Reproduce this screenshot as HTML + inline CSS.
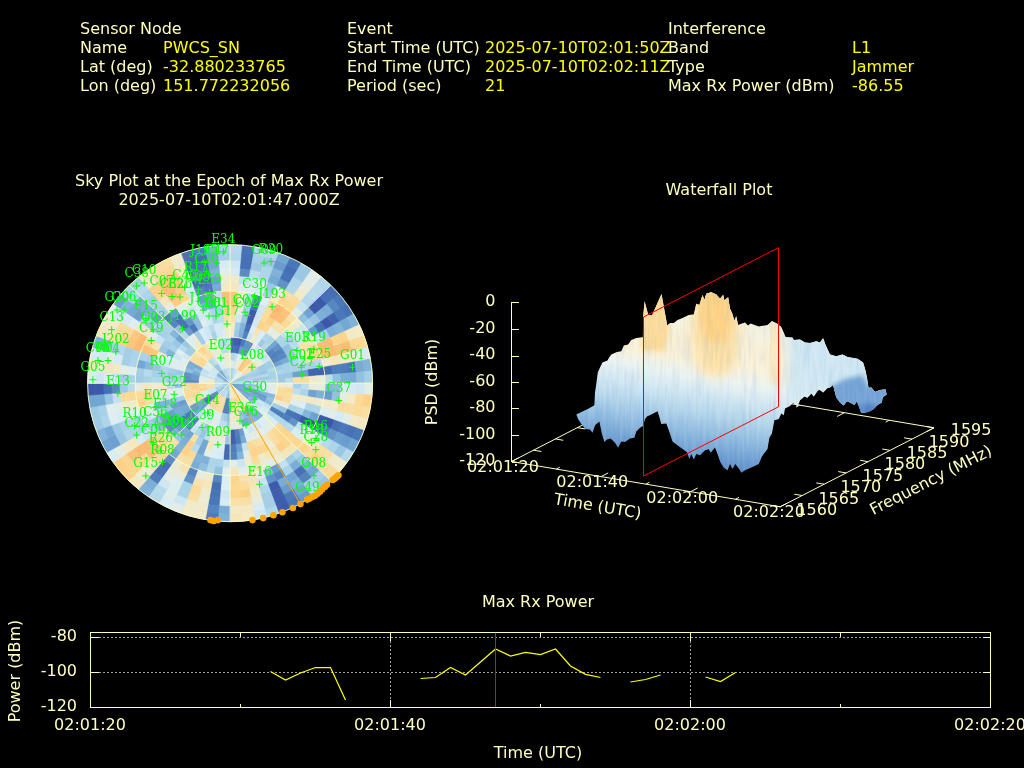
<!DOCTYPE html>
<html><head><meta charset="utf-8"><title>Interference Event</title>
<style>
html,body{margin:0;padding:0;background:#000;overflow:hidden}
svg{display:block;font-family:"DejaVu Sans","Liberation Sans",sans-serif}
</style></head><body>
<svg width="1024" height="768" viewBox="0 0 1024 768">
<rect width="1024" height="768" fill="#000"/>
<text x="80" y="33.76" fill="#FFFFBF" text-anchor="start" font-size="16" >Sensor Node</text>
<text x="80" y="52.76" fill="#FFFFBF" text-anchor="start" font-size="16" >Name</text>
<text x="163" y="52.76" fill="#FFFF00" text-anchor="start" font-size="16" >PWCS_SN</text>
<text x="80" y="71.76" fill="#FFFFBF" text-anchor="start" font-size="16" >Lat (deg)</text>
<text x="163" y="71.76" fill="#FFFF00" text-anchor="start" font-size="16" >-32.880233765</text>
<text x="80" y="90.76" fill="#FFFFBF" text-anchor="start" font-size="16" >Lon (deg)</text>
<text x="163" y="90.76" fill="#FFFF00" text-anchor="start" font-size="16" >151.772232056</text>
<text x="347" y="33.76" fill="#FFFFBF" text-anchor="start" font-size="16" >Event</text>
<text x="347" y="52.76" fill="#FFFFBF" text-anchor="start" font-size="16" >Start Time (UTC)</text>
<text x="485" y="52.76" fill="#FFFF00" text-anchor="start" font-size="16" >2025-07-10T02:01:50Z</text>
<text x="347" y="71.76" fill="#FFFFBF" text-anchor="start" font-size="16" >End Time (UTC)</text>
<text x="485" y="71.76" fill="#FFFF00" text-anchor="start" font-size="16" >2025-07-10T02:02:11Z</text>
<text x="347" y="90.76" fill="#FFFFBF" text-anchor="start" font-size="16" >Period (sec)</text>
<text x="485" y="90.76" fill="#FFFF00" text-anchor="start" font-size="16" >21</text>
<text x="668" y="33.76" fill="#FFFFBF" text-anchor="start" font-size="16" >Interference</text>
<text x="668" y="52.76" fill="#FFFFBF" text-anchor="start" font-size="16" >Band</text>
<text x="852" y="52.76" fill="#FFFF00" text-anchor="start" font-size="16" >L1</text>
<text x="668" y="71.76" fill="#FFFFBF" text-anchor="start" font-size="16" >Type</text>
<text x="852" y="71.76" fill="#FFFF00" text-anchor="start" font-size="16" >Jammer</text>
<text x="668" y="90.76" fill="#FFFFBF" text-anchor="start" font-size="16" >Max Rx Power (dBm)</text>
<text x="852" y="90.76" fill="#FFFF00" text-anchor="start" font-size="16" >-86.55</text>
<text x="229" y="185.76" fill="#FFFFBF" text-anchor="middle" font-size="16" >Sky Plot at the Epoch of Max Rx Power</text>
<text x="229" y="204.76" fill="#FFFFBF" text-anchor="middle" font-size="16" >2025-07-10T02:01:47.000Z</text>
<text x="719" y="194.76" fill="#FFFFBF" text-anchor="middle" font-size="16" >Waterfall Plot</text>
<text x="538" y="606.76" fill="#FFFFBF" text-anchor="middle" font-size="16" >Max Rx Power</text>
<text x="538" y="757.76" fill="#FFFFBF" text-anchor="middle" font-size="16" >Time (UTC)</text>
<g shape-rendering="crispEdges" stroke="#FFFFBF" stroke-width="1" fill="none">
<line x1="90.5" y1="637.5" x2="990.5" y2="637.5" stroke-dasharray="2,2" stroke="#A0A0A0"/>
<line x1="90.5" y1="672.5" x2="990.5" y2="672.5" stroke-dasharray="2,2" stroke="#A0A0A0"/>
<line x1="390.5" y1="632.5" x2="390.5" y2="707.5" stroke-dasharray="2,2" stroke="#A0A0A0"/>
<line x1="690.5" y1="632.5" x2="690.5" y2="707.5" stroke-dasharray="2,2" stroke="#A0A0A0"/>
<rect x="90.5" y="632.5" width="900.0" height="75.0"/>
<line x1="90.5" y1="637.5" x2="98.5" y2="637.5"/><line x1="982.5" y1="637.5" x2="990.5" y2="637.5"/>
<line x1="90.5" y1="672.5" x2="98.5" y2="672.5"/><line x1="982.5" y1="672.5" x2="990.5" y2="672.5"/>
<line x1="390.5" y1="632.5" x2="390.5" y2="640.5"/><line x1="390.5" y1="699.5" x2="390.5" y2="707.5"/>
<line x1="690.5" y1="632.5" x2="690.5" y2="640.5"/><line x1="690.5" y1="699.5" x2="690.5" y2="707.5"/>
<line x1="240.5" y1="632.5" x2="240.5" y2="636.5"/><line x1="240.5" y1="703.5" x2="240.5" y2="707.5"/>
<line x1="540.5" y1="632.5" x2="540.5" y2="636.5"/><line x1="540.5" y1="703.5" x2="540.5" y2="707.5"/>
<line x1="840.5" y1="632.5" x2="840.5" y2="636.5"/><line x1="840.5" y1="703.5" x2="840.5" y2="707.5"/>
</g>
<text x="77" y="641.06" fill="#FFFFBF" text-anchor="end" font-size="16" >-80</text>
<text x="77" y="676.06" fill="#FFFFBF" text-anchor="end" font-size="16" >-100</text>
<text x="77" y="711.06" fill="#FFFFBF" text-anchor="end" font-size="16" >-120</text>
<text x="90" y="729.76" fill="#FFFFBF" text-anchor="middle" font-size="16" >02:01:20</text>
<text x="390" y="729.76" fill="#FFFFBF" text-anchor="middle" font-size="16" >02:01:40</text>
<text x="690" y="729.76" fill="#FFFFBF" text-anchor="middle" font-size="16" >02:02:00</text>
<text x="990" y="729.76" fill="#FFFFBF" text-anchor="middle" font-size="16" >02:02:20</text>
<text transform="translate(14,671) rotate(-90)" y="5.8" fill="#FFFFBF" text-anchor="middle" font-size="16">Power (dBm)</text>
<polyline fill="none" stroke="#FFFF00" stroke-width="1.25" points="270.5,671.5 285.5,680 300.5,673 315.5,667.5 330.5,667.5 345.5,700"/>
<polyline fill="none" stroke="#FFFF00" stroke-width="1.25" points="420.5,678.5 435.5,677.5 450.5,667.5 465.5,675 480.5,662 495.5,649 510.5,656 525.5,652.5 540.5,654.5 555.5,649 570.5,666 585.5,674.3 600.5,677.5"/>
<polyline fill="none" stroke="#FFFF00" stroke-width="1.25" points="630.5,682 645.5,679.5 660.5,675"/>
<polyline fill="none" stroke="#FFFF00" stroke-width="1.25" points="705.5,677 720.5,681.5 735.5,672.5"/>
<line x1="495.5" y1="633" x2="495.5" y2="707" stroke="#FF0000" stroke-width="1" shape-rendering="crispEdges"/>
<ellipse cx="230.1" cy="383.2" rx="142.5" ry="138.5" fill="#A9D3E8"/>
<path d="M230.1,375.5 L230.3,375.5 L230.6,375.5 L230.8,375.5 L230.1,383.2Z" fill="#A3CEE6" stroke="#A3CEE6" stroke-width="0.6"/>
<path d="M230.1,367.8 L230.6,367.8 L231.0,367.8 L231.5,367.9 L230.8,375.5 L230.6,375.5 L230.3,375.5 L230.1,375.5Z" fill="#A6D0E7" stroke="#A6D0E7" stroke-width="0.6"/>
<path d="M230.1,360.1 L230.8,360.1 L231.5,360.2 L232.2,360.2 L231.5,367.9 L231.0,367.8 L230.6,367.8 L230.1,367.8Z" fill="#D9ECF5" stroke="#D9ECF5" stroke-width="0.6"/>
<path d="M230.1,352.4 L231.0,352.4 L231.9,352.5 L232.9,352.5 L232.2,360.2 L231.5,360.2 L230.8,360.1 L230.1,360.1Z" fill="#B0D7EA" stroke="#B0D7EA" stroke-width="0.6"/>
<path d="M230.1,344.7 L231.3,344.7 L232.4,344.8 L233.5,344.9 L232.9,352.5 L231.9,352.5 L231.0,352.4 L230.1,352.4Z" fill="#446BB2" stroke="#446BB2" stroke-width="0.6"/>
<path d="M230.1,337.0 L231.5,337.1 L232.9,337.1 L234.2,337.2 L233.5,344.9 L232.4,344.8 L231.3,344.7 L230.1,344.7Z" fill="#456CB3" stroke="#456CB3" stroke-width="0.6"/>
<path d="M230.1,329.3 L231.7,329.4 L233.3,329.4 L234.9,329.5 L234.2,337.2 L232.9,337.1 L231.5,337.1 L230.1,337.0Z" fill="#EDECD4" stroke="#EDECD4" stroke-width="0.6"/>
<path d="M230.1,321.6 L231.9,321.7 L233.8,321.7 L235.6,321.9 L234.9,329.5 L233.3,329.4 L231.7,329.4 L230.1,329.3Z" fill="#F4E9C1" stroke="#F4E9C1" stroke-width="0.6"/>
<path d="M230.1,313.9 L232.2,314.0 L234.2,314.1 L236.3,314.2 L235.6,321.9 L233.8,321.7 L231.9,321.7 L230.1,321.6Z" fill="#F9E0A7" stroke="#F9E0A7" stroke-width="0.6"/>
<path d="M230.1,306.3 L232.4,306.3 L234.7,306.4 L237.0,306.5 L236.3,314.2 L234.2,314.1 L232.2,314.0 L230.1,313.9Z" fill="#FDD68E" stroke="#FDD68E" stroke-width="0.6"/>
<path d="M230.1,298.6 L232.6,298.6 L235.2,298.7 L237.7,298.9 L237.0,306.5 L234.7,306.4 L232.4,306.3 L230.1,306.3Z" fill="#FDC67E" stroke="#FDC67E" stroke-width="0.6"/>
<path d="M230.1,290.9 L232.9,290.9 L235.6,291.0 L238.4,291.2 L237.7,298.9 L235.2,298.7 L232.6,298.6 L230.1,298.6Z" fill="#FDC981" stroke="#FDC981" stroke-width="0.6"/>
<path d="M230.1,283.2 L233.1,283.2 L236.1,283.3 L239.1,283.6 L238.4,291.2 L235.6,291.0 L232.9,290.9 L230.1,290.9Z" fill="#F5E7BD" stroke="#F5E7BD" stroke-width="0.6"/>
<path d="M230.1,275.5 L233.3,275.5 L236.5,275.7 L239.8,275.9 L239.1,283.6 L236.1,283.3 L233.1,283.2 L230.1,283.2Z" fill="#F4EAC4" stroke="#F4EAC4" stroke-width="0.6"/>
<path d="M230.1,267.8 L233.6,267.8 L237.0,268.0 L240.4,268.2 L239.8,275.9 L236.5,275.7 L233.3,275.5 L230.1,275.5Z" fill="#D7EBF5" stroke="#D7EBF5" stroke-width="0.6"/>
<path d="M230.1,260.1 L233.8,260.1 L237.5,260.3 L241.1,260.6 L240.4,268.2 L237.0,268.0 L233.6,267.8 L230.1,267.8Z" fill="#CDE6F2" stroke="#CDE6F2" stroke-width="0.6"/>
<path d="M230.1,252.4 L234.0,252.4 L237.9,252.6 L241.8,252.9 L241.1,260.6 L237.5,260.3 L233.8,260.1 L230.1,260.1Z" fill="#B3D8EB" stroke="#B3D8EB" stroke-width="0.6"/>
<path d="M230.1,244.7 L234.2,244.8 L238.4,244.9 L242.5,245.2 L241.8,252.9 L237.9,252.6 L234.0,252.4 L230.1,252.4Z" fill="#B7DAEC" stroke="#B7DAEC" stroke-width="0.6"/>
<path d="M230.8,375.5 L231.0,375.6 L231.2,375.6 L231.5,375.6 L230.1,383.2Z" fill="#ABD4E9" stroke="#ABD4E9" stroke-width="0.6"/>
<path d="M231.5,367.9 L231.9,367.9 L232.4,368.0 L232.8,368.0 L231.5,375.6 L231.2,375.6 L231.0,375.6 L230.8,375.5Z" fill="#ADD5E9" stroke="#ADD5E9" stroke-width="0.6"/>
<path d="M232.2,360.2 L232.9,360.3 L233.5,360.4 L234.2,360.5 L232.8,368.0 L232.4,368.0 L231.9,367.9 L231.5,367.9Z" fill="#DFEEF0" stroke="#DFEEF0" stroke-width="0.6"/>
<path d="M232.9,352.5 L233.8,352.6 L234.7,352.7 L235.6,352.9 L234.2,360.5 L233.5,360.4 L232.9,360.3 L232.2,360.2Z" fill="#B0D6EA" stroke="#B0D6EA" stroke-width="0.6"/>
<path d="M233.5,344.9 L234.7,345.0 L235.8,345.1 L237.0,345.3 L235.6,352.9 L234.7,352.7 L233.8,352.6 L232.9,352.5Z" fill="#4772B5" stroke="#4772B5" stroke-width="0.6"/>
<path d="M234.2,337.2 L235.6,337.3 L237.0,337.5 L238.3,337.7 L237.0,345.3 L235.8,345.1 L234.7,345.0 L233.5,344.9Z" fill="#4060AD" stroke="#4060AD" stroke-width="0.6"/>
<path d="M234.9,329.5 L236.5,329.7 L238.1,329.9 L239.7,330.2 L238.3,337.7 L237.0,337.5 L235.6,337.3 L234.2,337.2Z" fill="#9ECAE4" stroke="#9ECAE4" stroke-width="0.6"/>
<path d="M235.6,321.9 L237.5,322.1 L239.3,322.3 L241.1,322.6 L239.7,330.2 L238.1,329.9 L236.5,329.7 L234.9,329.5Z" fill="#A3CFE6" stroke="#A3CFE6" stroke-width="0.6"/>
<path d="M236.3,314.2 L238.4,314.4 L240.4,314.7 L242.5,315.0 L241.1,322.6 L239.3,322.3 L237.5,322.1 L235.6,321.9Z" fill="#D0E8F3" stroke="#D0E8F3" stroke-width="0.6"/>
<path d="M237.0,306.5 L239.3,306.8 L241.6,307.1 L243.8,307.4 L242.5,315.0 L240.4,314.7 L238.4,314.4 L236.3,314.2Z" fill="#E3EDE8" stroke="#E3EDE8" stroke-width="0.6"/>
<path d="M237.7,298.9 L240.2,299.1 L242.7,299.5 L245.2,299.8 L243.8,307.4 L241.6,307.1 L239.3,306.8 L237.0,306.5Z" fill="#ECECD7" stroke="#ECECD7" stroke-width="0.6"/>
<path d="M238.4,291.2 L241.1,291.5 L243.9,291.8 L246.6,292.3 L245.2,299.8 L242.7,299.5 L240.2,299.1 L237.7,298.9Z" fill="#F1EBCB" stroke="#F1EBCB" stroke-width="0.6"/>
<path d="M239.1,283.6 L242.0,283.8 L245.0,284.2 L248.0,284.7 L246.6,292.3 L243.9,291.8 L241.1,291.5 L238.4,291.2Z" fill="#E1EDEC" stroke="#E1EDEC" stroke-width="0.6"/>
<path d="M239.8,275.9 L243.0,276.2 L246.2,276.6 L249.3,277.1 L248.0,284.7 L245.0,284.2 L242.0,283.8 L239.1,283.6Z" fill="#C5E2F0" stroke="#C5E2F0" stroke-width="0.6"/>
<path d="M240.4,268.2 L243.9,268.6 L247.3,269.0 L250.7,269.5 L249.3,277.1 L246.2,276.6 L243.0,276.2 L239.8,275.9Z" fill="#5B8BC3" stroke="#5B8BC3" stroke-width="0.6"/>
<path d="M241.1,260.6 L244.8,260.9 L248.5,261.4 L252.1,262.0 L250.7,269.5 L247.3,269.0 L243.9,268.6 L240.4,268.2Z" fill="#466FB4" stroke="#466FB4" stroke-width="0.6"/>
<path d="M241.8,252.9 L245.7,253.3 L249.6,253.8 L253.5,254.4 L252.1,262.0 L248.5,261.4 L244.8,260.9 L241.1,260.6Z" fill="#466FB4" stroke="#466FB4" stroke-width="0.6"/>
<path d="M242.5,245.2 L246.6,245.6 L250.8,246.2 L254.8,246.8 L253.5,254.4 L249.6,253.8 L245.7,253.3 L241.8,252.9Z" fill="#4772B5" stroke="#4772B5" stroke-width="0.6"/>
<path d="M231.5,375.6 L231.7,375.7 L231.9,375.7 L232.1,375.8 L230.1,383.2Z" fill="#AFD6EA" stroke="#AFD6EA" stroke-width="0.6"/>
<path d="M232.8,368.0 L233.3,368.1 L233.8,368.2 L234.2,368.3 L232.1,375.8 L231.9,375.7 L231.7,375.7 L231.5,375.6Z" fill="#AED6E9" stroke="#AED6E9" stroke-width="0.6"/>
<path d="M234.2,360.5 L234.9,360.6 L235.6,360.7 L236.2,360.9 L234.2,368.3 L233.8,368.2 L233.3,368.1 L232.8,368.0Z" fill="#CFE7F2" stroke="#CFE7F2" stroke-width="0.6"/>
<path d="M235.6,352.9 L236.5,353.1 L237.4,353.3 L238.3,353.5 L236.2,360.9 L235.6,360.7 L234.9,360.6 L234.2,360.5Z" fill="#C0DFEE" stroke="#C0DFEE" stroke-width="0.6"/>
<path d="M237.0,345.3 L238.1,345.5 L239.2,345.8 L240.3,346.0 L238.3,353.5 L237.4,353.3 L236.5,353.1 L235.6,352.9Z" fill="#4469B1" stroke="#4469B1" stroke-width="0.6"/>
<path d="M238.3,337.7 L239.7,338.0 L241.1,338.3 L242.4,338.6 L240.3,346.0 L239.2,345.8 L238.1,345.5 L237.0,345.3Z" fill="#3E5BAB" stroke="#3E5BAB" stroke-width="0.6"/>
<path d="M239.7,330.2 L241.3,330.5 L242.9,330.8 L244.4,331.2 L242.4,338.6 L241.1,338.3 L239.7,338.0 L238.3,337.7Z" fill="#7DB0D8" stroke="#7DB0D8" stroke-width="0.6"/>
<path d="M241.1,322.6 L242.9,322.9 L244.7,323.3 L246.5,323.7 L244.4,331.2 L242.9,330.8 L241.3,330.5 L239.7,330.2Z" fill="#81B3D9" stroke="#81B3D9" stroke-width="0.6"/>
<path d="M242.5,315.0 L244.5,315.4 L246.5,315.8 L248.5,316.3 L246.5,323.7 L244.7,323.3 L242.9,322.9 L241.1,322.6Z" fill="#9AC7E2" stroke="#9AC7E2" stroke-width="0.6"/>
<path d="M243.8,307.4 L246.1,307.8 L248.4,308.3 L250.6,308.9 L248.5,316.3 L246.5,315.8 L244.5,315.4 L242.5,315.0Z" fill="#ABD4E9" stroke="#ABD4E9" stroke-width="0.6"/>
<path d="M245.2,299.8 L247.7,300.3 L250.2,300.8 L252.6,301.4 L250.6,308.9 L248.4,308.3 L246.1,307.8 L243.8,307.4Z" fill="#AAD3E8" stroke="#AAD3E8" stroke-width="0.6"/>
<path d="M246.6,292.3 L249.3,292.8 L252.0,293.4 L254.7,294.0 L252.6,301.4 L250.2,300.8 L247.7,300.3 L245.2,299.8Z" fill="#BBDCED" stroke="#BBDCED" stroke-width="0.6"/>
<path d="M248.0,284.7 L250.9,285.2 L253.8,285.9 L256.7,286.6 L254.7,294.0 L252.0,293.4 L249.3,292.8 L246.6,292.3Z" fill="#DCEEF5" stroke="#DCEEF5" stroke-width="0.6"/>
<path d="M249.3,277.1 L252.5,277.7 L255.7,278.4 L258.8,279.1 L256.7,286.6 L253.8,285.9 L250.9,285.2 L248.0,284.7Z" fill="#CFE7F2" stroke="#CFE7F2" stroke-width="0.6"/>
<path d="M250.7,269.5 L254.1,270.2 L257.5,270.9 L260.8,271.7 L258.8,279.1 L255.7,278.4 L252.5,277.7 L249.3,277.1Z" fill="#BEDEEE" stroke="#BEDEEE" stroke-width="0.6"/>
<path d="M252.1,262.0 L255.7,262.6 L259.3,263.4 L262.9,264.3 L260.8,271.7 L257.5,270.9 L254.1,270.2 L250.7,269.5Z" fill="#9DC9E3" stroke="#9DC9E3" stroke-width="0.6"/>
<path d="M253.5,254.4 L257.3,255.1 L261.1,255.9 L264.9,256.9 L262.9,264.3 L259.3,263.4 L255.7,262.6 L252.1,262.0Z" fill="#A6D1E7" stroke="#A6D1E7" stroke-width="0.6"/>
<path d="M254.8,246.8 L258.9,247.6 L263.0,248.4 L267.0,249.4 L264.9,256.9 L261.1,255.9 L257.3,255.1 L253.5,254.4Z" fill="#B1D7EA" stroke="#B1D7EA" stroke-width="0.6"/>
<path d="M232.1,375.8 L232.4,375.8 L232.6,375.9 L232.8,376.0 L230.1,383.2Z" fill="#9ECAE4" stroke="#9ECAE4" stroke-width="0.6"/>
<path d="M234.2,368.3 L234.6,368.5 L235.1,368.6 L235.5,368.7 L232.8,376.0 L232.6,375.9 L232.4,375.8 L232.1,375.8Z" fill="#B8DBEC" stroke="#B8DBEC" stroke-width="0.6"/>
<path d="M236.2,360.9 L236.9,361.1 L237.6,361.3 L238.2,361.5 L235.5,368.7 L235.1,368.6 L234.6,368.5 L234.2,368.3Z" fill="#E6EDE3" stroke="#E6EDE3" stroke-width="0.6"/>
<path d="M238.3,353.5 L239.2,353.7 L240.1,354.0 L240.9,354.3 L238.2,361.5 L237.6,361.3 L236.9,361.1 L236.2,360.9Z" fill="#E8ECDF" stroke="#E8ECDF" stroke-width="0.6"/>
<path d="M240.3,346.0 L241.5,346.3 L242.6,346.7 L243.6,347.0 L240.9,354.3 L240.1,354.0 L239.2,353.7 L238.3,353.5Z" fill="#6A9CCD" stroke="#6A9CCD" stroke-width="0.6"/>
<path d="M242.4,338.6 L243.7,339.0 L245.0,339.4 L246.3,339.8 L243.6,347.0 L242.6,346.7 L241.5,346.3 L240.3,346.0Z" fill="#4C7AB9" stroke="#4C7AB9" stroke-width="0.6"/>
<path d="M244.4,331.2 L246.0,331.6 L247.5,332.1 L249.1,332.6 L246.3,339.8 L245.0,339.4 L243.7,339.0 L242.4,338.6Z" fill="#5383BE" stroke="#5383BE" stroke-width="0.6"/>
<path d="M246.5,323.7 L248.3,324.2 L250.0,324.8 L251.8,325.4 L249.1,332.6 L247.5,332.1 L246.0,331.6 L244.4,331.2Z" fill="#4670B4" stroke="#4670B4" stroke-width="0.6"/>
<path d="M248.5,316.3 L250.5,316.9 L252.5,317.5 L254.5,318.1 L251.8,325.4 L250.0,324.8 L248.3,324.2 L246.5,323.7Z" fill="#3F5DAC" stroke="#3F5DAC" stroke-width="0.6"/>
<path d="M250.6,308.9 L252.8,309.5 L255.0,310.2 L257.2,310.9 L254.5,318.1 L252.5,317.5 L250.5,316.9 L248.5,316.3Z" fill="#3E5BAB" stroke="#3E5BAB" stroke-width="0.6"/>
<path d="M252.6,301.4 L255.1,302.1 L257.5,302.9 L259.9,303.7 L257.2,310.9 L255.0,310.2 L252.8,309.5 L250.6,308.9Z" fill="#4975B7" stroke="#4975B7" stroke-width="0.6"/>
<path d="M254.7,294.0 L257.3,294.7 L260.0,295.6 L262.6,296.4 L259.9,303.7 L257.5,302.9 L255.1,302.1 L252.6,301.4Z" fill="#5989C2" stroke="#5989C2" stroke-width="0.6"/>
<path d="M256.7,286.6 L259.6,287.4 L262.5,288.2 L265.3,289.2 L262.6,296.4 L260.0,295.6 L257.3,294.7 L254.7,294.0Z" fill="#D3E9F4" stroke="#D3E9F4" stroke-width="0.6"/>
<path d="M258.8,279.1 L261.9,280.0 L265.0,280.9 L268.0,282.0 L265.3,289.2 L262.5,288.2 L259.6,287.4 L256.7,286.6Z" fill="#DFEEEF" stroke="#DFEEEF" stroke-width="0.6"/>
<path d="M260.8,271.7 L264.2,272.6 L267.5,273.6 L270.7,274.7 L268.0,282.0 L265.0,280.9 L261.9,280.0 L258.8,279.1Z" fill="#AFD6EA" stroke="#AFD6EA" stroke-width="0.6"/>
<path d="M262.9,264.3 L266.4,265.3 L269.9,266.3 L273.4,267.5 L270.7,274.7 L267.5,273.6 L264.2,272.6 L260.8,271.7Z" fill="#AED6E9" stroke="#AED6E9" stroke-width="0.6"/>
<path d="M264.9,256.9 L268.7,257.9 L272.4,259.0 L276.1,260.3 L273.4,267.5 L269.9,266.3 L266.4,265.3 L262.9,264.3Z" fill="#9BC8E3" stroke="#9BC8E3" stroke-width="0.6"/>
<path d="M267.0,249.4 L271.0,250.5 L274.9,251.7 L278.8,253.1 L276.1,260.3 L272.4,259.0 L268.7,257.9 L264.9,256.9Z" fill="#AFD6EA" stroke="#AFD6EA" stroke-width="0.6"/>
<path d="M232.8,376.0 L233.0,376.0 L233.2,376.1 L233.4,376.2 L230.1,383.2Z" fill="#AED5E9" stroke="#AED5E9" stroke-width="0.6"/>
<path d="M235.5,368.7 L235.9,368.9 L236.4,369.1 L236.8,369.3 L233.4,376.2 L233.2,376.1 L233.0,376.0 L232.8,376.0Z" fill="#C7E3F0" stroke="#C7E3F0" stroke-width="0.6"/>
<path d="M238.2,361.5 L238.9,361.7 L239.5,362.0 L240.1,362.3 L236.8,369.3 L236.4,369.1 L235.9,368.9 L235.5,368.7Z" fill="#F1EBCD" stroke="#F1EBCD" stroke-width="0.6"/>
<path d="M240.9,354.3 L241.8,354.6 L242.6,354.9 L243.5,355.3 L240.1,362.3 L239.5,362.0 L238.9,361.7 L238.2,361.5Z" fill="#E2EDEA" stroke="#E2EDEA" stroke-width="0.6"/>
<path d="M243.6,347.0 L244.7,347.4 L245.8,347.9 L246.8,348.3 L243.5,355.3 L242.6,354.9 L241.8,354.6 L240.9,354.3Z" fill="#6092C7" stroke="#6092C7" stroke-width="0.6"/>
<path d="M246.3,339.8 L247.6,340.3 L248.9,340.8 L250.2,341.4 L246.8,348.3 L245.8,347.9 L244.7,347.4 L243.6,347.0Z" fill="#6192C7" stroke="#6192C7" stroke-width="0.6"/>
<path d="M249.1,332.6 L250.6,333.1 L252.0,333.7 L253.5,334.4 L250.2,341.4 L248.9,340.8 L247.6,340.3 L246.3,339.8Z" fill="#CDE6F2" stroke="#CDE6F2" stroke-width="0.6"/>
<path d="M251.8,325.4 L253.5,326.0 L255.2,326.7 L256.9,327.4 L253.5,334.4 L252.0,333.7 L250.6,333.1 L249.1,332.6Z" fill="#DBEDF6" stroke="#DBEDF6" stroke-width="0.6"/>
<path d="M254.5,318.1 L256.4,318.8 L258.3,319.6 L260.2,320.4 L256.9,327.4 L255.2,326.7 L253.5,326.0 L251.8,325.4Z" fill="#D2E9F3" stroke="#D2E9F3" stroke-width="0.6"/>
<path d="M257.2,310.9 L259.3,311.7 L261.5,312.5 L263.6,313.5 L260.2,320.4 L258.3,319.6 L256.4,318.8 L254.5,318.1Z" fill="#D0E8F3" stroke="#D0E8F3" stroke-width="0.6"/>
<path d="M259.9,303.7 L262.3,304.5 L264.6,305.5 L266.9,306.5 L263.6,313.5 L261.5,312.5 L259.3,311.7 L257.2,310.9Z" fill="#CFE7F2" stroke="#CFE7F2" stroke-width="0.6"/>
<path d="M262.6,296.4 L265.2,297.4 L267.7,298.4 L270.2,299.5 L266.9,306.5 L264.6,305.5 L262.3,304.5 L259.9,303.7Z" fill="#DDEEF4" stroke="#DDEEF4" stroke-width="0.6"/>
<path d="M265.3,289.2 L268.1,290.2 L270.9,291.4 L273.6,292.5 L270.2,299.5 L267.7,298.4 L265.2,297.4 L262.6,296.4Z" fill="#A4CFE6" stroke="#A4CFE6" stroke-width="0.6"/>
<path d="M268.0,282.0 L271.0,283.1 L274.0,284.3 L276.9,285.6 L273.6,292.5 L270.9,291.4 L268.1,290.2 L265.3,289.2Z" fill="#9AC7E2" stroke="#9AC7E2" stroke-width="0.6"/>
<path d="M270.7,274.7 L273.9,275.9 L277.1,277.2 L280.3,278.6 L276.9,285.6 L274.0,284.3 L271.0,283.1 L268.0,282.0Z" fill="#77ABD5" stroke="#77ABD5" stroke-width="0.6"/>
<path d="M273.4,267.5 L276.9,268.8 L280.3,270.2 L283.6,271.6 L280.3,278.6 L277.1,277.2 L273.9,275.9 L270.7,274.7Z" fill="#80B2D8" stroke="#80B2D8" stroke-width="0.6"/>
<path d="M276.1,260.3 L279.8,261.6 L283.4,263.1 L287.0,264.6 L283.6,271.6 L280.3,270.2 L276.9,268.8 L273.4,267.5Z" fill="#699CCD" stroke="#699CCD" stroke-width="0.6"/>
<path d="M278.8,253.1 L282.7,254.5 L286.5,256.0 L290.3,257.7 L287.0,264.6 L283.4,263.1 L279.8,261.6 L276.1,260.3Z" fill="#73A7D3" stroke="#73A7D3" stroke-width="0.6"/>
<path d="M233.4,376.2 L233.7,376.3 L233.9,376.4 L234.1,376.5 L230.1,383.2Z" fill="#ABD4E8" stroke="#ABD4E8" stroke-width="0.6"/>
<path d="M236.8,369.3 L237.2,369.4 L237.6,369.7 L238.0,369.9 L234.1,376.5 L233.9,376.4 L233.7,376.3 L233.4,376.2Z" fill="#C4E1EF" stroke="#C4E1EF" stroke-width="0.6"/>
<path d="M240.1,362.3 L240.8,362.6 L241.4,362.9 L242.0,363.2 L238.0,369.9 L237.6,369.7 L237.2,369.4 L236.8,369.3Z" fill="#F1EBCD" stroke="#F1EBCD" stroke-width="0.6"/>
<path d="M243.5,355.3 L244.3,355.7 L245.1,356.1 L245.9,356.5 L242.0,363.2 L241.4,362.9 L240.8,362.6 L240.1,362.3Z" fill="#EAECDA" stroke="#EAECDA" stroke-width="0.6"/>
<path d="M246.8,348.3 L247.9,348.8 L248.9,349.3 L249.9,349.9 L245.9,356.5 L245.1,356.1 L244.3,355.7 L243.5,355.3Z" fill="#5E8EC5" stroke="#5E8EC5" stroke-width="0.6"/>
<path d="M250.2,341.4 L251.4,341.9 L252.6,342.6 L253.8,343.2 L249.9,349.9 L248.9,349.3 L247.9,348.8 L246.8,348.3Z" fill="#6192C7" stroke="#6192C7" stroke-width="0.6"/>
<path d="M253.5,334.4 L255.0,335.1 L256.4,335.8 L257.8,336.6 L253.8,343.2 L252.6,342.6 L251.4,341.9 L250.2,341.4Z" fill="#F1EBCC" stroke="#F1EBCC" stroke-width="0.6"/>
<path d="M256.9,327.4 L258.5,328.2 L260.2,329.0 L261.8,329.9 L257.8,336.6 L256.4,335.8 L255.0,335.1 L253.5,334.4Z" fill="#F7E4B4" stroke="#F7E4B4" stroke-width="0.6"/>
<path d="M260.2,320.4 L262.1,321.3 L263.9,322.2 L265.7,323.2 L261.8,329.9 L260.2,329.0 L258.5,328.2 L256.9,327.4Z" fill="#FDD48C" stroke="#FDD48C" stroke-width="0.6"/>
<path d="M263.6,313.5 L265.6,314.4 L267.7,315.5 L269.7,316.6 L265.7,323.2 L263.9,322.2 L262.1,321.3 L260.2,320.4Z" fill="#FBDC9C" stroke="#FBDC9C" stroke-width="0.6"/>
<path d="M266.9,306.5 L269.2,307.6 L271.4,308.7 L273.6,309.9 L269.7,316.6 L267.7,315.5 L265.6,314.4 L263.6,313.5Z" fill="#FBDC9B" stroke="#FBDC9B" stroke-width="0.6"/>
<path d="M270.2,299.5 L272.7,300.7 L275.2,301.9 L277.6,303.2 L273.6,309.9 L271.4,308.7 L269.2,307.6 L266.9,306.5Z" fill="#FADDA0" stroke="#FADDA0" stroke-width="0.6"/>
<path d="M273.6,292.5 L276.3,293.8 L278.9,295.2 L281.6,296.6 L277.6,303.2 L275.2,301.9 L272.7,300.7 L270.2,299.5Z" fill="#F2EBCA" stroke="#F2EBCA" stroke-width="0.6"/>
<path d="M276.9,285.6 L279.8,286.9 L282.7,288.4 L285.5,289.9 L281.6,296.6 L278.9,295.2 L276.3,293.8 L273.6,292.5Z" fill="#E7EDDF" stroke="#E7EDDF" stroke-width="0.6"/>
<path d="M280.3,278.6 L283.4,280.1 L286.5,281.6 L289.5,283.2 L285.5,289.9 L282.7,288.4 L279.8,286.9 L276.9,285.6Z" fill="#6193C7" stroke="#6193C7" stroke-width="0.6"/>
<path d="M283.6,271.6 L286.9,273.2 L290.2,274.8 L293.4,276.6 L289.5,283.2 L286.5,281.6 L283.4,280.1 L280.3,278.6Z" fill="#4873B6" stroke="#4873B6" stroke-width="0.6"/>
<path d="M287.0,264.6 L290.5,266.3 L294.0,268.1 L297.4,269.9 L293.4,276.6 L290.2,274.8 L286.9,273.2 L283.6,271.6Z" fill="#466EB3" stroke="#466EB3" stroke-width="0.6"/>
<path d="M290.3,257.7 L294.1,259.4 L297.7,261.3 L301.3,263.3 L297.4,269.9 L294.0,268.1 L290.5,266.3 L287.0,264.6Z" fill="#4976B7" stroke="#4976B7" stroke-width="0.6"/>
<path d="M234.1,376.5 L234.3,376.7 L234.5,376.8 L234.6,376.9 L230.1,383.2Z" fill="#D8ECF5" stroke="#D8ECF5" stroke-width="0.6"/>
<path d="M238.0,369.9 L238.4,370.1 L238.8,370.3 L239.2,370.6 L234.6,376.9 L234.5,376.8 L234.3,376.7 L234.1,376.5Z" fill="#E7EDDF" stroke="#E7EDDF" stroke-width="0.6"/>
<path d="M242.0,363.2 L242.6,363.6 L243.2,363.9 L243.7,364.3 L239.2,370.6 L238.8,370.3 L238.4,370.1 L238.0,369.9Z" fill="#FDC078" stroke="#FDC078" stroke-width="0.6"/>
<path d="M245.9,356.5 L246.7,357.0 L247.5,357.5 L248.3,358.0 L243.7,364.3 L243.2,363.9 L242.6,363.6 L242.0,363.2Z" fill="#FDC57D" stroke="#FDC57D" stroke-width="0.6"/>
<path d="M249.9,349.9 L250.9,350.5 L251.9,351.1 L252.8,351.7 L248.3,358.0 L247.5,357.5 L246.7,357.0 L245.9,356.5Z" fill="#E7EDE1" stroke="#E7EDE1" stroke-width="0.6"/>
<path d="M253.8,343.2 L255.0,343.9 L256.2,344.6 L257.3,345.4 L252.8,351.7 L251.9,351.1 L250.9,350.5 L249.9,349.9Z" fill="#DEEEF3" stroke="#DEEEF3" stroke-width="0.6"/>
<path d="M257.8,336.6 L259.2,337.4 L260.6,338.2 L261.9,339.1 L257.3,345.4 L256.2,344.6 L255.0,343.9 L253.8,343.2Z" fill="#DEEEF1" stroke="#DEEEF1" stroke-width="0.6"/>
<path d="M261.8,329.9 L263.3,330.8 L264.9,331.8 L266.4,332.8 L261.9,339.1 L260.6,338.2 L259.2,337.4 L257.8,336.6Z" fill="#DBEEF6" stroke="#DBEEF6" stroke-width="0.6"/>
<path d="M265.7,323.2 L267.5,324.3 L269.3,325.3 L271.0,326.5 L266.4,332.8 L264.9,331.8 L263.3,330.8 L261.8,329.9Z" fill="#FDD891" stroke="#FDD891" stroke-width="0.6"/>
<path d="M269.7,316.6 L271.7,317.7 L273.6,318.9 L275.5,320.2 L271.0,326.5 L269.3,325.3 L267.5,324.3 L265.7,323.2Z" fill="#FDD088" stroke="#FDD088" stroke-width="0.6"/>
<path d="M273.6,309.9 L275.8,311.2 L278.0,312.5 L280.0,313.9 L275.5,320.2 L273.6,318.9 L271.7,317.7 L269.7,316.6Z" fill="#FDBB73" stroke="#FDBB73" stroke-width="0.6"/>
<path d="M277.6,303.2 L280.0,304.6 L282.3,306.1 L284.6,307.6 L280.0,313.9 L278.0,312.5 L275.8,311.2 L273.6,309.9Z" fill="#FDBB73" stroke="#FDBB73" stroke-width="0.6"/>
<path d="M281.6,296.6 L284.1,298.1 L286.7,299.6 L289.1,301.3 L284.6,307.6 L282.3,306.1 L280.0,304.6 L277.6,303.2Z" fill="#FDD68E" stroke="#FDD68E" stroke-width="0.6"/>
<path d="M285.5,289.9 L288.3,291.5 L291.0,293.2 L293.7,295.0 L289.1,301.3 L286.7,299.6 L284.1,298.1 L281.6,296.6Z" fill="#F9E0A8" stroke="#F9E0A8" stroke-width="0.6"/>
<path d="M289.5,283.2 L292.4,285.0 L295.4,286.8 L298.2,288.7 L293.7,295.0 L291.0,293.2 L288.3,291.5 L285.5,289.9Z" fill="#B0D7EA" stroke="#B0D7EA" stroke-width="0.6"/>
<path d="M293.4,276.6 L296.6,278.4 L299.7,280.3 L302.8,282.4 L298.2,288.7 L295.4,286.8 L292.4,285.0 L289.5,283.2Z" fill="#ADD5E9" stroke="#ADD5E9" stroke-width="0.6"/>
<path d="M297.4,269.9 L300.8,271.9 L304.1,273.9 L307.3,276.1 L302.8,282.4 L299.7,280.3 L296.6,278.4 L293.4,276.6Z" fill="#9BC8E3" stroke="#9BC8E3" stroke-width="0.6"/>
<path d="M301.3,263.3 L304.9,265.3 L308.4,267.5 L311.8,269.7 L307.3,276.1 L304.1,273.9 L300.8,271.9 L297.4,269.9Z" fill="#9BC8E3" stroke="#9BC8E3" stroke-width="0.6"/>
<path d="M234.6,376.9 L234.8,377.0 L235.0,377.2 L235.2,377.3 L230.1,383.2Z" fill="#D3E9F4" stroke="#D3E9F4" stroke-width="0.6"/>
<path d="M239.2,370.6 L239.6,370.9 L239.9,371.1 L240.3,371.4 L235.2,377.3 L235.0,377.2 L234.8,377.0 L234.6,376.9Z" fill="#E2EDEB" stroke="#E2EDEB" stroke-width="0.6"/>
<path d="M243.7,364.3 L244.3,364.7 L244.8,365.1 L245.4,365.5 L240.3,371.4 L239.9,371.1 L239.6,370.9 L239.2,370.6Z" fill="#FDCB83" stroke="#FDCB83" stroke-width="0.6"/>
<path d="M248.3,358.0 L249.0,358.5 L249.7,359.1 L250.5,359.6 L245.4,365.5 L244.8,365.1 L244.3,364.7 L243.7,364.3Z" fill="#FDD088" stroke="#FDD088" stroke-width="0.6"/>
<path d="M252.8,351.7 L253.7,352.3 L254.7,353.0 L255.5,353.7 L250.5,359.6 L249.7,359.1 L249.0,358.5 L248.3,358.0Z" fill="#DFEEEF" stroke="#DFEEEF" stroke-width="0.6"/>
<path d="M257.3,345.4 L258.5,346.2 L259.6,347.0 L260.6,347.8 L255.5,353.7 L254.7,353.0 L253.7,352.3 L252.8,351.7Z" fill="#CAE4F1" stroke="#CAE4F1" stroke-width="0.6"/>
<path d="M261.9,339.1 L263.2,340.0 L264.5,341.0 L265.7,341.9 L260.6,347.8 L259.6,347.0 L258.5,346.2 L257.3,345.4Z" fill="#9CC9E3" stroke="#9CC9E3" stroke-width="0.6"/>
<path d="M266.4,332.8 L267.9,333.8 L269.4,334.9 L270.8,336.0 L265.7,341.9 L264.5,341.0 L263.2,340.0 L261.9,339.1Z" fill="#B2D8EA" stroke="#B2D8EA" stroke-width="0.6"/>
<path d="M271.0,326.5 L272.6,327.7 L274.3,328.9 L275.9,330.2 L270.8,336.0 L269.4,334.9 L267.9,333.8 L266.4,332.8Z" fill="#E7EDE1" stroke="#E7EDE1" stroke-width="0.6"/>
<path d="M275.5,320.2 L277.4,321.5 L279.2,322.8 L281.0,324.3 L275.9,330.2 L274.3,328.9 L272.6,327.7 L271.0,326.5Z" fill="#F8E2AD" stroke="#F8E2AD" stroke-width="0.6"/>
<path d="M280.0,313.9 L282.1,315.3 L284.1,316.8 L286.1,318.4 L281.0,324.3 L279.2,322.8 L277.4,321.5 L275.5,320.2Z" fill="#FDC078" stroke="#FDC078" stroke-width="0.6"/>
<path d="M284.6,307.6 L286.8,309.1 L289.0,310.8 L291.2,312.5 L286.1,318.4 L284.1,316.8 L282.1,315.3 L280.0,313.9Z" fill="#FDC57D" stroke="#FDC57D" stroke-width="0.6"/>
<path d="M289.1,301.3 L291.6,303.0 L293.9,304.7 L296.3,306.6 L291.2,312.5 L289.0,310.8 L286.8,309.1 L284.6,307.6Z" fill="#FDD891" stroke="#FDD891" stroke-width="0.6"/>
<path d="M293.7,295.0 L296.3,296.8 L298.8,298.7 L301.3,300.7 L296.3,306.6 L293.9,304.7 L291.6,303.0 L289.1,301.3Z" fill="#FBDC9C" stroke="#FBDC9C" stroke-width="0.6"/>
<path d="M298.2,288.7 L301.0,290.6 L303.8,292.7 L306.4,294.8 L301.3,300.7 L298.8,298.7 L296.3,296.8 L293.7,295.0Z" fill="#F3EAC6" stroke="#F3EAC6" stroke-width="0.6"/>
<path d="M302.8,282.4 L305.7,284.4 L308.7,286.6 L311.5,288.9 L306.4,294.8 L303.8,292.7 L301.0,290.6 L298.2,288.7Z" fill="#EBECD8" stroke="#EBECD8" stroke-width="0.6"/>
<path d="M307.3,276.1 L310.5,278.3 L313.6,280.6 L316.6,283.0 L311.5,288.9 L308.7,286.6 L305.7,284.4 L302.8,282.4Z" fill="#E4EDE7" stroke="#E4EDE7" stroke-width="0.6"/>
<path d="M311.8,269.7 L315.2,272.1 L318.5,274.6 L321.7,277.1 L316.6,283.0 L313.6,280.6 L310.5,278.3 L307.3,276.1Z" fill="#E3EDE8" stroke="#E3EDE8" stroke-width="0.6"/>
<path d="M235.2,377.3 L235.4,377.5 L235.5,377.6 L235.7,377.8 L230.1,383.2Z" fill="#DBEDF6" stroke="#DBEDF6" stroke-width="0.6"/>
<path d="M240.3,371.4 L240.6,371.7 L241.0,372.0 L241.3,372.3 L235.7,377.8 L235.5,377.6 L235.4,377.5 L235.2,377.3Z" fill="#E6EDE2" stroke="#E6EDE2" stroke-width="0.6"/>
<path d="M245.4,365.5 L245.9,366.0 L246.4,366.4 L246.9,366.9 L241.3,372.3 L241.0,372.0 L240.6,371.7 L240.3,371.4Z" fill="#FDCF87" stroke="#FDCF87" stroke-width="0.6"/>
<path d="M250.5,359.6 L251.2,360.2 L251.8,360.8 L252.5,361.4 L246.9,366.9 L246.4,366.4 L245.9,366.0 L245.4,365.5Z" fill="#FDCF87" stroke="#FDCF87" stroke-width="0.6"/>
<path d="M255.5,353.7 L256.4,354.5 L257.3,355.2 L258.1,356.0 L252.5,361.4 L251.8,360.8 L251.2,360.2 L250.5,359.6Z" fill="#E4EDE6" stroke="#E4EDE6" stroke-width="0.6"/>
<path d="M260.6,347.8 L261.7,348.7 L262.7,349.6 L263.7,350.6 L258.1,356.0 L257.3,355.2 L256.4,354.5 L255.5,353.7Z" fill="#CDE6F2" stroke="#CDE6F2" stroke-width="0.6"/>
<path d="M265.7,341.9 L266.9,343.0 L268.1,344.0 L269.3,345.1 L263.7,350.6 L262.7,349.6 L261.7,348.7 L260.6,347.8Z" fill="#B3D8EB" stroke="#B3D8EB" stroke-width="0.6"/>
<path d="M270.8,336.0 L272.2,337.2 L273.6,338.4 L274.9,339.7 L269.3,345.1 L268.1,344.0 L266.9,343.0 L265.7,341.9Z" fill="#ABD4E9" stroke="#ABD4E9" stroke-width="0.6"/>
<path d="M275.9,330.2 L277.5,331.5 L279.0,332.8 L280.5,334.2 L274.9,339.7 L273.6,338.4 L272.2,337.2 L270.8,336.0Z" fill="#E7EDE1" stroke="#E7EDE1" stroke-width="0.6"/>
<path d="M281.0,324.3 L282.7,325.7 L284.4,327.2 L286.1,328.8 L280.5,334.2 L279.0,332.8 L277.5,331.5 L275.9,330.2Z" fill="#F7E3B2" stroke="#F7E3B2" stroke-width="0.6"/>
<path d="M286.1,318.4 L288.0,320.0 L289.9,321.6 L291.7,323.4 L286.1,328.8 L284.4,327.2 L282.7,325.7 L281.0,324.3Z" fill="#FCDA96" stroke="#FCDA96" stroke-width="0.6"/>
<path d="M291.2,312.5 L293.3,314.2 L295.3,316.0 L297.3,317.9 L291.7,323.4 L289.9,321.6 L288.0,320.0 L286.1,318.4Z" fill="#F8E1AA" stroke="#F8E1AA" stroke-width="0.6"/>
<path d="M296.3,306.6 L298.5,308.5 L300.7,310.4 L302.9,312.5 L297.3,317.9 L295.3,316.0 L293.3,314.2 L291.2,312.5Z" fill="#E2EDE9" stroke="#E2EDE9" stroke-width="0.6"/>
<path d="M301.3,300.7 L303.8,302.7 L306.2,304.8 L308.5,307.0 L302.9,312.5 L300.7,310.4 L298.5,308.5 L296.3,306.6Z" fill="#C7E3F0" stroke="#C7E3F0" stroke-width="0.6"/>
<path d="M306.4,294.8 L309.0,297.0 L311.6,299.2 L314.1,301.6 L308.5,307.0 L306.2,304.8 L303.8,302.7 L301.3,300.7Z" fill="#B0D7EA" stroke="#B0D7EA" stroke-width="0.6"/>
<path d="M311.5,288.9 L314.3,291.2 L317.0,293.7 L319.7,296.1 L314.1,301.6 L311.6,299.2 L309.0,297.0 L306.4,294.8Z" fill="#B8DBEC" stroke="#B8DBEC" stroke-width="0.6"/>
<path d="M316.6,283.0 L319.6,285.5 L322.5,288.1 L325.3,290.7 L319.7,296.1 L317.0,293.7 L314.3,291.2 L311.5,288.9Z" fill="#B4D9EB" stroke="#B4D9EB" stroke-width="0.6"/>
<path d="M321.7,277.1 L324.8,279.7 L327.9,282.5 L330.9,285.3 L325.3,290.7 L322.5,288.1 L319.6,285.5 L316.6,283.0Z" fill="#AFD6EA" stroke="#AFD6EA" stroke-width="0.6"/>
<path d="M235.7,377.8 L235.9,377.9 L236.0,378.1 L236.2,378.3 L230.1,383.2Z" fill="#D5EAF4" stroke="#D5EAF4" stroke-width="0.6"/>
<path d="M241.3,372.3 L241.6,372.6 L241.9,373.0 L242.2,373.3 L236.2,378.3 L236.0,378.1 L235.9,377.9 L235.7,377.8Z" fill="#E1EDEC" stroke="#E1EDEC" stroke-width="0.6"/>
<path d="M246.9,366.9 L247.4,367.4 L247.8,367.9 L248.3,368.4 L242.2,373.3 L241.9,373.0 L241.6,372.6 L241.3,372.3Z" fill="#F8E1AC" stroke="#F8E1AC" stroke-width="0.6"/>
<path d="M252.5,361.4 L253.1,362.1 L253.8,362.7 L254.4,363.4 L248.3,368.4 L247.8,367.9 L247.4,367.4 L246.9,366.9Z" fill="#FCDB98" stroke="#FCDB98" stroke-width="0.6"/>
<path d="M258.1,356.0 L258.9,356.8 L259.7,357.6 L260.4,358.5 L254.4,363.4 L253.8,362.7 L253.1,362.1 L252.5,361.4Z" fill="#E3EDE7" stroke="#E3EDE7" stroke-width="0.6"/>
<path d="M263.7,350.6 L264.7,351.5 L265.6,352.5 L266.5,353.5 L260.4,358.5 L259.7,357.6 L258.9,356.8 L258.1,356.0Z" fill="#D5EAF4" stroke="#D5EAF4" stroke-width="0.6"/>
<path d="M269.3,345.1 L270.4,346.2 L271.5,347.4 L272.6,348.6 L266.5,353.5 L265.6,352.5 L264.7,351.5 L263.7,350.6Z" fill="#70A3D1" stroke="#70A3D1" stroke-width="0.6"/>
<path d="M274.9,339.7 L276.2,341.0 L277.4,342.3 L278.6,343.6 L272.6,348.6 L271.5,347.4 L270.4,346.2 L269.3,345.1Z" fill="#72A6D3" stroke="#72A6D3" stroke-width="0.6"/>
<path d="M280.5,334.2 L281.9,335.7 L283.3,337.2 L284.7,338.7 L278.6,343.6 L277.4,342.3 L276.2,341.0 L274.9,339.7Z" fill="#ACD5E9" stroke="#ACD5E9" stroke-width="0.6"/>
<path d="M286.1,328.8 L287.7,330.4 L289.2,332.0 L290.7,333.7 L284.7,338.7 L283.3,337.2 L281.9,335.7 L280.5,334.2Z" fill="#C5E2F0" stroke="#C5E2F0" stroke-width="0.6"/>
<path d="M291.7,323.4 L293.4,325.1 L295.2,326.9 L296.8,328.8 L290.7,333.7 L289.2,332.0 L287.7,330.4 L286.1,328.8Z" fill="#F2EBCA" stroke="#F2EBCA" stroke-width="0.6"/>
<path d="M297.3,317.9 L299.2,319.8 L301.1,321.8 L302.9,323.8 L296.8,328.8 L295.2,326.9 L293.4,325.1 L291.7,323.4Z" fill="#EFECD1" stroke="#EFECD1" stroke-width="0.6"/>
<path d="M302.9,312.5 L305.0,314.6 L307.0,316.7 L308.9,318.9 L302.9,323.8 L301.1,321.8 L299.2,319.8 L297.3,317.9Z" fill="#92C0DF" stroke="#92C0DF" stroke-width="0.6"/>
<path d="M308.5,307.0 L310.7,309.3 L312.9,311.6 L315.0,314.0 L308.9,318.9 L307.0,316.7 L305.0,314.6 L302.9,312.5Z" fill="#70A3D1" stroke="#70A3D1" stroke-width="0.6"/>
<path d="M314.1,301.6 L316.5,304.0 L318.8,306.5 L321.1,309.0 L315.0,314.0 L312.9,311.6 L310.7,309.3 L308.5,307.0Z" fill="#3C58A9" stroke="#3C58A9" stroke-width="0.6"/>
<path d="M319.7,296.1 L322.2,298.7 L324.7,301.4 L327.1,304.1 L321.1,309.0 L318.8,306.5 L316.5,304.0 L314.1,301.6Z" fill="#3D5AAA" stroke="#3D5AAA" stroke-width="0.6"/>
<path d="M325.3,290.7 L328.0,293.4 L330.6,296.2 L333.2,299.1 L327.1,304.1 L324.7,301.4 L322.2,298.7 L319.7,296.1Z" fill="#4771B5" stroke="#4771B5" stroke-width="0.6"/>
<path d="M330.9,285.3 L333.8,288.2 L336.6,291.1 L339.3,294.2 L333.2,299.1 L330.6,296.2 L328.0,293.4 L325.3,290.7Z" fill="#466EB3" stroke="#466EB3" stroke-width="0.6"/>
<path d="M236.2,378.3 L236.3,378.4 L236.5,378.6 L236.6,378.8 L230.1,383.2Z" fill="#CEE6F2" stroke="#CEE6F2" stroke-width="0.6"/>
<path d="M242.2,373.3 L242.5,373.7 L242.8,374.0 L243.1,374.4 L236.6,378.8 L236.5,378.6 L236.3,378.4 L236.2,378.3Z" fill="#E0EDEE" stroke="#E0EDEE" stroke-width="0.6"/>
<path d="M248.3,368.4 L248.7,368.9 L249.2,369.4 L249.6,370.0 L243.1,374.4 L242.8,374.0 L242.5,373.7 L242.2,373.3Z" fill="#F9E0A9" stroke="#F9E0A9" stroke-width="0.6"/>
<path d="M254.4,363.4 L254.9,364.1 L255.5,364.8 L256.0,365.5 L249.6,370.0 L249.2,369.4 L248.7,368.9 L248.3,368.4Z" fill="#FBDC9A" stroke="#FBDC9A" stroke-width="0.6"/>
<path d="M260.4,358.5 L261.1,359.3 L261.9,360.2 L262.5,361.1 L256.0,365.5 L255.5,364.8 L254.9,364.1 L254.4,363.4Z" fill="#E9ECDC" stroke="#E9ECDC" stroke-width="0.6"/>
<path d="M266.5,353.5 L267.4,354.6 L268.2,355.6 L269.0,356.7 L262.5,361.1 L261.9,360.2 L261.1,359.3 L260.4,358.5Z" fill="#C3E1EF" stroke="#C3E1EF" stroke-width="0.6"/>
<path d="M272.6,348.6 L273.6,349.8 L274.6,351.0 L275.5,352.3 L269.0,356.7 L268.2,355.6 L267.4,354.6 L266.5,353.5Z" fill="#5585BF" stroke="#5585BF" stroke-width="0.6"/>
<path d="M278.6,343.6 L279.8,345.0 L280.9,346.4 L282.0,347.9 L275.5,352.3 L274.6,351.0 L273.6,349.8 L272.6,348.6Z" fill="#6192C7" stroke="#6192C7" stroke-width="0.6"/>
<path d="M284.7,338.7 L286.0,340.2 L287.3,341.8 L288.5,343.5 L282.0,347.9 L280.9,346.4 L279.8,345.0 L278.6,343.6Z" fill="#AAD4E8" stroke="#AAD4E8" stroke-width="0.6"/>
<path d="M290.7,333.7 L292.2,335.5 L293.6,337.3 L294.9,339.1 L288.5,343.5 L287.3,341.8 L286.0,340.2 L284.7,338.7Z" fill="#ABD4E9" stroke="#ABD4E9" stroke-width="0.6"/>
<path d="M296.8,328.8 L298.4,330.7 L300.0,332.7 L301.4,334.7 L294.9,339.1 L293.6,337.3 L292.2,335.5 L290.7,333.7Z" fill="#CDE6F2" stroke="#CDE6F2" stroke-width="0.6"/>
<path d="M302.9,323.8 L304.6,325.9 L306.3,328.1 L307.9,330.2 L301.4,334.7 L300.0,332.7 L298.4,330.7 L296.8,328.8Z" fill="#CDE6F2" stroke="#CDE6F2" stroke-width="0.6"/>
<path d="M308.9,318.9 L310.8,321.2 L312.7,323.5 L314.4,325.8 L307.9,330.2 L306.3,328.1 L304.6,325.9 L302.9,323.8Z" fill="#A6D1E7" stroke="#A6D1E7" stroke-width="0.6"/>
<path d="M315.0,314.0 L317.0,316.4 L319.0,318.9 L320.9,321.4 L314.4,325.8 L312.7,323.5 L310.8,321.2 L308.9,318.9Z" fill="#99C6E2" stroke="#99C6E2" stroke-width="0.6"/>
<path d="M321.1,309.0 L323.2,311.6 L325.4,314.3 L327.4,317.0 L320.9,321.4 L319.0,318.9 L317.0,316.4 L315.0,314.0Z" fill="#7FB1D8" stroke="#7FB1D8" stroke-width="0.6"/>
<path d="M327.1,304.1 L329.5,306.8 L331.7,309.7 L333.9,312.6 L327.4,317.0 L325.4,314.3 L323.2,311.6 L321.1,309.0Z" fill="#7AADD6" stroke="#7AADD6" stroke-width="0.6"/>
<path d="M333.2,299.1 L335.7,302.1 L338.1,305.1 L340.3,308.2 L333.9,312.6 L331.7,309.7 L329.5,306.8 L327.1,304.1Z" fill="#5888C1" stroke="#5888C1" stroke-width="0.6"/>
<path d="M339.3,294.2 L341.9,297.3 L344.4,300.5 L346.8,303.8 L340.3,308.2 L338.1,305.1 L335.7,302.1 L333.2,299.1Z" fill="#4A78B8" stroke="#4A78B8" stroke-width="0.6"/>
<path d="M236.6,378.8 L236.7,379.0 L236.8,379.2 L237.0,379.4 L230.1,383.2Z" fill="#DEEEF2" stroke="#DEEEF2" stroke-width="0.6"/>
<path d="M243.1,374.4 L243.3,374.7 L243.6,375.1 L243.8,375.5 L237.0,379.4 L236.8,379.2 L236.7,379.0 L236.6,378.8Z" fill="#E7EDE0" stroke="#E7EDE0" stroke-width="0.6"/>
<path d="M249.6,370.0 L249.9,370.5 L250.3,371.1 L250.7,371.7 L243.8,375.5 L243.6,375.1 L243.3,374.7 L243.1,374.4Z" fill="#F8E2AF" stroke="#F8E2AF" stroke-width="0.6"/>
<path d="M256.0,365.5 L256.6,366.3 L257.1,367.0 L257.5,367.8 L250.7,371.7 L250.3,371.1 L249.9,370.5 L249.6,370.0Z" fill="#FBDC9B" stroke="#FBDC9B" stroke-width="0.6"/>
<path d="M262.5,361.1 L263.2,362.1 L263.8,363.0 L264.4,364.0 L257.5,367.8 L257.1,367.0 L256.6,366.3 L256.0,365.5Z" fill="#E9ECDD" stroke="#E9ECDD" stroke-width="0.6"/>
<path d="M269.0,356.7 L269.8,357.8 L270.5,359.0 L271.2,360.1 L264.4,364.0 L263.8,363.0 L263.2,362.1 L262.5,361.1Z" fill="#CEE6F2" stroke="#CEE6F2" stroke-width="0.6"/>
<path d="M275.5,352.3 L276.4,353.6 L277.3,354.9 L278.1,356.3 L271.2,360.1 L270.5,359.0 L269.8,357.8 L269.0,356.7Z" fill="#507FBC" stroke="#507FBC" stroke-width="0.6"/>
<path d="M282.0,347.9 L283.0,349.4 L284.0,350.9 L284.9,352.4 L278.1,356.3 L277.3,354.9 L276.4,353.6 L275.5,352.3Z" fill="#5483BF" stroke="#5483BF" stroke-width="0.6"/>
<path d="M288.5,343.5 L289.6,345.1 L290.7,346.8 L291.8,348.6 L284.9,352.4 L284.0,350.9 L283.0,349.4 L282.0,347.9Z" fill="#92C0DF" stroke="#92C0DF" stroke-width="0.6"/>
<path d="M294.9,339.1 L296.2,340.9 L297.5,342.8 L298.7,344.7 L291.8,348.6 L290.7,346.8 L289.6,345.1 L288.5,343.5Z" fill="#B8DBEC" stroke="#B8DBEC" stroke-width="0.6"/>
<path d="M301.4,334.7 L302.9,336.7 L304.2,338.8 L305.5,340.9 L298.7,344.7 L297.5,342.8 L296.2,340.9 L294.9,339.1Z" fill="#D1E8F3" stroke="#D1E8F3" stroke-width="0.6"/>
<path d="M307.9,330.2 L309.5,332.5 L311.0,334.7 L312.4,337.0 L305.5,340.9 L304.2,338.8 L302.9,336.7 L301.4,334.7Z" fill="#D2E9F3" stroke="#D2E9F3" stroke-width="0.6"/>
<path d="M314.4,325.8 L316.1,328.2 L317.7,330.7 L319.2,333.2 L312.4,337.0 L311.0,334.7 L309.5,332.5 L307.9,330.2Z" fill="#6698CA" stroke="#6698CA" stroke-width="0.6"/>
<path d="M320.9,321.4 L322.7,324.0 L324.4,326.6 L326.1,329.3 L319.2,333.2 L317.7,330.7 L316.1,328.2 L314.4,325.8Z" fill="#4771B5" stroke="#4771B5" stroke-width="0.6"/>
<path d="M327.4,317.0 L329.3,319.8 L331.2,322.6 L332.9,325.5 L326.1,329.3 L324.4,326.6 L322.7,324.0 L320.9,321.4Z" fill="#3C57A9" stroke="#3C57A9" stroke-width="0.6"/>
<path d="M333.9,312.6 L335.9,315.5 L337.9,318.6 L339.8,321.6 L332.9,325.5 L331.2,322.6 L329.3,319.8 L327.4,317.0Z" fill="#4163AE" stroke="#4163AE" stroke-width="0.6"/>
<path d="M340.3,308.2 L342.5,311.3 L344.6,314.5 L346.7,317.8 L339.8,321.6 L337.9,318.6 L335.9,315.5 L333.9,312.6Z" fill="#4A78B8" stroke="#4A78B8" stroke-width="0.6"/>
<path d="M346.8,303.8 L349.2,307.1 L351.4,310.5 L353.5,313.9 L346.7,317.8 L344.6,314.5 L342.5,311.3 L340.3,308.2Z" fill="#4771B5" stroke="#4771B5" stroke-width="0.6"/>
<path d="M237.0,379.4 L237.1,379.5 L237.2,379.7 L237.3,379.9 L230.1,383.2Z" fill="#9DC9E4" stroke="#9DC9E4" stroke-width="0.6"/>
<path d="M243.8,375.5 L244.0,375.9 L244.2,376.3 L244.4,376.7 L237.3,379.9 L237.2,379.7 L237.1,379.5 L237.0,379.4Z" fill="#9ECAE4" stroke="#9ECAE4" stroke-width="0.6"/>
<path d="M250.7,371.7 L251.0,372.2 L251.3,372.8 L251.6,373.4 L244.4,376.7 L244.2,376.3 L244.0,375.9 L243.8,375.5Z" fill="#B5DAEB" stroke="#B5DAEB" stroke-width="0.6"/>
<path d="M257.5,367.8 L258.0,368.6 L258.4,369.4 L258.8,370.2 L251.6,373.4 L251.3,372.8 L251.0,372.2 L250.7,371.7Z" fill="#B2D8EB" stroke="#B2D8EB" stroke-width="0.6"/>
<path d="M264.4,364.0 L264.9,364.9 L265.5,365.9 L266.0,366.9 L258.8,370.2 L258.4,369.4 L258.0,368.6 L257.5,367.8Z" fill="#9ECAE4" stroke="#9ECAE4" stroke-width="0.6"/>
<path d="M271.2,360.1 L271.9,361.3 L272.5,362.5 L273.1,363.7 L266.0,366.9 L265.5,365.9 L264.9,364.9 L264.4,364.0Z" fill="#A3CFE6" stroke="#A3CFE6" stroke-width="0.6"/>
<path d="M278.1,356.3 L278.9,357.6 L279.6,359.0 L280.3,360.4 L273.1,363.7 L272.5,362.5 L271.9,361.3 L271.2,360.1Z" fill="#5686C0" stroke="#5686C0" stroke-width="0.6"/>
<path d="M284.9,352.4 L285.8,354.0 L286.7,355.6 L287.5,357.2 L280.3,360.4 L279.6,359.0 L278.9,357.6 L278.1,356.3Z" fill="#5889C2" stroke="#5889C2" stroke-width="0.6"/>
<path d="M291.8,348.6 L292.8,350.3 L293.8,352.1 L294.7,353.9 L287.5,357.2 L286.7,355.6 L285.8,354.0 L284.9,352.4Z" fill="#97C4E1" stroke="#97C4E1" stroke-width="0.6"/>
<path d="M298.7,344.7 L299.8,346.7 L300.8,348.7 L301.8,350.7 L294.7,353.9 L293.8,352.1 L292.8,350.3 L291.8,348.6Z" fill="#BEDEEE" stroke="#BEDEEE" stroke-width="0.6"/>
<path d="M305.5,340.9 L306.8,343.0 L307.9,345.2 L309.0,347.4 L301.8,350.7 L300.8,348.7 L299.8,346.7 L298.7,344.7Z" fill="#F7E3B1" stroke="#F7E3B1" stroke-width="0.6"/>
<path d="M312.4,337.0 L313.7,339.4 L315.0,341.8 L316.2,344.2 L309.0,347.4 L307.9,345.2 L306.8,343.0 L305.5,340.9Z" fill="#F6E5B5" stroke="#F6E5B5" stroke-width="0.6"/>
<path d="M319.2,333.2 L320.7,335.7 L322.1,338.3 L323.4,340.9 L316.2,344.2 L315.0,341.8 L313.7,339.4 L312.4,337.0Z" fill="#CBE5F1" stroke="#CBE5F1" stroke-width="0.6"/>
<path d="M326.1,329.3 L327.7,332.1 L329.1,334.9 L330.5,337.7 L323.4,340.9 L322.1,338.3 L320.7,335.7 L319.2,333.2Z" fill="#A7D1E7" stroke="#A7D1E7" stroke-width="0.6"/>
<path d="M332.9,325.5 L334.6,328.4 L336.2,331.4 L337.7,334.4 L330.5,337.7 L329.1,334.9 L327.7,332.1 L326.1,329.3Z" fill="#7BAED7" stroke="#7BAED7" stroke-width="0.6"/>
<path d="M339.8,321.6 L341.6,324.8 L343.3,327.9 L344.9,331.2 L337.7,334.4 L336.2,331.4 L334.6,328.4 L332.9,325.5Z" fill="#82B3D9" stroke="#82B3D9" stroke-width="0.6"/>
<path d="M346.7,317.8 L348.6,321.1 L350.4,324.5 L352.1,327.9 L344.9,331.2 L343.3,327.9 L341.6,324.8 L339.8,321.6Z" fill="#72A6D3" stroke="#72A6D3" stroke-width="0.6"/>
<path d="M353.5,313.9 L355.5,317.5 L357.4,321.0 L359.2,324.7 L352.1,327.9 L350.4,324.5 L348.6,321.1 L346.7,317.8Z" fill="#80B2D8" stroke="#80B2D8" stroke-width="0.6"/>
<path d="M237.3,379.9 L237.4,380.2 L237.5,380.4 L237.5,380.6 L230.1,383.2Z" fill="#B3D8EB" stroke="#B3D8EB" stroke-width="0.6"/>
<path d="M244.4,376.7 L244.6,377.1 L244.8,377.5 L245.0,377.9 L237.5,380.6 L237.5,380.4 L237.4,380.2 L237.3,379.9Z" fill="#A0CCE5" stroke="#A0CCE5" stroke-width="0.6"/>
<path d="M251.6,373.4 L251.9,374.1 L252.2,374.7 L252.4,375.3 L245.0,377.9 L244.8,377.5 L244.6,377.1 L244.4,376.7Z" fill="#A1CDE5" stroke="#A1CDE5" stroke-width="0.6"/>
<path d="M258.8,370.2 L259.2,371.0 L259.5,371.8 L259.9,372.7 L252.4,375.3 L252.2,374.7 L251.9,374.1 L251.6,373.4Z" fill="#A2CEE6" stroke="#A2CEE6" stroke-width="0.6"/>
<path d="M266.0,366.9 L266.4,368.0 L266.9,369.0 L267.3,370.0 L259.9,372.7 L259.5,371.8 L259.2,371.0 L258.8,370.2Z" fill="#A1CCE5" stroke="#A1CCE5" stroke-width="0.6"/>
<path d="M273.1,363.7 L273.7,364.9 L274.2,366.2 L274.7,367.4 L267.3,370.0 L266.9,369.0 L266.4,368.0 L266.0,366.9Z" fill="#A4CFE6" stroke="#A4CFE6" stroke-width="0.6"/>
<path d="M280.3,360.4 L281.0,361.9 L281.6,363.3 L282.2,364.8 L274.7,367.4 L274.2,366.2 L273.7,364.9 L273.1,363.7Z" fill="#6EA1D0" stroke="#6EA1D0" stroke-width="0.6"/>
<path d="M287.5,357.2 L288.3,358.8 L289.0,360.5 L289.6,362.1 L282.2,364.8 L281.6,363.3 L281.0,361.9 L280.3,360.4Z" fill="#78ABD6" stroke="#78ABD6" stroke-width="0.6"/>
<path d="M294.7,353.9 L295.5,355.8 L296.3,357.6 L297.1,359.5 L289.6,362.1 L289.0,360.5 L288.3,358.8 L287.5,357.2Z" fill="#97C4E1" stroke="#97C4E1" stroke-width="0.6"/>
<path d="M301.8,350.7 L302.8,352.7 L303.7,354.8 L304.5,356.9 L297.1,359.5 L296.3,357.6 L295.5,355.8 L294.7,353.9Z" fill="#C9E4F1" stroke="#C9E4F1" stroke-width="0.6"/>
<path d="M309.0,347.4 L310.1,349.7 L311.0,352.0 L311.9,354.3 L304.5,356.9 L303.7,354.8 L302.8,352.7 L301.8,350.7Z" fill="#F8E1AA" stroke="#F8E1AA" stroke-width="0.6"/>
<path d="M316.2,344.2 L317.3,346.6 L318.4,349.1 L319.4,351.6 L311.9,354.3 L311.0,352.0 L310.1,349.7 L309.0,347.4Z" fill="#FDD58D" stroke="#FDD58D" stroke-width="0.6"/>
<path d="M323.4,340.9 L324.6,343.6 L325.7,346.3 L326.8,349.0 L319.4,351.6 L318.4,349.1 L317.3,346.6 L316.2,344.2Z" fill="#FDBD75" stroke="#FDBD75" stroke-width="0.6"/>
<path d="M330.5,337.7 L331.9,340.5 L333.1,343.4 L334.2,346.4 L326.8,349.0 L325.7,346.3 L324.6,343.6 L323.4,340.9Z" fill="#FDBB73" stroke="#FDBB73" stroke-width="0.6"/>
<path d="M337.7,334.4 L339.1,337.5 L340.5,340.6 L341.7,343.7 L334.2,346.4 L333.1,343.4 L331.9,340.5 L330.5,337.7Z" fill="#FDD68E" stroke="#FDD68E" stroke-width="0.6"/>
<path d="M344.9,331.2 L346.4,334.4 L347.8,337.7 L349.1,341.1 L341.7,343.7 L340.5,340.6 L339.1,337.5 L337.7,334.4Z" fill="#FDD48C" stroke="#FDD48C" stroke-width="0.6"/>
<path d="M352.1,327.9 L353.7,331.4 L355.2,334.9 L356.6,338.5 L349.1,341.1 L347.8,337.7 L346.4,334.4 L344.9,331.2Z" fill="#F4E9C1" stroke="#F4E9C1" stroke-width="0.6"/>
<path d="M359.2,324.7 L360.9,328.3 L362.5,332.1 L364.0,335.8 L356.6,338.5 L355.2,334.9 L353.7,331.4 L352.1,327.9Z" fill="#F3EBC7" stroke="#F3EBC7" stroke-width="0.6"/>
<path d="M237.5,380.6 L237.6,380.8 L237.7,381.0 L237.7,381.2 L230.1,383.2Z" fill="#AAD3E8" stroke="#AAD3E8" stroke-width="0.6"/>
<path d="M245.0,377.9 L245.1,378.4 L245.3,378.8 L245.4,379.2 L237.7,381.2 L237.7,381.0 L237.6,380.8 L237.5,380.6Z" fill="#9AC7E2" stroke="#9AC7E2" stroke-width="0.6"/>
<path d="M252.4,375.3 L252.6,375.9 L252.9,376.6 L253.0,377.2 L245.4,379.2 L245.3,378.8 L245.1,378.4 L245.0,377.9Z" fill="#A7D1E7" stroke="#A7D1E7" stroke-width="0.6"/>
<path d="M259.9,372.7 L260.2,373.5 L260.4,374.4 L260.7,375.2 L253.0,377.2 L252.9,376.6 L252.6,375.9 L252.4,375.3Z" fill="#9FCBE4" stroke="#9FCBE4" stroke-width="0.6"/>
<path d="M267.3,370.0 L267.7,371.1 L268.0,372.2 L268.3,373.2 L260.7,375.2 L260.4,374.4 L260.2,373.5 L259.9,372.7Z" fill="#99C6E2" stroke="#99C6E2" stroke-width="0.6"/>
<path d="M274.7,367.4 L275.2,368.7 L275.6,370.0 L276.0,371.3 L268.3,373.2 L268.0,372.2 L267.7,371.1 L267.3,370.0Z" fill="#B2D8EB" stroke="#B2D8EB" stroke-width="0.6"/>
<path d="M282.2,364.8 L282.7,366.3 L283.2,367.8 L283.6,369.3 L276.0,371.3 L275.6,370.0 L275.2,368.7 L274.7,367.4Z" fill="#9FCBE4" stroke="#9FCBE4" stroke-width="0.6"/>
<path d="M289.6,362.1 L290.2,363.8 L290.8,365.5 L291.3,367.3 L283.6,369.3 L283.2,367.8 L282.7,366.3 L282.2,364.8Z" fill="#A8D2E8" stroke="#A8D2E8" stroke-width="0.6"/>
<path d="M297.1,359.5 L297.7,361.4 L298.4,363.3 L298.9,365.3 L291.3,367.3 L290.8,365.5 L290.2,363.8 L289.6,362.1Z" fill="#B0D7EA" stroke="#B0D7EA" stroke-width="0.6"/>
<path d="M304.5,356.9 L305.2,359.0 L305.9,361.1 L306.6,363.3 L298.9,365.3 L298.4,363.3 L297.7,361.4 L297.1,359.5Z" fill="#BEDEEE" stroke="#BEDEEE" stroke-width="0.6"/>
<path d="M311.9,354.3 L312.8,356.6 L313.5,358.9 L314.2,361.3 L306.6,363.3 L305.9,361.1 L305.2,359.0 L304.5,356.9Z" fill="#F8E1AB" stroke="#F8E1AB" stroke-width="0.6"/>
<path d="M319.4,351.6 L320.3,354.2 L321.1,356.7 L321.9,359.3 L314.2,361.3 L313.5,358.9 L312.8,356.6 L311.9,354.3Z" fill="#FDD48C" stroke="#FDD48C" stroke-width="0.6"/>
<path d="M326.8,349.0 L327.8,351.7 L328.7,354.5 L329.5,357.3 L321.9,359.3 L321.1,356.7 L320.3,354.2 L319.4,351.6Z" fill="#FDBE76" stroke="#FDBE76" stroke-width="0.6"/>
<path d="M334.2,346.4 L335.3,349.3 L336.3,352.3 L337.2,355.3 L329.5,357.3 L328.7,354.5 L327.8,351.7 L326.8,349.0Z" fill="#FDBB73" stroke="#FDBB73" stroke-width="0.6"/>
<path d="M341.7,343.7 L342.8,346.9 L343.9,350.1 L344.8,353.3 L337.2,355.3 L336.3,352.3 L335.3,349.3 L334.2,346.4Z" fill="#FDC27A" stroke="#FDC27A" stroke-width="0.6"/>
<path d="M349.1,341.1 L350.3,344.5 L351.4,347.9 L352.5,351.3 L344.8,353.3 L343.9,350.1 L342.8,346.9 L341.7,343.7Z" fill="#FDBE76" stroke="#FDBE76" stroke-width="0.6"/>
<path d="M356.6,338.5 L357.9,342.1 L359.0,345.7 L360.1,349.3 L352.5,351.3 L351.4,347.9 L350.3,344.5 L349.1,341.1Z" fill="#FDD891" stroke="#FDD891" stroke-width="0.6"/>
<path d="M364.0,335.8 L365.4,339.6 L366.6,343.5 L367.7,347.4 L360.1,349.3 L359.0,345.7 L357.9,342.1 L356.6,338.5Z" fill="#FCDB97" stroke="#FCDB97" stroke-width="0.6"/>
<path d="M237.7,381.2 L237.8,381.4 L237.9,381.6 L237.9,381.9 L230.1,383.2Z" fill="#B1D7EA" stroke="#B1D7EA" stroke-width="0.6"/>
<path d="M245.4,379.2 L245.5,379.7 L245.6,380.1 L245.7,380.5 L237.9,381.9 L237.9,381.6 L237.8,381.4 L237.7,381.2Z" fill="#A9D3E8" stroke="#A9D3E8" stroke-width="0.6"/>
<path d="M253.0,377.2 L253.2,377.9 L253.4,378.5 L253.5,379.2 L245.7,380.5 L245.6,380.1 L245.5,379.7 L245.4,379.2Z" fill="#ABD4E9" stroke="#ABD4E9" stroke-width="0.6"/>
<path d="M260.7,375.2 L260.9,376.1 L261.1,377.0 L261.3,377.9 L253.5,379.2 L253.4,378.5 L253.2,377.9 L253.0,377.2Z" fill="#B1D7EA" stroke="#B1D7EA" stroke-width="0.6"/>
<path d="M268.3,373.2 L268.6,374.3 L268.9,375.4 L269.1,376.5 L261.3,377.9 L261.1,377.0 L260.9,376.1 L260.7,375.2Z" fill="#B6DAEB" stroke="#B6DAEB" stroke-width="0.6"/>
<path d="M276.0,371.3 L276.3,372.6 L276.6,373.9 L276.9,375.2 L269.1,376.5 L268.9,375.4 L268.6,374.3 L268.3,373.2Z" fill="#A7D2E7" stroke="#A7D2E7" stroke-width="0.6"/>
<path d="M283.6,369.3 L284.0,370.8 L284.4,372.3 L284.7,373.8 L276.9,375.2 L276.6,373.9 L276.3,372.6 L276.0,371.3Z" fill="#ACD5E9" stroke="#ACD5E9" stroke-width="0.6"/>
<path d="M291.3,367.3 L291.7,369.0 L292.1,370.8 L292.5,372.5 L284.7,373.8 L284.4,372.3 L284.0,370.8 L283.6,369.3Z" fill="#A9D3E8" stroke="#A9D3E8" stroke-width="0.6"/>
<path d="M298.9,365.3 L299.4,367.2 L299.9,369.2 L300.3,371.2 L292.5,372.5 L292.1,370.8 L291.7,369.0 L291.3,367.3Z" fill="#A9D3E8" stroke="#A9D3E8" stroke-width="0.6"/>
<path d="M306.6,363.3 L307.1,365.5 L307.6,367.6 L308.1,369.8 L300.3,371.2 L299.9,369.2 L299.4,367.2 L298.9,365.3Z" fill="#AFD6EA" stroke="#AFD6EA" stroke-width="0.6"/>
<path d="M314.2,361.3 L314.8,363.7 L315.4,366.1 L315.9,368.5 L308.1,369.8 L307.6,367.6 L307.1,365.5 L306.6,363.3Z" fill="#A7D2E7" stroke="#A7D2E7" stroke-width="0.6"/>
<path d="M321.9,359.3 L322.5,361.9 L323.1,364.5 L323.7,367.2 L315.9,368.5 L315.4,366.1 L314.8,363.7 L314.2,361.3Z" fill="#B7DAEC" stroke="#B7DAEC" stroke-width="0.6"/>
<path d="M329.5,357.3 L330.2,360.1 L330.9,363.0 L331.5,365.8 L323.7,367.2 L323.1,364.5 L322.5,361.9 L321.9,359.3Z" fill="#EDECD4" stroke="#EDECD4" stroke-width="0.6"/>
<path d="M337.2,355.3 L337.9,358.4 L338.6,361.4 L339.2,364.5 L331.5,365.8 L330.9,363.0 L330.2,360.1 L329.5,357.3Z" fill="#F6E6B9" stroke="#F6E6B9" stroke-width="0.6"/>
<path d="M344.8,353.3 L345.6,356.6 L346.4,359.9 L347.0,363.2 L339.2,364.5 L338.6,361.4 L337.9,358.4 L337.2,355.3Z" fill="#F4E9C1" stroke="#F4E9C1" stroke-width="0.6"/>
<path d="M352.5,351.3 L353.4,354.8 L354.1,358.3 L354.8,361.8 L347.0,363.2 L346.4,359.9 L345.6,356.6 L344.8,353.3Z" fill="#F4E9C2" stroke="#F4E9C2" stroke-width="0.6"/>
<path d="M360.1,349.3 L361.1,353.0 L361.9,356.7 L362.6,360.5 L354.8,361.8 L354.1,358.3 L353.4,354.8 L352.5,351.3Z" fill="#E5EDE4" stroke="#E5EDE4" stroke-width="0.6"/>
<path d="M367.7,347.4 L368.8,351.3 L369.7,355.2 L370.4,359.1 L362.6,360.5 L361.9,356.7 L361.1,353.0 L360.1,349.3Z" fill="#D5EAF4" stroke="#D5EAF4" stroke-width="0.6"/>
<path d="M237.9,381.9 L237.9,382.1 L238.0,382.3 L238.0,382.5 L230.1,383.2Z" fill="#ABD4E8" stroke="#ABD4E8" stroke-width="0.6"/>
<path d="M245.7,380.5 L245.8,381.0 L245.8,381.4 L245.9,381.9 L238.0,382.5 L238.0,382.3 L237.9,382.1 L237.9,381.9Z" fill="#B7DAEC" stroke="#B7DAEC" stroke-width="0.6"/>
<path d="M253.5,379.2 L253.6,379.9 L253.7,380.5 L253.8,381.2 L245.9,381.9 L245.8,381.4 L245.8,381.0 L245.7,380.5Z" fill="#B3D9EB" stroke="#B3D9EB" stroke-width="0.6"/>
<path d="M261.3,377.9 L261.4,378.7 L261.6,379.6 L261.6,380.5 L253.8,381.2 L253.7,380.5 L253.6,379.9 L253.5,379.2Z" fill="#9DCAE4" stroke="#9DCAE4" stroke-width="0.6"/>
<path d="M269.1,376.5 L269.3,377.6 L269.4,378.7 L269.5,379.8 L261.6,380.5 L261.6,379.6 L261.4,378.7 L261.3,377.9Z" fill="#9DC9E3" stroke="#9DC9E3" stroke-width="0.6"/>
<path d="M276.9,375.2 L277.1,376.5 L277.3,377.8 L277.4,379.2 L269.5,379.8 L269.4,378.7 L269.3,377.6 L269.1,376.5Z" fill="#A7D2E7" stroke="#A7D2E7" stroke-width="0.6"/>
<path d="M284.7,373.8 L284.9,375.4 L285.1,376.9 L285.3,378.5 L277.4,379.2 L277.3,377.8 L277.1,376.5 L276.9,375.2Z" fill="#9BC8E3" stroke="#9BC8E3" stroke-width="0.6"/>
<path d="M292.5,372.5 L292.8,374.3 L293.0,376.1 L293.2,377.8 L285.3,378.5 L285.1,376.9 L284.9,375.4 L284.7,373.8Z" fill="#9AC7E2" stroke="#9AC7E2" stroke-width="0.6"/>
<path d="M300.3,371.2 L300.6,373.2 L300.9,375.2 L301.1,377.2 L293.2,377.8 L293.0,376.1 L292.8,374.3 L292.5,372.5Z" fill="#6EA2D0" stroke="#6EA2D0" stroke-width="0.6"/>
<path d="M308.1,369.8 L308.4,372.0 L308.7,374.3 L309.0,376.5 L301.1,377.2 L300.9,375.2 L300.6,373.2 L300.3,371.2Z" fill="#6EA1D0" stroke="#6EA1D0" stroke-width="0.6"/>
<path d="M315.9,368.5 L316.3,370.9 L316.6,373.4 L316.9,375.8 L309.0,376.5 L308.7,374.3 L308.4,372.0 L308.1,369.8Z" fill="#4164AF" stroke="#4164AF" stroke-width="0.6"/>
<path d="M323.7,367.2 L324.1,369.8 L324.5,372.5 L324.7,375.2 L316.9,375.8 L316.6,373.4 L316.3,370.9 L315.9,368.5Z" fill="#4062AE" stroke="#4062AE" stroke-width="0.6"/>
<path d="M331.5,365.8 L331.9,368.7 L332.3,371.6 L332.6,374.5 L324.7,375.2 L324.5,372.5 L324.1,369.8 L323.7,367.2Z" fill="#456CB3" stroke="#456CB3" stroke-width="0.6"/>
<path d="M339.2,364.5 L339.8,367.6 L340.2,370.7 L340.5,373.8 L332.6,374.5 L332.3,371.6 L331.9,368.7 L331.5,365.8Z" fill="#4F7EBC" stroke="#4F7EBC" stroke-width="0.6"/>
<path d="M347.0,363.2 L347.6,366.5 L348.0,369.8 L348.4,373.1 L340.5,373.8 L340.2,370.7 L339.8,367.6 L339.2,364.5Z" fill="#4E7DBB" stroke="#4E7DBB" stroke-width="0.6"/>
<path d="M354.8,361.8 L355.4,365.4 L355.9,368.9 L356.3,372.5 L348.4,373.1 L348.0,369.8 L347.6,366.5 L347.0,363.2Z" fill="#4975B7" stroke="#4975B7" stroke-width="0.6"/>
<path d="M362.6,360.5 L363.3,364.2 L363.8,368.0 L364.2,371.8 L356.3,372.5 L355.9,368.9 L355.4,365.4 L354.8,361.8Z" fill="#7AADD6" stroke="#7AADD6" stroke-width="0.6"/>
<path d="M370.4,359.1 L371.1,363.1 L371.6,367.1 L372.1,371.1 L364.2,371.8 L363.8,368.0 L363.3,364.2 L362.6,360.5Z" fill="#83B4DA" stroke="#83B4DA" stroke-width="0.6"/>
<path d="M238.0,382.5 L238.0,382.8 L238.0,383.0 L238.0,383.2 L230.1,383.2Z" fill="#A0CCE5" stroke="#A0CCE5" stroke-width="0.6"/>
<path d="M245.9,381.9 L245.9,382.3 L245.9,382.8 L245.9,383.2 L238.0,383.2 L238.0,383.0 L238.0,382.8 L238.0,382.5Z" fill="#B7DAEC" stroke="#B7DAEC" stroke-width="0.6"/>
<path d="M253.8,381.2 L253.8,381.9 L253.8,382.5 L253.8,383.2 L245.9,383.2 L245.9,382.8 L245.9,382.3 L245.9,381.9Z" fill="#A6D0E7" stroke="#A6D0E7" stroke-width="0.6"/>
<path d="M261.6,380.5 L261.7,381.4 L261.8,382.3 L261.8,383.2 L253.8,383.2 L253.8,382.5 L253.8,381.9 L253.8,381.2Z" fill="#A9D3E8" stroke="#A9D3E8" stroke-width="0.6"/>
<path d="M269.5,379.8 L269.6,381.0 L269.7,382.1 L269.7,383.2 L261.8,383.2 L261.8,382.3 L261.7,381.4 L261.6,380.5Z" fill="#B8DBEC" stroke="#B8DBEC" stroke-width="0.6"/>
<path d="M277.4,379.2 L277.5,380.5 L277.6,381.9 L277.6,383.2 L269.7,383.2 L269.7,382.1 L269.6,381.0 L269.5,379.8Z" fill="#B3D8EB" stroke="#B3D8EB" stroke-width="0.6"/>
<path d="M285.3,378.5 L285.4,380.1 L285.5,381.6 L285.5,383.2 L277.6,383.2 L277.6,381.9 L277.5,380.5 L277.4,379.2Z" fill="#9ECAE4" stroke="#9ECAE4" stroke-width="0.6"/>
<path d="M293.2,377.8 L293.3,379.6 L293.4,381.4 L293.4,383.2 L285.5,383.2 L285.5,381.6 L285.4,380.1 L285.3,378.5Z" fill="#BADCED" stroke="#BADCED" stroke-width="0.6"/>
<path d="M301.1,377.2 L301.2,379.2 L301.3,381.2 L301.4,383.2 L293.4,383.2 L293.4,381.4 L293.3,379.6 L293.2,377.8Z" fill="#F9DFA4" stroke="#F9DFA4" stroke-width="0.6"/>
<path d="M309.0,376.5 L309.1,378.7 L309.2,381.0 L309.3,383.2 L301.4,383.2 L301.3,381.2 L301.2,379.2 L301.1,377.2Z" fill="#FBDC9C" stroke="#FBDC9C" stroke-width="0.6"/>
<path d="M316.9,375.8 L317.0,378.3 L317.1,380.7 L317.2,383.2 L309.3,383.2 L309.2,381.0 L309.1,378.7 L309.0,376.5Z" fill="#F2EBCB" stroke="#F2EBCB" stroke-width="0.6"/>
<path d="M324.7,375.2 L324.9,377.8 L325.1,380.5 L325.1,383.2 L317.2,383.2 L317.1,380.7 L317.0,378.3 L316.9,375.8Z" fill="#EBECD9" stroke="#EBECD9" stroke-width="0.6"/>
<path d="M332.6,374.5 L332.8,377.4 L333.0,380.3 L333.0,383.2 L325.1,383.2 L325.1,380.5 L324.9,377.8 L324.7,375.2Z" fill="#BDDDED" stroke="#BDDDED" stroke-width="0.6"/>
<path d="M340.5,373.8 L340.7,376.9 L340.9,380.1 L340.9,383.2 L333.0,383.2 L333.0,380.3 L332.8,377.4 L332.6,374.5Z" fill="#93C1E0" stroke="#93C1E0" stroke-width="0.6"/>
<path d="M348.4,373.1 L348.6,376.5 L348.8,379.8 L348.9,383.2 L340.9,383.2 L340.9,380.1 L340.7,376.9 L340.5,373.8Z" fill="#7CAFD7" stroke="#7CAFD7" stroke-width="0.6"/>
<path d="M356.3,372.5 L356.6,376.0 L356.7,379.6 L356.8,383.2 L348.9,383.2 L348.8,379.8 L348.6,376.5 L348.4,373.1Z" fill="#79ACD6" stroke="#79ACD6" stroke-width="0.6"/>
<path d="M364.2,371.8 L364.5,375.6 L364.6,379.4 L364.7,383.2 L356.8,383.2 L356.7,379.6 L356.6,376.0 L356.3,372.5Z" fill="#93C1E0" stroke="#93C1E0" stroke-width="0.6"/>
<path d="M372.1,371.1 L372.4,375.1 L372.5,379.2 L372.6,383.2 L364.7,383.2 L364.6,379.4 L364.5,375.6 L364.2,371.8Z" fill="#A4CFE6" stroke="#A4CFE6" stroke-width="0.6"/>
<path d="M238.0,383.2 L238.0,383.4 L238.0,383.6 L238.0,383.9 L230.1,383.2Z" fill="#78ABD5" stroke="#78ABD5" stroke-width="0.6"/>
<path d="M245.9,383.2 L245.9,383.6 L245.9,384.1 L245.9,384.5 L238.0,383.9 L238.0,383.6 L238.0,383.4 L238.0,383.2Z" fill="#7CAFD7" stroke="#7CAFD7" stroke-width="0.6"/>
<path d="M253.8,383.2 L253.8,383.9 L253.8,384.5 L253.8,385.2 L245.9,384.5 L245.9,384.1 L245.9,383.6 L245.9,383.2Z" fill="#93C1E0" stroke="#93C1E0" stroke-width="0.6"/>
<path d="M261.8,383.2 L261.8,384.1 L261.7,385.0 L261.6,385.9 L253.8,385.2 L253.8,384.5 L253.8,383.9 L253.8,383.2Z" fill="#BFDFEE" stroke="#BFDFEE" stroke-width="0.6"/>
<path d="M269.7,383.2 L269.7,384.3 L269.6,385.4 L269.5,386.6 L261.6,385.9 L261.7,385.0 L261.8,384.1 L261.8,383.2Z" fill="#DDEEF5" stroke="#DDEEF5" stroke-width="0.6"/>
<path d="M277.6,383.2 L277.6,384.5 L277.5,385.9 L277.4,387.2 L269.5,386.6 L269.6,385.4 L269.7,384.3 L269.7,383.2Z" fill="#E6EDE2" stroke="#E6EDE2" stroke-width="0.6"/>
<path d="M285.5,383.2 L285.5,384.8 L285.4,386.3 L285.3,387.9 L277.4,387.2 L277.5,385.9 L277.6,384.5 L277.6,383.2Z" fill="#EEECD3" stroke="#EEECD3" stroke-width="0.6"/>
<path d="M293.4,383.2 L293.4,385.0 L293.3,386.8 L293.2,388.6 L285.3,387.9 L285.4,386.3 L285.5,384.8 L285.5,383.2Z" fill="#EAECDA" stroke="#EAECDA" stroke-width="0.6"/>
<path d="M301.4,383.2 L301.3,385.2 L301.2,387.2 L301.1,389.2 L293.2,388.6 L293.3,386.8 L293.4,385.0 L293.4,383.2Z" fill="#A8D2E7" stroke="#A8D2E7" stroke-width="0.6"/>
<path d="M309.3,383.2 L309.2,385.4 L309.1,387.7 L309.0,389.9 L301.1,389.2 L301.2,387.2 L301.3,385.2 L301.4,383.2Z" fill="#BEDEEE" stroke="#BEDEEE" stroke-width="0.6"/>
<path d="M317.2,383.2 L317.1,385.7 L317.0,388.1 L316.9,390.6 L309.0,389.9 L309.1,387.7 L309.2,385.4 L309.3,383.2Z" fill="#EAECDA" stroke="#EAECDA" stroke-width="0.6"/>
<path d="M325.1,383.2 L325.1,385.9 L324.9,388.6 L324.7,391.2 L316.9,390.6 L317.0,388.1 L317.1,385.7 L317.2,383.2Z" fill="#E5EDE3" stroke="#E5EDE3" stroke-width="0.6"/>
<path d="M333.0,383.2 L333.0,386.1 L332.8,389.0 L332.6,391.9 L324.7,391.2 L324.9,388.6 L325.1,385.9 L325.1,383.2Z" fill="#85B6DB" stroke="#85B6DB" stroke-width="0.6"/>
<path d="M340.9,383.2 L340.9,386.3 L340.7,389.5 L340.5,392.6 L332.6,391.9 L332.8,389.0 L333.0,386.1 L333.0,383.2Z" fill="#8EBDDE" stroke="#8EBDDE" stroke-width="0.6"/>
<path d="M348.9,383.2 L348.8,386.6 L348.6,389.9 L348.4,393.3 L340.5,392.6 L340.7,389.5 L340.9,386.3 L340.9,383.2Z" fill="#D9ECF5" stroke="#D9ECF5" stroke-width="0.6"/>
<path d="M356.8,383.2 L356.7,386.8 L356.6,390.4 L356.3,393.9 L348.4,393.3 L348.6,389.9 L348.8,386.6 L348.9,383.2Z" fill="#D5EAF4" stroke="#D5EAF4" stroke-width="0.6"/>
<path d="M364.7,383.2 L364.6,387.0 L364.5,390.8 L364.2,394.6 L356.3,393.9 L356.6,390.4 L356.7,386.8 L356.8,383.2Z" fill="#D1E8F3" stroke="#D1E8F3" stroke-width="0.6"/>
<path d="M372.6,383.2 L372.5,387.2 L372.4,391.3 L372.1,395.3 L364.2,394.6 L364.5,390.8 L364.6,387.0 L364.7,383.2Z" fill="#E2EDEA" stroke="#E2EDEA" stroke-width="0.6"/>
<path d="M238.0,383.9 L238.0,384.1 L237.9,384.3 L237.9,384.5 L230.1,383.2Z" fill="#76AAD5" stroke="#76AAD5" stroke-width="0.6"/>
<path d="M245.9,384.5 L245.8,385.0 L245.8,385.4 L245.7,385.9 L237.9,384.5 L237.9,384.3 L238.0,384.1 L238.0,383.9Z" fill="#82B4D9" stroke="#82B4D9" stroke-width="0.6"/>
<path d="M253.8,385.2 L253.7,385.9 L253.6,386.5 L253.5,387.2 L245.7,385.9 L245.8,385.4 L245.8,385.0 L245.9,384.5Z" fill="#94C2E0" stroke="#94C2E0" stroke-width="0.6"/>
<path d="M261.6,385.9 L261.6,386.8 L261.4,387.7 L261.3,388.5 L253.5,387.2 L253.6,386.5 L253.7,385.9 L253.8,385.2Z" fill="#A3CEE6" stroke="#A3CEE6" stroke-width="0.6"/>
<path d="M269.5,386.6 L269.4,387.7 L269.3,388.8 L269.1,389.9 L261.3,388.5 L261.4,387.7 L261.6,386.8 L261.6,385.9Z" fill="#DAEDF5" stroke="#DAEDF5" stroke-width="0.6"/>
<path d="M277.4,387.2 L277.3,388.6 L277.1,389.9 L276.9,391.2 L269.1,389.9 L269.3,388.8 L269.4,387.7 L269.5,386.6Z" fill="#E2EDEA" stroke="#E2EDEA" stroke-width="0.6"/>
<path d="M285.3,387.9 L285.1,389.5 L284.9,391.0 L284.7,392.6 L276.9,391.2 L277.1,389.9 L277.3,388.6 L277.4,387.2Z" fill="#FADD9E" stroke="#FADD9E" stroke-width="0.6"/>
<path d="M293.2,388.6 L293.0,390.3 L292.8,392.1 L292.5,393.9 L284.7,392.6 L284.9,391.0 L285.1,389.5 L285.3,387.9Z" fill="#FCDA96" stroke="#FCDA96" stroke-width="0.6"/>
<path d="M301.1,389.2 L300.9,391.2 L300.6,393.2 L300.3,395.2 L292.5,393.9 L292.8,392.1 L293.0,390.3 L293.2,388.6Z" fill="#C0DFEE" stroke="#C0DFEE" stroke-width="0.6"/>
<path d="M309.0,389.9 L308.7,392.1 L308.4,394.4 L308.1,396.6 L300.3,395.2 L300.6,393.2 L300.9,391.2 L301.1,389.2Z" fill="#ACD5E9" stroke="#ACD5E9" stroke-width="0.6"/>
<path d="M316.9,390.6 L316.6,393.0 L316.3,395.5 L315.9,397.9 L308.1,396.6 L308.4,394.4 L308.7,392.1 L309.0,389.9Z" fill="#6FA2D1" stroke="#6FA2D1" stroke-width="0.6"/>
<path d="M324.7,391.2 L324.5,393.9 L324.1,396.6 L323.7,399.2 L315.9,397.9 L316.3,395.5 L316.6,393.0 L316.9,390.6Z" fill="#7FB1D8" stroke="#7FB1D8" stroke-width="0.6"/>
<path d="M332.6,391.9 L332.3,394.8 L331.9,397.7 L331.5,400.6 L323.7,399.2 L324.1,396.6 L324.5,393.9 L324.7,391.2Z" fill="#699CCD" stroke="#699CCD" stroke-width="0.6"/>
<path d="M340.5,392.6 L340.2,395.7 L339.8,398.8 L339.2,401.9 L331.5,400.6 L331.9,397.7 L332.3,394.8 L332.6,391.9Z" fill="#93C1E0" stroke="#93C1E0" stroke-width="0.6"/>
<path d="M348.4,393.3 L348.0,396.6 L347.6,399.9 L347.0,403.2 L339.2,401.9 L339.8,398.8 L340.2,395.7 L340.5,392.6Z" fill="#EAECDB" stroke="#EAECDB" stroke-width="0.6"/>
<path d="M356.3,393.9 L355.9,397.5 L355.4,401.0 L354.8,404.6 L347.0,403.2 L347.6,399.9 L348.0,396.6 L348.4,393.3Z" fill="#F3EAC6" stroke="#F3EAC6" stroke-width="0.6"/>
<path d="M364.2,394.6 L363.8,398.4 L363.3,402.2 L362.6,405.9 L354.8,404.6 L355.4,401.0 L355.9,397.5 L356.3,393.9Z" fill="#FCDA95" stroke="#FCDA95" stroke-width="0.6"/>
<path d="M372.1,395.3 L371.6,399.3 L371.1,403.3 L370.4,407.3 L362.6,405.9 L363.3,402.2 L363.8,398.4 L364.2,394.6Z" fill="#FDD189" stroke="#FDD189" stroke-width="0.6"/>
<path d="M237.9,384.5 L237.9,384.8 L237.8,385.0 L237.7,385.2 L230.1,383.2Z" fill="#6EA1D0" stroke="#6EA1D0" stroke-width="0.6"/>
<path d="M245.7,385.9 L245.6,386.3 L245.5,386.7 L245.4,387.2 L237.7,385.2 L237.8,385.0 L237.9,384.8 L237.9,384.5Z" fill="#71A5D2" stroke="#71A5D2" stroke-width="0.6"/>
<path d="M253.5,387.2 L253.4,387.9 L253.2,388.5 L253.0,389.2 L245.4,387.2 L245.5,386.7 L245.6,386.3 L245.7,385.9Z" fill="#A2CDE5" stroke="#A2CDE5" stroke-width="0.6"/>
<path d="M261.3,388.5 L261.1,389.4 L260.9,390.3 L260.7,391.2 L253.0,389.2 L253.2,388.5 L253.4,387.9 L253.5,387.2Z" fill="#A9D3E8" stroke="#A9D3E8" stroke-width="0.6"/>
<path d="M269.1,389.9 L268.9,391.0 L268.6,392.1 L268.3,393.2 L260.7,391.2 L260.9,390.3 L261.1,389.4 L261.3,388.5Z" fill="#C8E4F1" stroke="#C8E4F1" stroke-width="0.6"/>
<path d="M276.9,391.2 L276.6,392.5 L276.3,393.8 L276.0,395.1 L268.3,393.2 L268.6,392.1 L268.9,391.0 L269.1,389.9Z" fill="#DEEEF2" stroke="#DEEEF2" stroke-width="0.6"/>
<path d="M284.7,392.6 L284.4,394.1 L284.0,395.6 L283.6,397.1 L276.0,395.1 L276.3,393.8 L276.6,392.5 L276.9,391.2Z" fill="#FADD9F" stroke="#FADD9F" stroke-width="0.6"/>
<path d="M292.5,393.9 L292.1,395.6 L291.7,397.4 L291.3,399.1 L283.6,397.1 L284.0,395.6 L284.4,394.1 L284.7,392.6Z" fill="#FADEA1" stroke="#FADEA1" stroke-width="0.6"/>
<path d="M300.3,395.2 L299.9,397.2 L299.4,399.2 L298.9,401.1 L291.3,399.1 L291.7,397.4 L292.1,395.6 L292.5,393.9Z" fill="#F3EBC7" stroke="#F3EBC7" stroke-width="0.6"/>
<path d="M308.1,396.6 L307.6,398.8 L307.1,400.9 L306.6,403.1 L298.9,401.1 L299.4,399.2 L299.9,397.2 L300.3,395.2Z" fill="#F0EBCD" stroke="#F0EBCD" stroke-width="0.6"/>
<path d="M315.9,397.9 L315.4,400.3 L314.8,402.7 L314.2,405.1 L306.6,403.1 L307.1,400.9 L307.6,398.8 L308.1,396.6Z" fill="#F5E8BF" stroke="#F5E8BF" stroke-width="0.6"/>
<path d="M323.7,399.2 L323.1,401.9 L322.5,404.5 L321.9,407.1 L314.2,405.1 L314.8,402.7 L315.4,400.3 L315.9,397.9Z" fill="#F0EBCE" stroke="#F0EBCE" stroke-width="0.6"/>
<path d="M331.5,400.6 L330.9,403.4 L330.2,406.3 L329.5,409.1 L321.9,407.1 L322.5,404.5 L323.1,401.9 L323.7,399.2Z" fill="#F3EBC8" stroke="#F3EBC8" stroke-width="0.6"/>
<path d="M339.2,401.9 L338.6,405.0 L337.9,408.0 L337.2,411.1 L329.5,409.1 L330.2,406.3 L330.9,403.4 L331.5,400.6Z" fill="#F1EBCB" stroke="#F1EBCB" stroke-width="0.6"/>
<path d="M347.0,403.2 L346.4,406.5 L345.6,409.8 L344.8,413.1 L337.2,411.1 L337.9,408.0 L338.6,405.0 L339.2,401.9Z" fill="#FBDC9C" stroke="#FBDC9C" stroke-width="0.6"/>
<path d="M354.8,404.6 L354.1,408.1 L353.4,411.6 L352.5,415.1 L344.8,413.1 L345.6,409.8 L346.4,406.5 L347.0,403.2Z" fill="#FADDA0" stroke="#FADDA0" stroke-width="0.6"/>
<path d="M362.6,405.9 L361.9,409.7 L361.1,413.4 L360.1,417.1 L352.5,415.1 L353.4,411.6 L354.1,408.1 L354.8,404.6Z" fill="#FCDB98" stroke="#FCDB98" stroke-width="0.6"/>
<path d="M370.4,407.3 L369.7,411.2 L368.8,415.1 L367.7,419.0 L360.1,417.1 L361.1,413.4 L361.9,409.7 L362.6,405.9Z" fill="#FADEA0" stroke="#FADEA0" stroke-width="0.6"/>
<path d="M237.7,385.2 L237.7,385.4 L237.6,385.6 L237.5,385.8 L230.1,383.2Z" fill="#7BAED7" stroke="#7BAED7" stroke-width="0.6"/>
<path d="M245.4,387.2 L245.3,387.6 L245.1,388.0 L245.0,388.5 L237.5,385.8 L237.6,385.6 L237.7,385.4 L237.7,385.2Z" fill="#76A9D5" stroke="#76A9D5" stroke-width="0.6"/>
<path d="M253.0,389.2 L252.9,389.8 L252.6,390.5 L252.4,391.1 L245.0,388.5 L245.1,388.0 L245.3,387.6 L245.4,387.2Z" fill="#6C9FCF" stroke="#6C9FCF" stroke-width="0.6"/>
<path d="M260.7,391.2 L260.4,392.0 L260.2,392.9 L259.9,393.7 L252.4,391.1 L252.6,390.5 L252.9,389.8 L253.0,389.2Z" fill="#73A7D4" stroke="#73A7D4" stroke-width="0.6"/>
<path d="M268.3,393.2 L268.0,394.2 L267.7,395.3 L267.3,396.4 L259.9,393.7 L260.2,392.9 L260.4,392.0 L260.7,391.2Z" fill="#82B3D9" stroke="#82B3D9" stroke-width="0.6"/>
<path d="M276.0,395.1 L275.6,396.4 L275.2,397.7 L274.7,399.0 L267.3,396.4 L267.7,395.3 L268.0,394.2 L268.3,393.2Z" fill="#87B8DB" stroke="#87B8DB" stroke-width="0.6"/>
<path d="M283.6,397.1 L283.2,398.6 L282.7,400.1 L282.2,401.6 L274.7,399.0 L275.2,397.7 L275.6,396.4 L276.0,395.1Z" fill="#FDD28A" stroke="#FDD28A" stroke-width="0.6"/>
<path d="M291.3,399.1 L290.8,400.9 L290.2,402.6 L289.6,404.3 L282.2,401.6 L282.7,400.1 L283.2,398.6 L283.6,397.1Z" fill="#FADEA0" stroke="#FADEA0" stroke-width="0.6"/>
<path d="M298.9,401.1 L298.4,403.1 L297.7,405.0 L297.1,406.9 L289.6,404.3 L290.2,402.6 L290.8,400.9 L291.3,399.1Z" fill="#E2EDEB" stroke="#E2EDEB" stroke-width="0.6"/>
<path d="M306.6,403.1 L305.9,405.3 L305.2,407.4 L304.5,409.5 L297.1,406.9 L297.7,405.0 L298.4,403.1 L298.9,401.1Z" fill="#DEEEF3" stroke="#DEEEF3" stroke-width="0.6"/>
<path d="M314.2,405.1 L313.5,407.5 L312.8,409.8 L311.9,412.1 L304.5,409.5 L305.2,407.4 L305.9,405.3 L306.6,403.1Z" fill="#ACD5E9" stroke="#ACD5E9" stroke-width="0.6"/>
<path d="M321.9,407.1 L321.1,409.7 L320.3,412.2 L319.4,414.8 L311.9,412.1 L312.8,409.8 L313.5,407.5 L314.2,405.1Z" fill="#B0D6EA" stroke="#B0D6EA" stroke-width="0.6"/>
<path d="M329.5,409.1 L328.7,411.9 L327.8,414.7 L326.8,417.4 L319.4,414.8 L320.3,412.2 L321.1,409.7 L321.9,407.1Z" fill="#DBEEF6" stroke="#DBEEF6" stroke-width="0.6"/>
<path d="M337.2,411.1 L336.3,414.1 L335.3,417.1 L334.2,420.0 L326.8,417.4 L327.8,414.7 L328.7,411.9 L329.5,409.1Z" fill="#E3EDE9" stroke="#E3EDE9" stroke-width="0.6"/>
<path d="M344.8,413.1 L343.9,416.3 L342.8,419.5 L341.7,422.7 L334.2,420.0 L335.3,417.1 L336.3,414.1 L337.2,411.1Z" fill="#D7EBF5" stroke="#D7EBF5" stroke-width="0.6"/>
<path d="M352.5,415.1 L351.4,418.5 L350.3,421.9 L349.1,425.3 L341.7,422.7 L342.8,419.5 L343.9,416.3 L344.8,413.1Z" fill="#E3EDE7" stroke="#E3EDE7" stroke-width="0.6"/>
<path d="M360.1,417.1 L359.0,420.7 L357.9,424.3 L356.6,427.9 L349.1,425.3 L350.3,421.9 L351.4,418.5 L352.5,415.1Z" fill="#F3EBC8" stroke="#F3EBC8" stroke-width="0.6"/>
<path d="M367.7,419.0 L366.6,422.9 L365.4,426.8 L364.0,430.6 L356.6,427.9 L357.9,424.3 L359.0,420.7 L360.1,417.1Z" fill="#F4E9C3" stroke="#F4E9C3" stroke-width="0.6"/>
<path d="M237.5,385.8 L237.5,386.0 L237.4,386.2 L237.3,386.5 L230.1,383.2Z" fill="#72A5D2" stroke="#72A5D2" stroke-width="0.6"/>
<path d="M245.0,388.5 L244.8,388.9 L244.6,389.3 L244.4,389.7 L237.3,386.5 L237.4,386.2 L237.5,386.0 L237.5,385.8Z" fill="#70A4D1" stroke="#70A4D1" stroke-width="0.6"/>
<path d="M252.4,391.1 L252.2,391.7 L251.9,392.3 L251.6,393.0 L244.4,389.7 L244.6,389.3 L244.8,388.9 L245.0,388.5Z" fill="#699BCD" stroke="#699BCD" stroke-width="0.6"/>
<path d="M259.9,393.7 L259.5,394.6 L259.2,395.4 L258.8,396.2 L251.6,393.0 L251.9,392.3 L252.2,391.7 L252.4,391.1Z" fill="#6B9DCE" stroke="#6B9DCE" stroke-width="0.6"/>
<path d="M267.3,396.4 L266.9,397.4 L266.4,398.4 L266.0,399.5 L258.8,396.2 L259.2,395.4 L259.5,394.6 L259.9,393.7Z" fill="#699CCD" stroke="#699CCD" stroke-width="0.6"/>
<path d="M274.7,399.0 L274.2,400.2 L273.7,401.5 L273.1,402.7 L266.0,399.5 L266.4,398.4 L266.9,397.4 L267.3,396.4Z" fill="#94C2E0" stroke="#94C2E0" stroke-width="0.6"/>
<path d="M282.2,401.6 L281.6,403.1 L281.0,404.5 L280.3,406.0 L273.1,402.7 L273.7,401.5 L274.2,400.2 L274.7,399.0Z" fill="#F0EBCF" stroke="#F0EBCF" stroke-width="0.6"/>
<path d="M289.6,404.3 L289.0,405.9 L288.3,407.6 L287.5,409.2 L280.3,406.0 L281.0,404.5 L281.6,403.1 L282.2,401.6Z" fill="#E9ECDD" stroke="#E9ECDD" stroke-width="0.6"/>
<path d="M297.1,406.9 L296.3,408.8 L295.5,410.6 L294.7,412.5 L287.5,409.2 L288.3,407.6 L289.0,405.9 L289.6,404.3Z" fill="#A9D3E8" stroke="#A9D3E8" stroke-width="0.6"/>
<path d="M304.5,409.5 L303.7,411.6 L302.8,413.7 L301.8,415.7 L294.7,412.5 L295.5,410.6 L296.3,408.8 L297.1,406.9Z" fill="#ADD5E9" stroke="#ADD5E9" stroke-width="0.6"/>
<path d="M311.9,412.1 L311.0,414.4 L310.1,416.7 L309.0,419.0 L301.8,415.7 L302.8,413.7 L303.7,411.6 L304.5,409.5Z" fill="#86B7DB" stroke="#86B7DB" stroke-width="0.6"/>
<path d="M319.4,414.8 L318.4,417.3 L317.3,419.8 L316.2,422.2 L309.0,419.0 L310.1,416.7 L311.0,414.4 L311.9,412.1Z" fill="#6EA1D0" stroke="#6EA1D0" stroke-width="0.6"/>
<path d="M326.8,417.4 L325.7,420.1 L324.6,422.8 L323.4,425.5 L316.2,422.2 L317.3,419.8 L318.4,417.3 L319.4,414.8Z" fill="#3D59AA" stroke="#3D59AA" stroke-width="0.6"/>
<path d="M334.2,420.0 L333.1,423.0 L331.9,425.9 L330.5,428.7 L323.4,425.5 L324.6,422.8 L325.7,420.1 L326.8,417.4Z" fill="#3B55A8" stroke="#3B55A8" stroke-width="0.6"/>
<path d="M341.7,422.7 L340.5,425.8 L339.1,428.9 L337.7,432.0 L330.5,428.7 L331.9,425.9 L333.1,423.0 L334.2,420.0Z" fill="#466FB4" stroke="#466FB4" stroke-width="0.6"/>
<path d="M349.1,425.3 L347.8,428.7 L346.4,432.0 L344.9,435.2 L337.7,432.0 L339.1,428.9 L340.5,425.8 L341.7,422.7Z" fill="#4A77B8" stroke="#4A77B8" stroke-width="0.6"/>
<path d="M356.6,427.9 L355.2,431.5 L353.7,435.0 L352.1,438.5 L344.9,435.2 L346.4,432.0 L347.8,428.7 L349.1,425.3Z" fill="#4771B5" stroke="#4771B5" stroke-width="0.6"/>
<path d="M364.0,430.6 L362.5,434.3 L360.9,438.1 L359.2,441.7 L352.1,438.5 L353.7,435.0 L355.2,431.5 L356.6,427.9Z" fill="#4A77B7" stroke="#4A77B7" stroke-width="0.6"/>
<path d="M237.3,386.5 L237.2,386.7 L237.1,386.9 L237.0,387.0 L230.1,383.2Z" fill="#6EA1D0" stroke="#6EA1D0" stroke-width="0.6"/>
<path d="M244.4,389.7 L244.2,390.1 L244.0,390.5 L243.8,390.9 L237.0,387.0 L237.1,386.9 L237.2,386.7 L237.3,386.5Z" fill="#83B4DA" stroke="#83B4DA" stroke-width="0.6"/>
<path d="M251.6,393.0 L251.3,393.6 L251.0,394.2 L250.7,394.7 L243.8,390.9 L244.0,390.5 L244.2,390.1 L244.4,389.7Z" fill="#83B4DA" stroke="#83B4DA" stroke-width="0.6"/>
<path d="M258.8,396.2 L258.4,397.0 L258.0,397.8 L257.5,398.6 L250.7,394.7 L251.0,394.2 L251.3,393.6 L251.6,393.0Z" fill="#75A9D5" stroke="#75A9D5" stroke-width="0.6"/>
<path d="M266.0,399.5 L265.5,400.5 L264.9,401.5 L264.4,402.4 L257.5,398.6 L258.0,397.8 L258.4,397.0 L258.8,396.2Z" fill="#6EA1D0" stroke="#6EA1D0" stroke-width="0.6"/>
<path d="M273.1,402.7 L272.5,403.9 L271.9,405.1 L271.2,406.3 L264.4,402.4 L264.9,401.5 L265.5,400.5 L266.0,399.5Z" fill="#8BBADD" stroke="#8BBADD" stroke-width="0.6"/>
<path d="M280.3,406.0 L279.6,407.4 L278.9,408.8 L278.1,410.1 L271.2,406.3 L271.9,405.1 L272.5,403.9 L273.1,402.7Z" fill="#A3CEE6" stroke="#A3CEE6" stroke-width="0.6"/>
<path d="M287.5,409.2 L286.7,410.8 L285.8,412.4 L284.9,414.0 L278.1,410.1 L278.9,408.8 L279.6,407.4 L280.3,406.0Z" fill="#97C5E1" stroke="#97C5E1" stroke-width="0.6"/>
<path d="M294.7,412.5 L293.8,414.3 L292.8,416.1 L291.8,417.8 L284.9,414.0 L285.8,412.4 L286.7,410.8 L287.5,409.2Z" fill="#4976B7" stroke="#4976B7" stroke-width="0.6"/>
<path d="M301.8,415.7 L300.8,417.7 L299.8,419.7 L298.7,421.7 L291.8,417.8 L292.8,416.1 L293.8,414.3 L294.7,412.5Z" fill="#4771B5" stroke="#4771B5" stroke-width="0.6"/>
<path d="M309.0,419.0 L307.9,421.2 L306.8,423.4 L305.5,425.5 L298.7,421.7 L299.8,419.7 L300.8,417.7 L301.8,415.7Z" fill="#3D59AA" stroke="#3D59AA" stroke-width="0.6"/>
<path d="M316.2,422.2 L315.0,424.6 L313.7,427.0 L312.4,429.4 L305.5,425.5 L306.8,423.4 L307.9,421.2 L309.0,419.0Z" fill="#3D59AA" stroke="#3D59AA" stroke-width="0.6"/>
<path d="M323.4,425.5 L322.1,428.1 L320.7,430.7 L319.2,433.2 L312.4,429.4 L313.7,427.0 L315.0,424.6 L316.2,422.2Z" fill="#456DB3" stroke="#456DB3" stroke-width="0.6"/>
<path d="M330.5,428.7 L329.1,431.5 L327.7,434.3 L326.1,437.1 L319.2,433.2 L320.7,430.7 L322.1,428.1 L323.4,425.5Z" fill="#4F7EBC" stroke="#4F7EBC" stroke-width="0.6"/>
<path d="M337.7,432.0 L336.2,435.0 L334.6,438.0 L332.9,440.9 L326.1,437.1 L327.7,434.3 L329.1,431.5 L330.5,428.7Z" fill="#6294C8" stroke="#6294C8" stroke-width="0.6"/>
<path d="M344.9,435.2 L343.3,438.5 L341.6,441.6 L339.8,444.8 L332.9,440.9 L334.6,438.0 L336.2,435.0 L337.7,432.0Z" fill="#6EA1D0" stroke="#6EA1D0" stroke-width="0.6"/>
<path d="M352.1,438.5 L350.4,441.9 L348.6,445.3 L346.7,448.6 L339.8,444.8 L341.6,441.6 L343.3,438.5 L344.9,435.2Z" fill="#6A9CCD" stroke="#6A9CCD" stroke-width="0.6"/>
<path d="M359.2,441.7 L357.4,445.4 L355.5,448.9 L353.5,452.4 L346.7,448.6 L348.6,445.3 L350.4,441.9 L352.1,438.5Z" fill="#71A5D2" stroke="#71A5D2" stroke-width="0.6"/>
<path d="M237.0,387.0 L236.8,387.2 L236.7,387.4 L236.6,387.6 L230.1,383.2Z" fill="#689BCC" stroke="#689BCC" stroke-width="0.6"/>
<path d="M243.8,390.9 L243.6,391.3 L243.3,391.7 L243.1,392.0 L236.6,387.6 L236.7,387.4 L236.8,387.2 L237.0,387.0Z" fill="#689ACC" stroke="#689ACC" stroke-width="0.6"/>
<path d="M250.7,394.7 L250.3,395.3 L249.9,395.9 L249.6,396.4 L243.1,392.0 L243.3,391.7 L243.6,391.3 L243.8,390.9Z" fill="#6FA2D1" stroke="#6FA2D1" stroke-width="0.6"/>
<path d="M257.5,398.6 L257.1,399.4 L256.6,400.1 L256.0,400.9 L249.6,396.4 L249.9,395.9 L250.3,395.3 L250.7,394.7Z" fill="#7BAED7" stroke="#7BAED7" stroke-width="0.6"/>
<path d="M264.4,402.4 L263.8,403.4 L263.2,404.3 L262.5,405.3 L256.0,400.9 L256.6,400.1 L257.1,399.4 L257.5,398.6Z" fill="#CFE7F3" stroke="#CFE7F3" stroke-width="0.6"/>
<path d="M271.2,406.3 L270.5,407.4 L269.8,408.6 L269.0,409.7 L262.5,405.3 L263.2,404.3 L263.8,403.4 L264.4,402.4Z" fill="#C6E2F0" stroke="#C6E2F0" stroke-width="0.6"/>
<path d="M278.1,410.1 L277.3,411.5 L276.4,412.8 L275.5,414.1 L269.0,409.7 L269.8,408.6 L270.5,407.4 L271.2,406.3Z" fill="#507FBC" stroke="#507FBC" stroke-width="0.6"/>
<path d="M284.9,414.0 L284.0,415.5 L283.0,417.0 L282.0,418.5 L275.5,414.1 L276.4,412.8 L277.3,411.5 L278.1,410.1Z" fill="#4E7DBB" stroke="#4E7DBB" stroke-width="0.6"/>
<path d="M291.8,417.8 L290.7,419.6 L289.6,421.3 L288.5,422.9 L282.0,418.5 L283.0,417.0 L284.0,415.5 L284.9,414.0Z" fill="#4F7EBC" stroke="#4F7EBC" stroke-width="0.6"/>
<path d="M298.7,421.7 L297.5,423.6 L296.2,425.5 L294.9,427.3 L288.5,422.9 L289.6,421.3 L290.7,419.6 L291.8,417.8Z" fill="#6395C9" stroke="#6395C9" stroke-width="0.6"/>
<path d="M305.5,425.5 L304.2,427.6 L302.9,429.7 L301.4,431.7 L294.9,427.3 L296.2,425.5 L297.5,423.6 L298.7,421.7Z" fill="#C5E2F0" stroke="#C5E2F0" stroke-width="0.6"/>
<path d="M312.4,429.4 L311.0,431.7 L309.5,433.9 L307.9,436.2 L301.4,431.7 L302.9,429.7 L304.2,427.6 L305.5,425.5Z" fill="#D7EBF5" stroke="#D7EBF5" stroke-width="0.6"/>
<path d="M319.2,433.2 L317.7,435.7 L316.1,438.2 L314.4,440.6 L307.9,436.2 L309.5,433.9 L311.0,431.7 L312.4,429.4Z" fill="#E3EDE9" stroke="#E3EDE9" stroke-width="0.6"/>
<path d="M326.1,437.1 L324.4,439.8 L322.7,442.4 L320.9,445.0 L314.4,440.6 L316.1,438.2 L317.7,435.7 L319.2,433.2Z" fill="#CBE5F1" stroke="#CBE5F1" stroke-width="0.6"/>
<path d="M332.9,440.9 L331.2,443.8 L329.3,446.6 L327.4,449.4 L320.9,445.0 L322.7,442.4 L324.4,439.8 L326.1,437.1Z" fill="#B6DAEC" stroke="#B6DAEC" stroke-width="0.6"/>
<path d="M339.8,444.8 L337.9,447.8 L335.9,450.9 L333.9,453.8 L327.4,449.4 L329.3,446.6 L331.2,443.8 L332.9,440.9Z" fill="#ADD5E9" stroke="#ADD5E9" stroke-width="0.6"/>
<path d="M346.7,448.6 L344.6,451.9 L342.5,455.1 L340.3,458.2 L333.9,453.8 L335.9,450.9 L337.9,447.8 L339.8,444.8Z" fill="#9AC7E3" stroke="#9AC7E3" stroke-width="0.6"/>
<path d="M353.5,452.4 L351.4,455.9 L349.2,459.3 L346.8,462.6 L340.3,458.2 L342.5,455.1 L344.6,451.9 L346.7,448.6Z" fill="#B3D8EB" stroke="#B3D8EB" stroke-width="0.6"/>
<path d="M236.6,387.6 L236.5,387.8 L236.3,388.0 L236.2,388.1 L230.1,383.2Z" fill="#80B2D9" stroke="#80B2D9" stroke-width="0.6"/>
<path d="M243.1,392.0 L242.8,392.4 L242.5,392.7 L242.2,393.1 L236.2,388.1 L236.3,388.0 L236.5,387.8 L236.6,387.6Z" fill="#78ABD6" stroke="#78ABD6" stroke-width="0.6"/>
<path d="M249.6,396.4 L249.2,397.0 L248.7,397.5 L248.3,398.0 L242.2,393.1 L242.5,392.7 L242.8,392.4 L243.1,392.0Z" fill="#7BAED7" stroke="#7BAED7" stroke-width="0.6"/>
<path d="M256.0,400.9 L255.5,401.6 L254.9,402.3 L254.4,403.0 L248.3,398.0 L248.7,397.5 L249.2,397.0 L249.6,396.4Z" fill="#8EBDDE" stroke="#8EBDDE" stroke-width="0.6"/>
<path d="M262.5,405.3 L261.9,406.2 L261.1,407.1 L260.4,407.9 L254.4,403.0 L254.9,402.3 L255.5,401.6 L256.0,400.9Z" fill="#C2E0EF" stroke="#C2E0EF" stroke-width="0.6"/>
<path d="M269.0,409.7 L268.2,410.8 L267.4,411.8 L266.5,412.9 L260.4,407.9 L261.1,407.1 L261.9,406.2 L262.5,405.3Z" fill="#D5EAF4" stroke="#D5EAF4" stroke-width="0.6"/>
<path d="M275.5,414.1 L274.6,415.4 L273.6,416.6 L272.6,417.8 L266.5,412.9 L267.4,411.8 L268.2,410.8 L269.0,409.7Z" fill="#A9D3E8" stroke="#A9D3E8" stroke-width="0.6"/>
<path d="M282.0,418.5 L280.9,420.0 L279.8,421.4 L278.6,422.8 L272.6,417.8 L273.6,416.6 L274.6,415.4 L275.5,414.1Z" fill="#B3D8EB" stroke="#B3D8EB" stroke-width="0.6"/>
<path d="M288.5,422.9 L287.3,424.6 L286.0,426.2 L284.7,427.7 L278.6,422.8 L279.8,421.4 L280.9,420.0 L282.0,418.5Z" fill="#B2D8EB" stroke="#B2D8EB" stroke-width="0.6"/>
<path d="M294.9,427.3 L293.6,429.1 L292.2,430.9 L290.7,432.7 L284.7,427.7 L286.0,426.2 L287.3,424.6 L288.5,422.9Z" fill="#B9DCEC" stroke="#B9DCEC" stroke-width="0.6"/>
<path d="M301.4,431.7 L300.0,433.7 L298.4,435.7 L296.8,437.6 L290.7,432.7 L292.2,430.9 L293.6,429.1 L294.9,427.3Z" fill="#D8ECF5" stroke="#D8ECF5" stroke-width="0.6"/>
<path d="M307.9,436.2 L306.3,438.3 L304.6,440.5 L302.9,442.6 L296.8,437.6 L298.4,435.7 L300.0,433.7 L301.4,431.7Z" fill="#E4EDE5" stroke="#E4EDE5" stroke-width="0.6"/>
<path d="M314.4,440.6 L312.7,442.9 L310.8,445.2 L308.9,447.5 L302.9,442.6 L304.6,440.5 L306.3,438.3 L307.9,436.2Z" fill="#F3EBC9" stroke="#F3EBC9" stroke-width="0.6"/>
<path d="M320.9,445.0 L319.0,447.5 L317.0,450.0 L315.0,452.4 L308.9,447.5 L310.8,445.2 L312.7,442.9 L314.4,440.6Z" fill="#F5E6BB" stroke="#F5E6BB" stroke-width="0.6"/>
<path d="M327.4,449.4 L325.4,452.1 L323.2,454.8 L321.1,457.4 L315.0,452.4 L317.0,450.0 L319.0,447.5 L320.9,445.0Z" fill="#FADDA0" stroke="#FADDA0" stroke-width="0.6"/>
<path d="M333.9,453.8 L331.7,456.7 L329.5,459.6 L327.1,462.3 L321.1,457.4 L323.2,454.8 L325.4,452.1 L327.4,449.4Z" fill="#F9E0A7" stroke="#F9E0A7" stroke-width="0.6"/>
<path d="M340.3,458.2 L338.1,461.3 L335.7,464.3 L333.2,467.3 L327.1,462.3 L329.5,459.6 L331.7,456.7 L333.9,453.8Z" fill="#F1EBCC" stroke="#F1EBCC" stroke-width="0.6"/>
<path d="M346.8,462.6 L344.4,465.9 L341.9,469.1 L339.3,472.2 L333.2,467.3 L335.7,464.3 L338.1,461.3 L340.3,458.2Z" fill="#F1EBCC" stroke="#F1EBCC" stroke-width="0.6"/>
<path d="M236.2,388.1 L236.0,388.3 L235.9,388.5 L235.7,388.6 L230.1,383.2Z" fill="#6A9DCD" stroke="#6A9DCD" stroke-width="0.6"/>
<path d="M242.2,393.1 L241.9,393.4 L241.6,393.8 L241.3,394.1 L235.7,388.6 L235.9,388.5 L236.0,388.3 L236.2,388.1Z" fill="#7FB1D8" stroke="#7FB1D8" stroke-width="0.6"/>
<path d="M248.3,398.0 L247.8,398.5 L247.4,399.0 L246.9,399.5 L241.3,394.1 L241.6,393.8 L241.9,393.4 L242.2,393.1Z" fill="#76AAD5" stroke="#76AAD5" stroke-width="0.6"/>
<path d="M254.4,403.0 L253.8,403.7 L253.1,404.3 L252.5,405.0 L246.9,399.5 L247.4,399.0 L247.8,398.5 L248.3,398.0Z" fill="#88B8DC" stroke="#88B8DC" stroke-width="0.6"/>
<path d="M260.4,407.9 L259.7,408.8 L258.9,409.6 L258.1,410.4 L252.5,405.0 L253.1,404.3 L253.8,403.7 L254.4,403.0Z" fill="#D1E8F3" stroke="#D1E8F3" stroke-width="0.6"/>
<path d="M266.5,412.9 L265.6,413.9 L264.7,414.9 L263.7,415.8 L258.1,410.4 L258.9,409.6 L259.7,408.8 L260.4,407.9Z" fill="#DEEEF1" stroke="#DEEEF1" stroke-width="0.6"/>
<path d="M272.6,417.8 L271.5,419.0 L270.4,420.2 L269.3,421.3 L263.7,415.8 L264.7,414.9 L265.6,413.9 L266.5,412.9Z" fill="#DCEEF6" stroke="#DCEEF6" stroke-width="0.6"/>
<path d="M278.6,422.8 L277.4,424.1 L276.2,425.4 L274.9,426.7 L269.3,421.3 L270.4,420.2 L271.5,419.0 L272.6,417.8Z" fill="#DAEDF5" stroke="#DAEDF5" stroke-width="0.6"/>
<path d="M284.7,427.7 L283.3,429.2 L281.9,430.7 L280.5,432.2 L274.9,426.7 L276.2,425.4 L277.4,424.1 L278.6,422.8Z" fill="#FCD994" stroke="#FCD994" stroke-width="0.6"/>
<path d="M290.7,432.7 L289.2,434.4 L287.7,436.0 L286.1,437.6 L280.5,432.2 L281.9,430.7 L283.3,429.2 L284.7,427.7Z" fill="#FDD48C" stroke="#FDD48C" stroke-width="0.6"/>
<path d="M296.8,437.6 L295.2,439.5 L293.4,441.3 L291.7,443.0 L286.1,437.6 L287.7,436.0 L289.2,434.4 L290.7,432.7Z" fill="#FDD890" stroke="#FDD890" stroke-width="0.6"/>
<path d="M302.9,442.6 L301.1,444.6 L299.2,446.6 L297.3,448.5 L291.7,443.0 L293.4,441.3 L295.2,439.5 L296.8,437.6Z" fill="#FDD78F" stroke="#FDD78F" stroke-width="0.6"/>
<path d="M308.9,447.5 L307.0,449.7 L305.0,451.8 L302.9,453.9 L297.3,448.5 L299.2,446.6 L301.1,444.6 L302.9,442.6Z" fill="#FDD58D" stroke="#FDD58D" stroke-width="0.6"/>
<path d="M315.0,452.4 L312.9,454.8 L310.7,457.1 L308.5,459.4 L302.9,453.9 L305.0,451.8 L307.0,449.7 L308.9,447.5Z" fill="#FADD9F" stroke="#FADD9F" stroke-width="0.6"/>
<path d="M321.1,457.4 L318.8,459.9 L316.5,462.4 L314.1,464.8 L308.5,459.4 L310.7,457.1 L312.9,454.8 L315.0,452.4Z" fill="#FDD48C" stroke="#FDD48C" stroke-width="0.6"/>
<path d="M327.1,462.3 L324.7,465.0 L322.2,467.7 L319.7,470.3 L314.1,464.8 L316.5,462.4 L318.8,459.9 L321.1,457.4Z" fill="#FCDB98" stroke="#FCDB98" stroke-width="0.6"/>
<path d="M333.2,467.3 L330.6,470.2 L328.0,473.0 L325.3,475.7 L319.7,470.3 L322.2,467.7 L324.7,465.0 L327.1,462.3Z" fill="#FADD9E" stroke="#FADD9E" stroke-width="0.6"/>
<path d="M339.3,472.2 L336.6,475.3 L333.8,478.2 L330.9,481.1 L325.3,475.7 L328.0,473.0 L330.6,470.2 L333.2,467.3Z" fill="#FCDB98" stroke="#FCDB98" stroke-width="0.6"/>
<path d="M235.7,388.6 L235.5,388.8 L235.4,388.9 L235.2,389.1 L230.1,383.2Z" fill="#F4E8C0" stroke="#F4E8C0" stroke-width="0.6"/>
<path d="M241.3,394.1 L241.0,394.4 L240.6,394.7 L240.3,395.0 L235.2,389.1 L235.4,388.9 L235.5,388.8 L235.7,388.6Z" fill="#EFECD0" stroke="#EFECD0" stroke-width="0.6"/>
<path d="M246.9,399.5 L246.4,400.0 L245.9,400.4 L245.4,400.9 L240.3,395.0 L240.6,394.7 L241.0,394.4 L241.3,394.1Z" fill="#F4E8C0" stroke="#F4E8C0" stroke-width="0.6"/>
<path d="M252.5,405.0 L251.8,405.6 L251.2,406.2 L250.5,406.8 L245.4,400.9 L245.9,400.4 L246.4,400.0 L246.9,399.5Z" fill="#EFEBD0" stroke="#EFEBD0" stroke-width="0.6"/>
<path d="M258.1,410.4 L257.3,411.2 L256.4,411.9 L255.5,412.7 L250.5,406.8 L251.2,406.2 L251.8,405.6 L252.5,405.0Z" fill="#8CBBDD" stroke="#8CBBDD" stroke-width="0.6"/>
<path d="M263.7,415.8 L262.7,416.8 L261.7,417.7 L260.6,418.6 L255.5,412.7 L256.4,411.9 L257.3,411.2 L258.1,410.4Z" fill="#80B2D9" stroke="#80B2D9" stroke-width="0.6"/>
<path d="M269.3,421.3 L268.1,422.4 L266.9,423.4 L265.7,424.5 L260.6,418.6 L261.7,417.7 L262.7,416.8 L263.7,415.8Z" fill="#DBEEF6" stroke="#DBEEF6" stroke-width="0.6"/>
<path d="M274.9,426.7 L273.6,428.0 L272.2,429.2 L270.8,430.4 L265.7,424.5 L266.9,423.4 L268.1,422.4 L269.3,421.3Z" fill="#E4EDE5" stroke="#E4EDE5" stroke-width="0.6"/>
<path d="M280.5,432.2 L279.0,433.6 L277.5,434.9 L275.9,436.2 L270.8,430.4 L272.2,429.2 L273.6,428.0 L274.9,426.7Z" fill="#FCDA95" stroke="#FCDA95" stroke-width="0.6"/>
<path d="M286.1,437.6 L284.4,439.2 L282.7,440.7 L281.0,442.1 L275.9,436.2 L277.5,434.9 L279.0,433.6 L280.5,432.2Z" fill="#FDD68E" stroke="#FDD68E" stroke-width="0.6"/>
<path d="M291.7,443.0 L289.9,444.8 L288.0,446.4 L286.1,448.0 L281.0,442.1 L282.7,440.7 L284.4,439.2 L286.1,437.6Z" fill="#FDD68E" stroke="#FDD68E" stroke-width="0.6"/>
<path d="M297.3,448.5 L295.3,450.4 L293.3,452.2 L291.2,453.9 L286.1,448.0 L288.0,446.4 L289.9,444.8 L291.7,443.0Z" fill="#F7E4B3" stroke="#F7E4B3" stroke-width="0.6"/>
<path d="M302.9,453.9 L300.7,456.0 L298.5,457.9 L296.3,459.8 L291.2,453.9 L293.3,452.2 L295.3,450.4 L297.3,448.5Z" fill="#B1D7EA" stroke="#B1D7EA" stroke-width="0.6"/>
<path d="M308.5,459.4 L306.2,461.6 L303.8,463.7 L301.3,465.7 L296.3,459.8 L298.5,457.9 L300.7,456.0 L302.9,453.9Z" fill="#9BC7E3" stroke="#9BC7E3" stroke-width="0.6"/>
<path d="M314.1,464.8 L311.6,467.2 L309.0,469.4 L306.4,471.6 L301.3,465.7 L303.8,463.7 L306.2,461.6 L308.5,459.4Z" fill="#82B4D9" stroke="#82B4D9" stroke-width="0.6"/>
<path d="M319.7,470.3 L317.0,472.7 L314.3,475.2 L311.5,477.5 L306.4,471.6 L309.0,469.4 L311.6,467.2 L314.1,464.8Z" fill="#74A8D4" stroke="#74A8D4" stroke-width="0.6"/>
<path d="M325.3,475.7 L322.5,478.3 L319.6,480.9 L316.6,483.4 L311.5,477.5 L314.3,475.2 L317.0,472.7 L319.7,470.3Z" fill="#A5CFE6" stroke="#A5CFE6" stroke-width="0.6"/>
<path d="M330.9,481.1 L327.9,483.9 L324.8,486.7 L321.7,489.3 L316.6,483.4 L319.6,480.9 L322.5,478.3 L325.3,475.7Z" fill="#99C6E2" stroke="#99C6E2" stroke-width="0.6"/>
<path d="M235.2,389.1 L235.0,389.2 L234.8,389.4 L234.6,389.5 L230.1,383.2Z" fill="#EDECD4" stroke="#EDECD4" stroke-width="0.6"/>
<path d="M240.3,395.0 L239.9,395.3 L239.6,395.5 L239.2,395.8 L234.6,389.5 L234.8,389.4 L235.0,389.2 L235.2,389.1Z" fill="#F0EBCE" stroke="#F0EBCE" stroke-width="0.6"/>
<path d="M245.4,400.9 L244.8,401.3 L244.3,401.7 L243.7,402.1 L239.2,395.8 L239.6,395.5 L239.9,395.3 L240.3,395.0Z" fill="#F4E9C2" stroke="#F4E9C2" stroke-width="0.6"/>
<path d="M250.5,406.8 L249.7,407.3 L249.0,407.9 L248.3,408.4 L243.7,402.1 L244.3,401.7 L244.8,401.3 L245.4,400.9Z" fill="#EBECD7" stroke="#EBECD7" stroke-width="0.6"/>
<path d="M255.5,412.7 L254.7,413.4 L253.7,414.1 L252.8,414.7 L248.3,408.4 L249.0,407.9 L249.7,407.3 L250.5,406.8Z" fill="#91C0DF" stroke="#91C0DF" stroke-width="0.6"/>
<path d="M260.6,418.6 L259.6,419.4 L258.5,420.2 L257.3,421.0 L252.8,414.7 L253.7,414.1 L254.7,413.4 L255.5,412.7Z" fill="#7DB0D7" stroke="#7DB0D7" stroke-width="0.6"/>
<path d="M265.7,424.5 L264.5,425.4 L263.2,426.4 L261.9,427.3 L257.3,421.0 L258.5,420.2 L259.6,419.4 L260.6,418.6Z" fill="#DCEEF6" stroke="#DCEEF6" stroke-width="0.6"/>
<path d="M270.8,430.4 L269.4,431.5 L267.9,432.6 L266.4,433.6 L261.9,427.3 L263.2,426.4 L264.5,425.4 L265.7,424.5Z" fill="#E1EDEB" stroke="#E1EDEB" stroke-width="0.6"/>
<path d="M275.9,436.2 L274.3,437.5 L272.6,438.7 L271.0,439.9 L266.4,433.6 L267.9,432.6 L269.4,431.5 L270.8,430.4Z" fill="#FADD9F" stroke="#FADD9F" stroke-width="0.6"/>
<path d="M281.0,442.1 L279.2,443.6 L277.4,444.9 L275.5,446.2 L271.0,439.9 L272.6,438.7 L274.3,437.5 L275.9,436.2Z" fill="#FBDC9D" stroke="#FBDC9D" stroke-width="0.6"/>
<path d="M286.1,448.0 L284.1,449.6 L282.1,451.1 L280.0,452.5 L275.5,446.2 L277.4,444.9 L279.2,443.6 L281.0,442.1Z" fill="#FDD189" stroke="#FDD189" stroke-width="0.6"/>
<path d="M291.2,453.9 L289.0,455.6 L286.8,457.3 L284.6,458.8 L280.0,452.5 L282.1,451.1 L284.1,449.6 L286.1,448.0Z" fill="#F6E5B6" stroke="#F6E5B6" stroke-width="0.6"/>
<path d="M296.3,459.8 L293.9,461.7 L291.6,463.4 L289.1,465.1 L284.6,458.8 L286.8,457.3 L289.0,455.6 L291.2,453.9Z" fill="#9ECAE4" stroke="#9ECAE4" stroke-width="0.6"/>
<path d="M301.3,465.7 L298.8,467.7 L296.3,469.6 L293.7,471.4 L289.1,465.1 L291.6,463.4 L293.9,461.7 L296.3,459.8Z" fill="#7BAED7" stroke="#7BAED7" stroke-width="0.6"/>
<path d="M306.4,471.6 L303.8,473.7 L301.0,475.8 L298.2,477.7 L293.7,471.4 L296.3,469.6 L298.8,467.7 L301.3,465.7Z" fill="#4872B5" stroke="#4872B5" stroke-width="0.6"/>
<path d="M311.5,477.5 L308.7,479.8 L305.7,482.0 L302.8,484.0 L298.2,477.7 L301.0,475.8 L303.8,473.7 L306.4,471.6Z" fill="#5383BE" stroke="#5383BE" stroke-width="0.6"/>
<path d="M316.6,483.4 L313.6,485.8 L310.5,488.1 L307.3,490.3 L302.8,484.0 L305.7,482.0 L308.7,479.8 L311.5,477.5Z" fill="#A6D1E7" stroke="#A6D1E7" stroke-width="0.6"/>
<path d="M321.7,489.3 L318.5,491.8 L315.2,494.3 L311.8,496.7 L307.3,490.3 L310.5,488.1 L313.6,485.8 L316.6,483.4Z" fill="#B7DBEC" stroke="#B7DBEC" stroke-width="0.6"/>
<path d="M234.6,389.5 L234.5,389.6 L234.3,389.7 L234.1,389.9 L230.1,383.2Z" fill="#F2EBC9" stroke="#F2EBC9" stroke-width="0.6"/>
<path d="M239.2,395.8 L238.8,396.1 L238.4,396.3 L238.0,396.5 L234.1,389.9 L234.3,389.7 L234.5,389.6 L234.6,389.5Z" fill="#F0EBCE" stroke="#F0EBCE" stroke-width="0.6"/>
<path d="M243.7,402.1 L243.2,402.5 L242.6,402.8 L242.0,403.2 L238.0,396.5 L238.4,396.3 L238.8,396.1 L239.2,395.8Z" fill="#EFECD0" stroke="#EFECD0" stroke-width="0.6"/>
<path d="M248.3,408.4 L247.5,408.9 L246.7,409.4 L245.9,409.9 L242.0,403.2 L242.6,402.8 L243.2,402.5 L243.7,402.1Z" fill="#EFECD0" stroke="#EFECD0" stroke-width="0.6"/>
<path d="M252.8,414.7 L251.9,415.3 L250.9,415.9 L249.9,416.5 L245.9,409.9 L246.7,409.4 L247.5,408.9 L248.3,408.4Z" fill="#83B4DA" stroke="#83B4DA" stroke-width="0.6"/>
<path d="M257.3,421.0 L256.2,421.8 L255.0,422.5 L253.8,423.2 L249.9,416.5 L250.9,415.9 L251.9,415.3 L252.8,414.7Z" fill="#86B7DB" stroke="#86B7DB" stroke-width="0.6"/>
<path d="M261.9,427.3 L260.6,428.2 L259.2,429.0 L257.8,429.8 L253.8,423.2 L255.0,422.5 L256.2,421.8 L257.3,421.0Z" fill="#D1E8F3" stroke="#D1E8F3" stroke-width="0.6"/>
<path d="M266.4,433.6 L264.9,434.6 L263.3,435.6 L261.8,436.5 L257.8,429.8 L259.2,429.0 L260.6,428.2 L261.9,427.3Z" fill="#DFEEF0" stroke="#DFEEF0" stroke-width="0.6"/>
<path d="M271.0,439.9 L269.3,441.1 L267.5,442.1 L265.7,443.2 L261.8,436.5 L263.3,435.6 L264.9,434.6 L266.4,433.6Z" fill="#F4E8C0" stroke="#F4E8C0" stroke-width="0.6"/>
<path d="M275.5,446.2 L273.6,447.5 L271.7,448.7 L269.7,449.8 L265.7,443.2 L267.5,442.1 L269.3,441.1 L271.0,439.9Z" fill="#EEECD2" stroke="#EEECD2" stroke-width="0.6"/>
<path d="M280.0,452.5 L278.0,453.9 L275.8,455.2 L273.6,456.5 L269.7,449.8 L271.7,448.7 L273.6,447.5 L275.5,446.2Z" fill="#F5E7BD" stroke="#F5E7BD" stroke-width="0.6"/>
<path d="M284.6,458.8 L282.3,460.3 L280.0,461.8 L277.6,463.2 L273.6,456.5 L275.8,455.2 L278.0,453.9 L280.0,452.5Z" fill="#EDECD3" stroke="#EDECD3" stroke-width="0.6"/>
<path d="M289.1,465.1 L286.7,466.8 L284.1,468.3 L281.6,469.8 L277.6,463.2 L280.0,461.8 L282.3,460.3 L284.6,458.8Z" fill="#C2E0EF" stroke="#C2E0EF" stroke-width="0.6"/>
<path d="M293.7,471.4 L291.0,473.2 L288.3,474.9 L285.5,476.5 L281.6,469.8 L284.1,468.3 L286.7,466.8 L289.1,465.1Z" fill="#A9D3E8" stroke="#A9D3E8" stroke-width="0.6"/>
<path d="M298.2,477.7 L295.4,479.6 L292.4,481.4 L289.5,483.2 L285.5,476.5 L288.3,474.9 L291.0,473.2 L293.7,471.4Z" fill="#72A6D3" stroke="#72A6D3" stroke-width="0.6"/>
<path d="M302.8,484.0 L299.7,486.1 L296.6,488.0 L293.4,489.8 L289.5,483.2 L292.4,481.4 L295.4,479.6 L298.2,477.7Z" fill="#81B2D9" stroke="#81B2D9" stroke-width="0.6"/>
<path d="M307.3,490.3 L304.1,492.5 L300.8,494.5 L297.4,496.5 L293.4,489.8 L296.6,488.0 L299.7,486.1 L302.8,484.0Z" fill="#74A8D4" stroke="#74A8D4" stroke-width="0.6"/>
<path d="M311.8,496.7 L308.4,498.9 L304.9,501.1 L301.3,503.1 L297.4,496.5 L300.8,494.5 L304.1,492.5 L307.3,490.3Z" fill="#689ACC" stroke="#689ACC" stroke-width="0.6"/>
<path d="M234.1,389.9 L233.9,390.0 L233.7,390.1 L233.4,390.2 L230.1,383.2Z" fill="#ECECD6" stroke="#ECECD6" stroke-width="0.6"/>
<path d="M238.0,396.5 L237.6,396.7 L237.2,397.0 L236.8,397.1 L233.4,390.2 L233.7,390.1 L233.9,390.0 L234.1,389.9Z" fill="#F4E8C0" stroke="#F4E8C0" stroke-width="0.6"/>
<path d="M242.0,403.2 L241.4,403.5 L240.8,403.8 L240.1,404.1 L236.8,397.1 L237.2,397.0 L237.6,396.7 L238.0,396.5Z" fill="#FBDB9A" stroke="#FBDB9A" stroke-width="0.6"/>
<path d="M245.9,409.9 L245.1,410.3 L244.3,410.7 L243.5,411.1 L240.1,404.1 L240.8,403.8 L241.4,403.5 L242.0,403.2Z" fill="#F6E6B8" stroke="#F6E6B8" stroke-width="0.6"/>
<path d="M249.9,416.5 L248.9,417.1 L247.9,417.6 L246.8,418.1 L243.5,411.1 L244.3,410.7 L245.1,410.3 L245.9,409.9Z" fill="#88B9DC" stroke="#88B9DC" stroke-width="0.6"/>
<path d="M253.8,423.2 L252.6,423.8 L251.4,424.5 L250.2,425.0 L246.8,418.1 L247.9,417.6 L248.9,417.1 L249.9,416.5Z" fill="#7FB1D8" stroke="#7FB1D8" stroke-width="0.6"/>
<path d="M257.8,429.8 L256.4,430.6 L255.0,431.3 L253.5,432.0 L250.2,425.0 L251.4,424.5 L252.6,423.8 L253.8,423.2Z" fill="#D6EBF4" stroke="#D6EBF4" stroke-width="0.6"/>
<path d="M261.8,436.5 L260.2,437.4 L258.5,438.2 L256.9,439.0 L253.5,432.0 L255.0,431.3 L256.4,430.6 L257.8,429.8Z" fill="#E6EDE1" stroke="#E6EDE1" stroke-width="0.6"/>
<path d="M265.7,443.2 L263.9,444.2 L262.1,445.1 L260.2,446.0 L256.9,439.0 L258.5,438.2 L260.2,437.4 L261.8,436.5Z" fill="#F8E2AF" stroke="#F8E2AF" stroke-width="0.6"/>
<path d="M269.7,449.8 L267.7,450.9 L265.6,452.0 L263.6,452.9 L260.2,446.0 L262.1,445.1 L263.9,444.2 L265.7,443.2Z" fill="#FDD78F" stroke="#FDD78F" stroke-width="0.6"/>
<path d="M273.6,456.5 L271.4,457.7 L269.2,458.8 L266.9,459.9 L263.6,452.9 L265.6,452.0 L267.7,450.9 L269.7,449.8Z" fill="#F6E5B6" stroke="#F6E5B6" stroke-width="0.6"/>
<path d="M277.6,463.2 L275.2,464.5 L272.7,465.7 L270.2,466.9 L266.9,459.9 L269.2,458.8 L271.4,457.7 L273.6,456.5Z" fill="#E2EDE9" stroke="#E2EDE9" stroke-width="0.6"/>
<path d="M281.6,469.8 L278.9,471.2 L276.3,472.6 L273.6,473.9 L270.2,466.9 L272.7,465.7 L275.2,464.5 L277.6,463.2Z" fill="#6A9CCD" stroke="#6A9CCD" stroke-width="0.6"/>
<path d="M285.5,476.5 L282.7,478.0 L279.8,479.5 L276.9,480.8 L273.6,473.9 L276.3,472.6 L278.9,471.2 L281.6,469.8Z" fill="#5584BF" stroke="#5584BF" stroke-width="0.6"/>
<path d="M289.5,483.2 L286.5,484.8 L283.4,486.3 L280.3,487.8 L276.9,480.8 L279.8,479.5 L282.7,478.0 L285.5,476.5Z" fill="#7AADD6" stroke="#7AADD6" stroke-width="0.6"/>
<path d="M293.4,489.8 L290.2,491.6 L286.9,493.2 L283.6,494.8 L280.3,487.8 L283.4,486.3 L286.5,484.8 L289.5,483.2Z" fill="#699CCD" stroke="#699CCD" stroke-width="0.6"/>
<path d="M297.4,496.5 L294.0,498.3 L290.5,500.1 L287.0,501.8 L283.6,494.8 L286.9,493.2 L290.2,491.6 L293.4,489.8Z" fill="#4C7AB9" stroke="#4C7AB9" stroke-width="0.6"/>
<path d="M301.3,503.1 L297.7,505.1 L294.1,507.0 L290.3,508.7 L287.0,501.8 L290.5,500.1 L294.0,498.3 L297.4,496.5Z" fill="#4976B7" stroke="#4976B7" stroke-width="0.6"/>
<path d="M233.4,390.2 L233.2,390.3 L233.0,390.4 L232.8,390.4 L230.1,383.2Z" fill="#F6E5B7" stroke="#F6E5B7" stroke-width="0.6"/>
<path d="M236.8,397.1 L236.4,397.3 L235.9,397.5 L235.5,397.7 L232.8,390.4 L233.0,390.4 L233.2,390.3 L233.4,390.2Z" fill="#F5E7BD" stroke="#F5E7BD" stroke-width="0.6"/>
<path d="M240.1,404.1 L239.5,404.4 L238.9,404.7 L238.2,404.9 L235.5,397.7 L235.9,397.5 L236.4,397.3 L236.8,397.1Z" fill="#FBDC9D" stroke="#FBDC9D" stroke-width="0.6"/>
<path d="M243.5,411.1 L242.6,411.5 L241.8,411.8 L240.9,412.1 L238.2,404.9 L238.9,404.7 L239.5,404.4 L240.1,404.1Z" fill="#F7E4B4" stroke="#F7E4B4" stroke-width="0.6"/>
<path d="M246.8,418.1 L245.8,418.5 L244.7,419.0 L243.6,419.4 L240.9,412.1 L241.8,411.8 L242.6,411.5 L243.5,411.1Z" fill="#8DBCDD" stroke="#8DBCDD" stroke-width="0.6"/>
<path d="M250.2,425.0 L248.9,425.6 L247.6,426.1 L246.3,426.6 L243.6,419.4 L244.7,419.0 L245.8,418.5 L246.8,418.1Z" fill="#76A9D5" stroke="#76A9D5" stroke-width="0.6"/>
<path d="M253.5,432.0 L252.0,432.7 L250.6,433.3 L249.1,433.8 L246.3,426.6 L247.6,426.1 L248.9,425.6 L250.2,425.0Z" fill="#D0E8F3" stroke="#D0E8F3" stroke-width="0.6"/>
<path d="M256.9,439.0 L255.2,439.7 L253.5,440.4 L251.8,441.0 L249.1,433.8 L250.6,433.3 L252.0,432.7 L253.5,432.0Z" fill="#E6EDE1" stroke="#E6EDE1" stroke-width="0.6"/>
<path d="M260.2,446.0 L258.3,446.8 L256.4,447.6 L254.5,448.3 L251.8,441.0 L253.5,440.4 L255.2,439.7 L256.9,439.0Z" fill="#F9DFA5" stroke="#F9DFA5" stroke-width="0.6"/>
<path d="M263.6,452.9 L261.5,453.9 L259.3,454.7 L257.2,455.5 L254.5,448.3 L256.4,447.6 L258.3,446.8 L260.2,446.0Z" fill="#FDD48C" stroke="#FDD48C" stroke-width="0.6"/>
<path d="M266.9,459.9 L264.6,460.9 L262.3,461.9 L259.9,462.7 L257.2,455.5 L259.3,454.7 L261.5,453.9 L263.6,452.9Z" fill="#F2EBC9" stroke="#F2EBC9" stroke-width="0.6"/>
<path d="M270.2,466.9 L267.7,468.0 L265.2,469.0 L262.6,470.0 L259.9,462.7 L262.3,461.9 L264.6,460.9 L266.9,459.9Z" fill="#E7EDE0" stroke="#E7EDE0" stroke-width="0.6"/>
<path d="M273.6,473.9 L270.9,475.0 L268.1,476.2 L265.3,477.2 L262.6,470.0 L265.2,469.0 L267.7,468.0 L270.2,466.9Z" fill="#88B8DC" stroke="#88B8DC" stroke-width="0.6"/>
<path d="M276.9,480.8 L274.0,482.1 L271.0,483.3 L268.0,484.4 L265.3,477.2 L268.1,476.2 L270.9,475.0 L273.6,473.9Z" fill="#6293C8" stroke="#6293C8" stroke-width="0.6"/>
<path d="M280.3,487.8 L277.1,489.2 L273.9,490.5 L270.7,491.7 L268.0,484.4 L271.0,483.3 L274.0,482.1 L276.9,480.8Z" fill="#3E5BAB" stroke="#3E5BAB" stroke-width="0.6"/>
<path d="M283.6,494.8 L280.3,496.2 L276.9,497.6 L273.4,498.9 L270.7,491.7 L273.9,490.5 L277.1,489.2 L280.3,487.8Z" fill="#3F5FAC" stroke="#3F5FAC" stroke-width="0.6"/>
<path d="M287.0,501.8 L283.4,503.3 L279.8,504.8 L276.1,506.1 L273.4,498.9 L276.9,497.6 L280.3,496.2 L283.6,494.8Z" fill="#3E5DAC" stroke="#3E5DAC" stroke-width="0.6"/>
<path d="M290.3,508.7 L286.5,510.4 L282.7,511.9 L278.8,513.3 L276.1,506.1 L279.8,504.8 L283.4,503.3 L287.0,501.8Z" fill="#3E5CAB" stroke="#3E5CAB" stroke-width="0.6"/>
<path d="M232.8,390.4 L232.6,390.5 L232.4,390.6 L232.1,390.6 L230.1,383.2Z" fill="#F4EAC4" stroke="#F4EAC4" stroke-width="0.6"/>
<path d="M235.5,397.7 L235.1,397.8 L234.6,397.9 L234.2,398.1 L232.1,390.6 L232.4,390.6 L232.6,390.5 L232.8,390.4Z" fill="#F7E3B2" stroke="#F7E3B2" stroke-width="0.6"/>
<path d="M238.2,404.9 L237.6,405.1 L236.9,405.3 L236.2,405.5 L234.2,398.1 L234.6,397.9 L235.1,397.8 L235.5,397.7Z" fill="#FDD58D" stroke="#FDD58D" stroke-width="0.6"/>
<path d="M240.9,412.1 L240.1,412.4 L239.2,412.7 L238.3,412.9 L236.2,405.5 L236.9,405.3 L237.6,405.1 L238.2,404.9Z" fill="#F7E3B0" stroke="#F7E3B0" stroke-width="0.6"/>
<path d="M243.6,419.4 L242.6,419.7 L241.5,420.1 L240.3,420.4 L238.3,412.9 L239.2,412.7 L240.1,412.4 L240.9,412.1Z" fill="#9BC7E3" stroke="#9BC7E3" stroke-width="0.6"/>
<path d="M246.3,426.6 L245.0,427.0 L243.7,427.4 L242.4,427.8 L240.3,420.4 L241.5,420.1 L242.6,419.7 L243.6,419.4Z" fill="#76A9D5" stroke="#76A9D5" stroke-width="0.6"/>
<path d="M249.1,433.8 L247.5,434.3 L246.0,434.8 L244.4,435.2 L242.4,427.8 L243.7,427.4 L245.0,427.0 L246.3,426.6Z" fill="#DFEEF0" stroke="#DFEEF0" stroke-width="0.6"/>
<path d="M251.8,441.0 L250.0,441.6 L248.3,442.2 L246.5,442.7 L244.4,435.2 L246.0,434.8 L247.5,434.3 L249.1,433.8Z" fill="#E1EDEC" stroke="#E1EDEC" stroke-width="0.6"/>
<path d="M254.5,448.3 L252.5,448.9 L250.5,449.5 L248.5,450.1 L246.5,442.7 L248.3,442.2 L250.0,441.6 L251.8,441.0Z" fill="#FCDA96" stroke="#FCDA96" stroke-width="0.6"/>
<path d="M257.2,455.5 L255.0,456.2 L252.8,456.9 L250.6,457.5 L248.5,450.1 L250.5,449.5 L252.5,448.9 L254.5,448.3Z" fill="#FDD58D" stroke="#FDD58D" stroke-width="0.6"/>
<path d="M259.9,462.7 L257.5,463.5 L255.1,464.3 L252.6,465.0 L250.6,457.5 L252.8,456.9 L255.0,456.2 L257.2,455.5Z" fill="#FCDA97" stroke="#FCDA97" stroke-width="0.6"/>
<path d="M262.6,470.0 L260.0,470.8 L257.3,471.7 L254.7,472.4 L252.6,465.0 L255.1,464.3 L257.5,463.5 L259.9,462.7Z" fill="#F8E2AD" stroke="#F8E2AD" stroke-width="0.6"/>
<path d="M265.3,477.2 L262.5,478.2 L259.6,479.0 L256.7,479.8 L254.7,472.4 L257.3,471.7 L260.0,470.8 L262.6,470.0Z" fill="#E8ECDF" stroke="#E8ECDF" stroke-width="0.6"/>
<path d="M268.0,484.4 L265.0,485.5 L261.9,486.4 L258.8,487.3 L256.7,479.8 L259.6,479.0 L262.5,478.2 L265.3,477.2Z" fill="#CAE5F1" stroke="#CAE5F1" stroke-width="0.6"/>
<path d="M270.7,491.7 L267.5,492.8 L264.2,493.8 L260.8,494.7 L258.8,487.3 L261.9,486.4 L265.0,485.5 L268.0,484.4Z" fill="#AFD6EA" stroke="#AFD6EA" stroke-width="0.6"/>
<path d="M273.4,498.9 L269.9,500.1 L266.4,501.1 L262.9,502.1 L260.8,494.7 L264.2,493.8 L267.5,492.8 L270.7,491.7Z" fill="#A4CFE6" stroke="#A4CFE6" stroke-width="0.6"/>
<path d="M276.1,506.1 L272.4,507.4 L268.7,508.5 L264.9,509.5 L262.9,502.1 L266.4,501.1 L269.9,500.1 L273.4,498.9Z" fill="#A3CEE6" stroke="#A3CEE6" stroke-width="0.6"/>
<path d="M278.8,513.3 L274.9,514.7 L271.0,515.9 L267.0,517.0 L264.9,509.5 L268.7,508.5 L272.4,507.4 L276.1,506.1Z" fill="#B0D7EA" stroke="#B0D7EA" stroke-width="0.6"/>
<path d="M232.1,390.6 L231.9,390.7 L231.7,390.7 L231.5,390.8 L230.1,383.2Z" fill="#F6E6B8" stroke="#F6E6B8" stroke-width="0.6"/>
<path d="M234.2,398.1 L233.8,398.2 L233.3,398.3 L232.8,398.4 L231.5,390.8 L231.7,390.7 L231.9,390.7 L232.1,390.6Z" fill="#F3EBC8" stroke="#F3EBC8" stroke-width="0.6"/>
<path d="M236.2,405.5 L235.6,405.7 L234.9,405.8 L234.2,405.9 L232.8,398.4 L233.3,398.3 L233.8,398.2 L234.2,398.1Z" fill="#FCD993" stroke="#FCD993" stroke-width="0.6"/>
<path d="M238.3,412.9 L237.4,413.1 L236.5,413.3 L235.6,413.5 L234.2,405.9 L234.9,405.8 L235.6,405.7 L236.2,405.5Z" fill="#FADD9F" stroke="#FADD9F" stroke-width="0.6"/>
<path d="M240.3,420.4 L239.2,420.6 L238.1,420.9 L237.0,421.1 L235.6,413.5 L236.5,413.3 L237.4,413.1 L238.3,412.9Z" fill="#F5E7BE" stroke="#F5E7BE" stroke-width="0.6"/>
<path d="M242.4,427.8 L241.1,428.1 L239.7,428.4 L238.3,428.7 L237.0,421.1 L238.1,420.9 L239.2,420.6 L240.3,420.4Z" fill="#E7EDE0" stroke="#E7EDE0" stroke-width="0.6"/>
<path d="M244.4,435.2 L242.9,435.6 L241.3,435.9 L239.7,436.2 L238.3,428.7 L239.7,428.4 L241.1,428.1 L242.4,427.8Z" fill="#6C9ECE" stroke="#6C9ECE" stroke-width="0.6"/>
<path d="M246.5,442.7 L244.7,443.1 L242.9,443.5 L241.1,443.8 L239.7,436.2 L241.3,435.9 L242.9,435.6 L244.4,435.2Z" fill="#76AAD5" stroke="#76AAD5" stroke-width="0.6"/>
<path d="M248.5,450.1 L246.5,450.6 L244.5,451.0 L242.5,451.4 L241.1,443.8 L242.9,443.5 L244.7,443.1 L246.5,442.7Z" fill="#C6E3F0" stroke="#C6E3F0" stroke-width="0.6"/>
<path d="M250.6,457.5 L248.4,458.1 L246.1,458.6 L243.8,459.0 L242.5,451.4 L244.5,451.0 L246.5,450.6 L248.5,450.1Z" fill="#E4EDE5" stroke="#E4EDE5" stroke-width="0.6"/>
<path d="M252.6,465.0 L250.2,465.6 L247.7,466.1 L245.2,466.6 L243.8,459.0 L246.1,458.6 L248.4,458.1 L250.6,457.5Z" fill="#F0EBCE" stroke="#F0EBCE" stroke-width="0.6"/>
<path d="M254.7,472.4 L252.0,473.0 L249.3,473.6 L246.6,474.1 L245.2,466.6 L247.7,466.1 L250.2,465.6 L252.6,465.0Z" fill="#EFECD0" stroke="#EFECD0" stroke-width="0.6"/>
<path d="M256.7,479.8 L253.8,480.5 L250.9,481.2 L248.0,481.7 L246.6,474.1 L249.3,473.6 L252.0,473.0 L254.7,472.4Z" fill="#F5E6BA" stroke="#F5E6BA" stroke-width="0.6"/>
<path d="M258.8,487.3 L255.7,488.0 L252.5,488.7 L249.3,489.3 L248.0,481.7 L250.9,481.2 L253.8,480.5 L256.7,479.8Z" fill="#F6E5B7" stroke="#F6E5B7" stroke-width="0.6"/>
<path d="M260.8,494.7 L257.5,495.5 L254.1,496.2 L250.7,496.9 L249.3,489.3 L252.5,488.7 L255.7,488.0 L258.8,487.3Z" fill="#F2EBC9" stroke="#F2EBC9" stroke-width="0.6"/>
<path d="M262.9,502.1 L259.3,503.0 L255.7,503.8 L252.1,504.4 L250.7,496.9 L254.1,496.2 L257.5,495.5 L260.8,494.7Z" fill="#EBECD8" stroke="#EBECD8" stroke-width="0.6"/>
<path d="M264.9,509.5 L261.1,510.5 L257.3,511.3 L253.5,512.0 L252.1,504.4 L255.7,503.8 L259.3,503.0 L262.9,502.1Z" fill="#D9ECF5" stroke="#D9ECF5" stroke-width="0.6"/>
<path d="M267.0,517.0 L263.0,518.0 L258.9,518.8 L254.8,519.6 L253.5,512.0 L257.3,511.3 L261.1,510.5 L264.9,509.5Z" fill="#CFE7F3" stroke="#CFE7F3" stroke-width="0.6"/>
<path d="M231.5,390.8 L231.2,390.8 L231.0,390.8 L230.8,390.9 L230.1,383.2Z" fill="#F1EBCC" stroke="#F1EBCC" stroke-width="0.6"/>
<path d="M232.8,398.4 L232.4,398.4 L231.9,398.5 L231.5,398.5 L230.8,390.9 L231.0,390.8 L231.2,390.8 L231.5,390.8Z" fill="#F1EBCC" stroke="#F1EBCC" stroke-width="0.6"/>
<path d="M234.2,405.9 L233.5,406.0 L232.9,406.1 L232.2,406.2 L231.5,398.5 L231.9,398.5 L232.4,398.4 L232.8,398.4Z" fill="#FADEA1" stroke="#FADEA1" stroke-width="0.6"/>
<path d="M235.6,413.5 L234.7,413.7 L233.8,413.8 L232.9,413.9 L232.2,406.2 L232.9,406.1 L233.5,406.0 L234.2,405.9Z" fill="#FADEA1" stroke="#FADEA1" stroke-width="0.6"/>
<path d="M237.0,421.1 L235.8,421.3 L234.7,421.4 L233.5,421.5 L232.9,413.9 L233.8,413.8 L234.7,413.7 L235.6,413.5Z" fill="#F5E7BD" stroke="#F5E7BD" stroke-width="0.6"/>
<path d="M238.3,428.7 L237.0,428.9 L235.6,429.1 L234.2,429.2 L233.5,421.5 L234.7,421.4 L235.8,421.3 L237.0,421.1Z" fill="#EBECD9" stroke="#EBECD9" stroke-width="0.6"/>
<path d="M239.7,436.2 L238.1,436.5 L236.5,436.7 L234.9,436.9 L234.2,429.2 L235.6,429.1 L237.0,428.9 L238.3,428.7Z" fill="#507FBC" stroke="#507FBC" stroke-width="0.6"/>
<path d="M241.1,443.8 L239.3,444.1 L237.5,444.3 L235.6,444.5 L234.9,436.9 L236.5,436.7 L238.1,436.5 L239.7,436.2Z" fill="#4D7BBA" stroke="#4D7BBA" stroke-width="0.6"/>
<path d="M242.5,451.4 L240.4,451.7 L238.4,452.0 L236.3,452.2 L235.6,444.5 L237.5,444.3 L239.3,444.1 L241.1,443.8Z" fill="#6DA0CF" stroke="#6DA0CF" stroke-width="0.6"/>
<path d="M243.8,459.0 L241.6,459.3 L239.3,459.6 L237.0,459.9 L236.3,452.2 L238.4,452.0 L240.4,451.7 L242.5,451.4Z" fill="#82B3D9" stroke="#82B3D9" stroke-width="0.6"/>
<path d="M245.2,466.6 L242.7,466.9 L240.2,467.3 L237.7,467.5 L237.0,459.9 L239.3,459.6 L241.6,459.3 L243.8,459.0Z" fill="#CBE5F1" stroke="#CBE5F1" stroke-width="0.6"/>
<path d="M246.6,474.1 L243.9,474.6 L241.1,474.9 L238.4,475.2 L237.7,467.5 L240.2,467.3 L242.7,466.9 L245.2,466.6Z" fill="#E0EEEF" stroke="#E0EEEF" stroke-width="0.6"/>
<path d="M248.0,481.7 L245.0,482.2 L242.0,482.6 L239.1,482.8 L238.4,475.2 L241.1,474.9 L243.9,474.6 L246.6,474.1Z" fill="#F8E2AD" stroke="#F8E2AD" stroke-width="0.6"/>
<path d="M249.3,489.3 L246.2,489.8 L243.0,490.2 L239.8,490.5 L239.1,482.8 L242.0,482.6 L245.0,482.2 L248.0,481.7Z" fill="#FCDB97" stroke="#FCDB97" stroke-width="0.6"/>
<path d="M250.7,496.9 L247.3,497.4 L243.9,497.8 L240.4,498.2 L239.8,490.5 L243.0,490.2 L246.2,489.8 L249.3,489.3Z" fill="#FDD088" stroke="#FDD088" stroke-width="0.6"/>
<path d="M252.1,504.4 L248.5,505.0 L244.8,505.5 L241.1,505.8 L240.4,498.2 L243.9,497.8 L247.3,497.4 L250.7,496.9Z" fill="#FADFA4" stroke="#FADFA4" stroke-width="0.6"/>
<path d="M253.5,512.0 L249.6,512.6 L245.7,513.1 L241.8,513.5 L241.1,505.8 L244.8,505.5 L248.5,505.0 L252.1,504.4Z" fill="#F4E9C1" stroke="#F4E9C1" stroke-width="0.6"/>
<path d="M254.8,519.6 L250.8,520.2 L246.6,520.8 L242.5,521.2 L241.8,513.5 L245.7,513.1 L249.6,512.6 L253.5,512.0Z" fill="#F4EAC4" stroke="#F4EAC4" stroke-width="0.6"/>
<path d="M230.8,390.9 L230.6,390.9 L230.3,390.9 L230.1,390.9 L230.1,383.2Z" fill="#F5E7BC" stroke="#F5E7BC" stroke-width="0.6"/>
<path d="M231.5,398.5 L231.0,398.6 L230.6,398.6 L230.1,398.6 L230.1,390.9 L230.3,390.9 L230.6,390.9 L230.8,390.9Z" fill="#F3EBC9" stroke="#F3EBC9" stroke-width="0.6"/>
<path d="M232.2,406.2 L231.5,406.2 L230.8,406.3 L230.1,406.3 L230.1,398.6 L230.6,398.6 L231.0,398.6 L231.5,398.5Z" fill="#FADDA0" stroke="#FADDA0" stroke-width="0.6"/>
<path d="M232.9,413.9 L231.9,413.9 L231.0,414.0 L230.1,414.0 L230.1,406.3 L230.8,406.3 L231.5,406.2 L232.2,406.2Z" fill="#FADEA1" stroke="#FADEA1" stroke-width="0.6"/>
<path d="M233.5,421.5 L232.4,421.6 L231.3,421.7 L230.1,421.7 L230.1,414.0 L231.0,414.0 L231.9,413.9 L232.9,413.9Z" fill="#F4E9C3" stroke="#F4E9C3" stroke-width="0.6"/>
<path d="M234.2,429.2 L232.9,429.3 L231.5,429.3 L230.1,429.4 L230.1,421.7 L231.3,421.7 L232.4,421.6 L233.5,421.5Z" fill="#E1EDEC" stroke="#E1EDEC" stroke-width="0.6"/>
<path d="M234.9,436.9 L233.3,437.0 L231.7,437.0 L230.1,437.1 L230.1,429.4 L231.5,429.3 L232.9,429.3 L234.2,429.2Z" fill="#3F5FAC" stroke="#3F5FAC" stroke-width="0.6"/>
<path d="M235.6,444.5 L233.8,444.7 L231.9,444.7 L230.1,444.8 L230.1,437.1 L231.7,437.0 L233.3,437.0 L234.9,436.9Z" fill="#4061AD" stroke="#4061AD" stroke-width="0.6"/>
<path d="M236.3,452.2 L234.2,452.3 L232.2,452.4 L230.1,452.4 L230.1,444.8 L231.9,444.7 L233.8,444.7 L235.6,444.5Z" fill="#4E7DBB" stroke="#4E7DBB" stroke-width="0.6"/>
<path d="M237.0,459.9 L234.7,460.0 L232.4,460.1 L230.1,460.1 L230.1,452.4 L232.2,452.4 L234.2,452.3 L236.3,452.2Z" fill="#5382BE" stroke="#5382BE" stroke-width="0.6"/>
<path d="M237.7,467.5 L235.2,467.7 L232.6,467.8 L230.1,467.8 L230.1,460.1 L232.4,460.1 L234.7,460.0 L237.0,459.9Z" fill="#E1EDEC" stroke="#E1EDEC" stroke-width="0.6"/>
<path d="M238.4,475.2 L235.6,475.4 L232.9,475.5 L230.1,475.5 L230.1,467.8 L232.6,467.8 L235.2,467.7 L237.7,467.5Z" fill="#F6E6BA" stroke="#F6E6BA" stroke-width="0.6"/>
<path d="M239.1,482.8 L236.1,483.1 L233.1,483.2 L230.1,483.2 L230.1,475.5 L232.9,475.5 L235.6,475.4 L238.4,475.2Z" fill="#FDD58D" stroke="#FDD58D" stroke-width="0.6"/>
<path d="M239.8,490.5 L236.5,490.7 L233.3,490.9 L230.1,490.9 L230.1,483.2 L233.1,483.2 L236.1,483.1 L239.1,482.8Z" fill="#FDD891" stroke="#FDD891" stroke-width="0.6"/>
<path d="M240.4,498.2 L237.0,498.4 L233.6,498.6 L230.1,498.6 L230.1,490.9 L233.3,490.9 L236.5,490.7 L239.8,490.5Z" fill="#FDD68E" stroke="#FDD68E" stroke-width="0.6"/>
<path d="M241.1,505.8 L237.5,506.1 L233.8,506.3 L230.1,506.3 L230.1,498.6 L233.6,498.6 L237.0,498.4 L240.4,498.2Z" fill="#F9E0A8" stroke="#F9E0A8" stroke-width="0.6"/>
<path d="M241.8,513.5 L237.9,513.8 L234.0,514.0 L230.1,514.0 L230.1,506.3 L233.8,506.3 L237.5,506.1 L241.1,505.8Z" fill="#F4EAC5" stroke="#F4EAC5" stroke-width="0.6"/>
<path d="M242.5,521.2 L238.4,521.5 L234.2,521.6 L230.1,521.7 L230.1,514.0 L234.0,514.0 L237.9,513.8 L241.8,513.5Z" fill="#F6E6BA" stroke="#F6E6BA" stroke-width="0.6"/>
<path d="M230.1,390.9 L229.9,390.9 L229.6,390.9 L229.4,390.9 L230.1,383.2Z" fill="#B3D8EB" stroke="#B3D8EB" stroke-width="0.6"/>
<path d="M230.1,398.6 L229.6,398.6 L229.2,398.6 L228.7,398.5 L229.4,390.9 L229.6,390.9 L229.9,390.9 L230.1,390.9Z" fill="#A4CFE6" stroke="#A4CFE6" stroke-width="0.6"/>
<path d="M230.1,406.3 L229.4,406.3 L228.7,406.2 L228.0,406.2 L228.7,398.5 L229.2,398.6 L229.6,398.6 L230.1,398.6Z" fill="#6394C8" stroke="#6394C8" stroke-width="0.6"/>
<path d="M230.1,414.0 L229.2,414.0 L228.3,413.9 L227.3,413.9 L228.0,406.2 L228.7,406.2 L229.4,406.3 L230.1,406.3Z" fill="#507FBC" stroke="#507FBC" stroke-width="0.6"/>
<path d="M230.1,421.7 L228.9,421.7 L227.8,421.6 L226.7,421.5 L227.3,413.9 L228.3,413.9 L229.2,414.0 L230.1,414.0Z" fill="#8DBCDD" stroke="#8DBCDD" stroke-width="0.6"/>
<path d="M230.1,429.4 L228.7,429.3 L227.3,429.3 L226.0,429.2 L226.7,421.5 L227.8,421.6 L228.9,421.7 L230.1,421.7Z" fill="#9ECAE4" stroke="#9ECAE4" stroke-width="0.6"/>
<path d="M230.1,437.1 L228.5,437.0 L226.9,437.0 L225.3,436.9 L226.0,429.2 L227.3,429.3 L228.7,429.3 L230.1,429.4Z" fill="#AAD3E8" stroke="#AAD3E8" stroke-width="0.6"/>
<path d="M230.1,444.8 L228.3,444.7 L226.4,444.7 L224.6,444.5 L225.3,436.9 L226.9,437.0 L228.5,437.0 L230.1,437.1Z" fill="#9BC8E3" stroke="#9BC8E3" stroke-width="0.6"/>
<path d="M230.1,452.4 L228.0,452.4 L226.0,452.3 L223.9,452.2 L224.6,444.5 L226.4,444.7 L228.3,444.7 L230.1,444.8Z" fill="#456BB2" stroke="#456BB2" stroke-width="0.6"/>
<path d="M230.1,460.1 L227.8,460.1 L225.5,460.0 L223.2,459.9 L223.9,452.2 L226.0,452.3 L228.0,452.4 L230.1,452.4Z" fill="#446BB2" stroke="#446BB2" stroke-width="0.6"/>
<path d="M230.1,467.8 L227.6,467.8 L225.0,467.7 L222.5,467.5 L223.2,459.9 L225.5,460.0 L227.8,460.1 L230.1,460.1Z" fill="#C7E3F0" stroke="#C7E3F0" stroke-width="0.6"/>
<path d="M230.1,475.5 L227.3,475.5 L224.6,475.4 L221.8,475.2 L222.5,467.5 L225.0,467.7 L227.6,467.8 L230.1,467.8Z" fill="#E0EEEF" stroke="#E0EEEF" stroke-width="0.6"/>
<path d="M230.1,483.2 L227.1,483.2 L224.1,483.1 L221.1,482.8 L221.8,475.2 L224.6,475.4 L227.3,475.5 L230.1,475.5Z" fill="#DBEDF6" stroke="#DBEDF6" stroke-width="0.6"/>
<path d="M230.1,490.9 L226.9,490.9 L223.7,490.7 L220.4,490.5 L221.1,482.8 L224.1,483.1 L227.1,483.2 L230.1,483.2Z" fill="#DDEEF5" stroke="#DDEEF5" stroke-width="0.6"/>
<path d="M230.1,498.6 L226.6,498.6 L223.2,498.4 L219.8,498.2 L220.4,490.5 L223.7,490.7 L226.9,490.9 L230.1,490.9Z" fill="#CEE7F2" stroke="#CEE7F2" stroke-width="0.6"/>
<path d="M230.1,506.3 L226.4,506.3 L222.7,506.1 L219.1,505.8 L219.8,498.2 L223.2,498.4 L226.6,498.6 L230.1,498.6Z" fill="#D8ECF5" stroke="#D8ECF5" stroke-width="0.6"/>
<path d="M230.1,514.0 L226.2,514.0 L222.3,513.8 L218.4,513.5 L219.1,505.8 L222.7,506.1 L226.4,506.3 L230.1,506.3Z" fill="#79ACD6" stroke="#79ACD6" stroke-width="0.6"/>
<path d="M230.1,521.7 L226.0,521.6 L221.8,521.5 L217.7,521.2 L218.4,513.5 L222.3,513.8 L226.2,514.0 L230.1,514.0Z" fill="#81B3D9" stroke="#81B3D9" stroke-width="0.6"/>
<path d="M229.4,390.9 L229.2,390.8 L229.0,390.8 L228.7,390.8 L230.1,383.2Z" fill="#ADD5E9" stroke="#ADD5E9" stroke-width="0.6"/>
<path d="M228.7,398.5 L228.3,398.5 L227.8,398.4 L227.4,398.4 L228.7,390.8 L229.0,390.8 L229.2,390.8 L229.4,390.9Z" fill="#93C1E0" stroke="#93C1E0" stroke-width="0.6"/>
<path d="M228.0,406.2 L227.3,406.1 L226.7,406.0 L226.0,405.9 L227.4,398.4 L227.8,398.4 L228.3,398.5 L228.7,398.5Z" fill="#4D7CBA" stroke="#4D7CBA" stroke-width="0.6"/>
<path d="M227.3,413.9 L226.4,413.8 L225.5,413.7 L224.6,413.5 L226.0,405.9 L226.7,406.0 L227.3,406.1 L228.0,406.2Z" fill="#507FBC" stroke="#507FBC" stroke-width="0.6"/>
<path d="M226.7,421.5 L225.5,421.4 L224.4,421.3 L223.2,421.1 L224.6,413.5 L225.5,413.7 L226.4,413.8 L227.3,413.9Z" fill="#9DCAE4" stroke="#9DCAE4" stroke-width="0.6"/>
<path d="M226.0,429.2 L224.6,429.1 L223.2,428.9 L221.9,428.7 L223.2,421.1 L224.4,421.3 L225.5,421.4 L226.7,421.5Z" fill="#BEDEEE" stroke="#BEDEEE" stroke-width="0.6"/>
<path d="M225.3,436.9 L223.7,436.7 L222.1,436.5 L220.5,436.2 L221.9,428.7 L223.2,428.9 L224.6,429.1 L226.0,429.2Z" fill="#EEECD3" stroke="#EEECD3" stroke-width="0.6"/>
<path d="M224.6,444.5 L222.7,444.3 L220.9,444.1 L219.1,443.8 L220.5,436.2 L222.1,436.5 L223.7,436.7 L225.3,436.9Z" fill="#EAECDA" stroke="#EAECDA" stroke-width="0.6"/>
<path d="M223.9,452.2 L221.8,452.0 L219.8,451.7 L217.7,451.4 L219.1,443.8 L220.9,444.1 L222.7,444.3 L224.6,444.5Z" fill="#DFEEF0" stroke="#DFEEF0" stroke-width="0.6"/>
<path d="M223.2,459.9 L220.9,459.6 L218.6,459.3 L216.4,459.0 L217.7,451.4 L219.8,451.7 L221.8,452.0 L223.9,452.2Z" fill="#D8ECF5" stroke="#D8ECF5" stroke-width="0.6"/>
<path d="M222.5,467.5 L220.0,467.3 L217.5,466.9 L215.0,466.6 L216.4,459.0 L218.6,459.3 L220.9,459.6 L223.2,459.9Z" fill="#ACD5E9" stroke="#ACD5E9" stroke-width="0.6"/>
<path d="M221.8,475.2 L219.1,474.9 L216.3,474.6 L213.6,474.1 L215.0,466.6 L217.5,466.9 L220.0,467.3 L222.5,467.5Z" fill="#93C1E0" stroke="#93C1E0" stroke-width="0.6"/>
<path d="M221.1,482.8 L218.2,482.6 L215.2,482.2 L212.2,481.7 L213.6,474.1 L216.3,474.6 L219.1,474.9 L221.8,475.2Z" fill="#5787C1" stroke="#5787C1" stroke-width="0.6"/>
<path d="M220.4,490.5 L217.2,490.2 L214.0,489.8 L210.9,489.3 L212.2,481.7 L215.2,482.2 L218.2,482.6 L221.1,482.8Z" fill="#466EB3" stroke="#466EB3" stroke-width="0.6"/>
<path d="M219.8,498.2 L216.3,497.8 L212.9,497.4 L209.5,496.9 L210.9,489.3 L214.0,489.8 L217.2,490.2 L220.4,490.5Z" fill="#4874B6" stroke="#4874B6" stroke-width="0.6"/>
<path d="M219.1,505.8 L215.4,505.5 L211.7,505.0 L208.1,504.4 L209.5,496.9 L212.9,497.4 L216.3,497.8 L219.8,498.2Z" fill="#4A77B8" stroke="#4A77B8" stroke-width="0.6"/>
<path d="M218.4,513.5 L214.5,513.1 L210.6,512.6 L206.7,512.0 L208.1,504.4 L211.7,505.0 L215.4,505.5 L219.1,505.8Z" fill="#5685C0" stroke="#5685C0" stroke-width="0.6"/>
<path d="M217.7,521.2 L213.6,520.8 L209.4,520.2 L205.4,519.6 L206.7,512.0 L210.6,512.6 L214.5,513.1 L218.4,513.5Z" fill="#4E7CBA" stroke="#4E7CBA" stroke-width="0.6"/>
<path d="M228.7,390.8 L228.5,390.7 L228.3,390.7 L228.1,390.6 L230.1,383.2Z" fill="#B5D9EB" stroke="#B5D9EB" stroke-width="0.6"/>
<path d="M227.4,398.4 L226.9,398.3 L226.4,398.2 L226.0,398.1 L228.1,390.6 L228.3,390.7 L228.5,390.7 L228.7,390.8Z" fill="#98C5E2" stroke="#98C5E2" stroke-width="0.6"/>
<path d="M226.0,405.9 L225.3,405.8 L224.6,405.7 L224.0,405.5 L226.0,398.1 L226.4,398.2 L226.9,398.3 L227.4,398.4Z" fill="#507FBC" stroke="#507FBC" stroke-width="0.6"/>
<path d="M224.6,413.5 L223.7,413.3 L222.8,413.1 L221.9,412.9 L224.0,405.5 L224.6,405.7 L225.3,405.8 L226.0,405.9Z" fill="#507FBC" stroke="#507FBC" stroke-width="0.6"/>
<path d="M223.2,421.1 L222.1,420.9 L221.0,420.6 L219.9,420.4 L221.9,412.9 L222.8,413.1 L223.7,413.3 L224.6,413.5Z" fill="#A8D2E8" stroke="#A8D2E8" stroke-width="0.6"/>
<path d="M221.9,428.7 L220.5,428.4 L219.1,428.1 L217.8,427.8 L219.9,420.4 L221.0,420.6 L222.1,420.9 L223.2,421.1Z" fill="#BFDEEE" stroke="#BFDEEE" stroke-width="0.6"/>
<path d="M220.5,436.2 L218.9,435.9 L217.3,435.6 L215.8,435.2 L217.8,427.8 L219.1,428.1 L220.5,428.4 L221.9,428.7Z" fill="#F0EBCD" stroke="#F0EBCD" stroke-width="0.6"/>
<path d="M219.1,443.8 L217.3,443.5 L215.5,443.1 L213.7,442.7 L215.8,435.2 L217.3,435.6 L218.9,435.9 L220.5,436.2Z" fill="#EAECDB" stroke="#EAECDB" stroke-width="0.6"/>
<path d="M217.7,451.4 L215.7,451.0 L213.7,450.6 L211.7,450.1 L213.7,442.7 L215.5,443.1 L217.3,443.5 L219.1,443.8Z" fill="#DFEEF0" stroke="#DFEEF0" stroke-width="0.6"/>
<path d="M216.4,459.0 L214.1,458.6 L211.8,458.1 L209.6,457.5 L211.7,450.1 L213.7,450.6 L215.7,451.0 L217.7,451.4Z" fill="#DBEDF6" stroke="#DBEDF6" stroke-width="0.6"/>
<path d="M215.0,466.6 L212.5,466.1 L210.0,465.6 L207.6,465.0 L209.6,457.5 L211.8,458.1 L214.1,458.6 L216.4,459.0Z" fill="#ADD5E9" stroke="#ADD5E9" stroke-width="0.6"/>
<path d="M213.6,474.1 L210.9,473.6 L208.2,473.0 L205.5,472.4 L207.6,465.0 L210.0,465.6 L212.5,466.1 L215.0,466.6Z" fill="#AED6E9" stroke="#AED6E9" stroke-width="0.6"/>
<path d="M212.2,481.7 L209.3,481.2 L206.4,480.5 L203.5,479.8 L205.5,472.4 L208.2,473.0 L210.9,473.6 L213.6,474.1Z" fill="#F0EBCF" stroke="#F0EBCF" stroke-width="0.6"/>
<path d="M210.9,489.3 L207.7,488.7 L204.5,488.0 L201.4,487.3 L203.5,479.8 L206.4,480.5 L209.3,481.2 L212.2,481.7Z" fill="#F6E6BA" stroke="#F6E6BA" stroke-width="0.6"/>
<path d="M209.5,496.9 L206.1,496.2 L202.7,495.5 L199.4,494.7 L201.4,487.3 L204.5,488.0 L207.7,488.7 L210.9,489.3Z" fill="#EFEBD0" stroke="#EFEBD0" stroke-width="0.6"/>
<path d="M208.1,504.4 L204.5,503.8 L200.9,503.0 L197.3,502.1 L199.4,494.7 L202.7,495.5 L206.1,496.2 L209.5,496.9Z" fill="#EDECD5" stroke="#EDECD5" stroke-width="0.6"/>
<path d="M206.7,512.0 L202.9,511.3 L199.1,510.5 L195.3,509.5 L197.3,502.1 L200.9,503.0 L204.5,503.8 L208.1,504.4Z" fill="#F1EBCC" stroke="#F1EBCC" stroke-width="0.6"/>
<path d="M205.4,519.6 L201.3,518.8 L197.2,518.0 L193.2,517.0 L195.3,509.5 L199.1,510.5 L202.9,511.3 L206.7,512.0Z" fill="#F2EBCA" stroke="#F2EBCA" stroke-width="0.6"/>
<path d="M228.1,390.6 L227.8,390.6 L227.6,390.5 L227.4,390.4 L230.1,383.2Z" fill="#AFD6EA" stroke="#AFD6EA" stroke-width="0.6"/>
<path d="M226.0,398.1 L225.6,397.9 L225.1,397.8 L224.7,397.7 L227.4,390.4 L227.6,390.5 L227.8,390.6 L228.1,390.6Z" fill="#B7DAEC" stroke="#B7DAEC" stroke-width="0.6"/>
<path d="M224.0,405.5 L223.3,405.3 L222.6,405.1 L222.0,404.9 L224.7,397.7 L225.1,397.8 L225.6,397.9 L226.0,398.1Z" fill="#FADD9F" stroke="#FADD9F" stroke-width="0.6"/>
<path d="M221.9,412.9 L221.0,412.7 L220.1,412.4 L219.3,412.1 L222.0,404.9 L222.6,405.1 L223.3,405.3 L224.0,405.5Z" fill="#FBDB99" stroke="#FBDB99" stroke-width="0.6"/>
<path d="M219.9,420.4 L218.7,420.1 L217.6,419.7 L216.6,419.4 L219.3,412.1 L220.1,412.4 L221.0,412.7 L221.9,412.9Z" fill="#E3EDE8" stroke="#E3EDE8" stroke-width="0.6"/>
<path d="M217.8,427.8 L216.5,427.4 L215.2,427.0 L213.9,426.6 L216.6,419.4 L217.6,419.7 L218.7,420.1 L219.9,420.4Z" fill="#DBEDF6" stroke="#DBEDF6" stroke-width="0.6"/>
<path d="M215.8,435.2 L214.2,434.8 L212.7,434.3 L211.1,433.8 L213.9,426.6 L215.2,427.0 L216.5,427.4 L217.8,427.8Z" fill="#F6E6B8" stroke="#F6E6B8" stroke-width="0.6"/>
<path d="M213.7,442.7 L211.9,442.2 L210.2,441.6 L208.4,441.0 L211.1,433.8 L212.7,434.3 L214.2,434.8 L215.8,435.2Z" fill="#F0EBCD" stroke="#F0EBCD" stroke-width="0.6"/>
<path d="M211.7,450.1 L209.7,449.5 L207.7,448.9 L205.7,448.3 L208.4,441.0 L210.2,441.6 L211.9,442.2 L213.7,442.7Z" fill="#F5E7BD" stroke="#F5E7BD" stroke-width="0.6"/>
<path d="M209.6,457.5 L207.4,456.9 L205.2,456.2 L203.0,455.5 L205.7,448.3 L207.7,448.9 L209.7,449.5 L211.7,450.1Z" fill="#E7EDE1" stroke="#E7EDE1" stroke-width="0.6"/>
<path d="M207.6,465.0 L205.1,464.3 L202.7,463.5 L200.3,462.7 L203.0,455.5 L205.2,456.2 L207.4,456.9 L209.6,457.5Z" fill="#7FB1D8" stroke="#7FB1D8" stroke-width="0.6"/>
<path d="M205.5,472.4 L202.9,471.7 L200.2,470.8 L197.6,470.0 L200.3,462.7 L202.7,463.5 L205.1,464.3 L207.6,465.0Z" fill="#90BFDF" stroke="#90BFDF" stroke-width="0.6"/>
<path d="M203.5,479.8 L200.6,479.0 L197.7,478.2 L194.9,477.2 L197.6,470.0 L200.2,470.8 L202.9,471.7 L205.5,472.4Z" fill="#E8ECDF" stroke="#E8ECDF" stroke-width="0.6"/>
<path d="M201.4,487.3 L198.3,486.4 L195.2,485.5 L192.2,484.4 L194.9,477.2 L197.7,478.2 L200.6,479.0 L203.5,479.8Z" fill="#F7E3B2" stroke="#F7E3B2" stroke-width="0.6"/>
<path d="M199.4,494.7 L196.0,493.8 L192.7,492.8 L189.5,491.7 L192.2,484.4 L195.2,485.5 L198.3,486.4 L201.4,487.3Z" fill="#FCDA97" stroke="#FCDA97" stroke-width="0.6"/>
<path d="M197.3,502.1 L193.8,501.1 L190.3,500.1 L186.8,498.9 L189.5,491.7 L192.7,492.8 L196.0,493.8 L199.4,494.7Z" fill="#FADEA2" stroke="#FADEA2" stroke-width="0.6"/>
<path d="M195.3,509.5 L191.5,508.5 L187.8,507.4 L184.1,506.1 L186.8,498.9 L190.3,500.1 L193.8,501.1 L197.3,502.1Z" fill="#F2EBCA" stroke="#F2EBCA" stroke-width="0.6"/>
<path d="M193.2,517.0 L189.2,515.9 L185.3,514.7 L181.4,513.3 L184.1,506.1 L187.8,507.4 L191.5,508.5 L195.3,509.5Z" fill="#F2EBCA" stroke="#F2EBCA" stroke-width="0.6"/>
<path d="M227.4,390.4 L227.2,390.4 L227.0,390.3 L226.8,390.2 L230.1,383.2Z" fill="#AED6E9" stroke="#AED6E9" stroke-width="0.6"/>
<path d="M224.7,397.7 L224.3,397.5 L223.8,397.3 L223.4,397.1 L226.8,390.2 L227.0,390.3 L227.2,390.4 L227.4,390.4Z" fill="#CEE6F2" stroke="#CEE6F2" stroke-width="0.6"/>
<path d="M222.0,404.9 L221.3,404.7 L220.7,404.4 L220.1,404.1 L223.4,397.1 L223.8,397.3 L224.3,397.5 L224.7,397.7Z" fill="#F6E5B5" stroke="#F6E5B5" stroke-width="0.6"/>
<path d="M219.3,412.1 L218.4,411.8 L217.6,411.5 L216.7,411.1 L220.1,404.1 L220.7,404.4 L221.3,404.7 L222.0,404.9Z" fill="#F9DFA4" stroke="#F9DFA4" stroke-width="0.6"/>
<path d="M216.6,419.4 L215.5,419.0 L214.4,418.5 L213.4,418.1 L216.7,411.1 L217.6,411.5 L218.4,411.8 L219.3,412.1Z" fill="#DFEEF0" stroke="#DFEEF0" stroke-width="0.6"/>
<path d="M213.9,426.6 L212.6,426.1 L211.3,425.6 L210.0,425.0 L213.4,418.1 L214.4,418.5 L215.5,419.0 L216.6,419.4Z" fill="#E3EDE9" stroke="#E3EDE9" stroke-width="0.6"/>
<path d="M211.1,433.8 L209.6,433.3 L208.2,432.7 L206.7,432.0 L210.0,425.0 L211.3,425.6 L212.6,426.1 L213.9,426.6Z" fill="#D1E8F3" stroke="#D1E8F3" stroke-width="0.6"/>
<path d="M208.4,441.0 L206.7,440.4 L205.0,439.7 L203.3,439.0 L206.7,432.0 L208.2,432.7 L209.6,433.3 L211.1,433.8Z" fill="#C2E0EF" stroke="#C2E0EF" stroke-width="0.6"/>
<path d="M205.7,448.3 L203.8,447.6 L201.9,446.8 L200.0,446.0 L203.3,439.0 L205.0,439.7 L206.7,440.4 L208.4,441.0Z" fill="#73A7D4" stroke="#73A7D4" stroke-width="0.6"/>
<path d="M203.0,455.5 L200.9,454.7 L198.7,453.9 L196.6,452.9 L200.0,446.0 L201.9,446.8 L203.8,447.6 L205.7,448.3Z" fill="#71A5D2" stroke="#71A5D2" stroke-width="0.6"/>
<path d="M200.3,462.7 L197.9,461.9 L195.6,460.9 L193.3,459.9 L196.6,452.9 L198.7,453.9 L200.9,454.7 L203.0,455.5Z" fill="#81B2D9" stroke="#81B2D9" stroke-width="0.6"/>
<path d="M197.6,470.0 L195.0,469.0 L192.5,468.0 L190.0,466.9 L193.3,459.9 L195.6,460.9 L197.9,461.9 L200.3,462.7Z" fill="#7AADD6" stroke="#7AADD6" stroke-width="0.6"/>
<path d="M194.9,477.2 L192.1,476.2 L189.3,475.0 L186.6,473.9 L190.0,466.9 L192.5,468.0 L195.0,469.0 L197.6,470.0Z" fill="#5585BF" stroke="#5585BF" stroke-width="0.6"/>
<path d="M192.2,484.4 L189.2,483.3 L186.2,482.1 L183.3,480.8 L186.6,473.9 L189.3,475.0 L192.1,476.2 L194.9,477.2Z" fill="#6192C7" stroke="#6192C7" stroke-width="0.6"/>
<path d="M189.5,491.7 L186.3,490.5 L183.1,489.2 L179.9,487.8 L183.3,480.8 L186.2,482.1 L189.2,483.3 L192.2,484.4Z" fill="#A9D3E8" stroke="#A9D3E8" stroke-width="0.6"/>
<path d="M186.8,498.9 L183.3,497.6 L179.9,496.2 L176.6,494.8 L179.9,487.8 L183.1,489.2 L186.3,490.5 L189.5,491.7Z" fill="#AAD4E8" stroke="#AAD4E8" stroke-width="0.6"/>
<path d="M184.1,506.1 L180.4,504.8 L176.8,503.3 L173.2,501.8 L176.6,494.8 L179.9,496.2 L183.3,497.6 L186.8,498.9Z" fill="#CCE6F2" stroke="#CCE6F2" stroke-width="0.6"/>
<path d="M181.4,513.3 L177.5,511.9 L173.7,510.4 L169.9,508.7 L173.2,501.8 L176.8,503.3 L180.4,504.8 L184.1,506.1Z" fill="#E2EDEA" stroke="#E2EDEA" stroke-width="0.6"/>
<path d="M226.8,390.2 L226.5,390.1 L226.3,390.0 L226.1,389.9 L230.1,383.2Z" fill="#B1D7EA" stroke="#B1D7EA" stroke-width="0.6"/>
<path d="M223.4,397.1 L223.0,397.0 L222.6,396.7 L222.2,396.5 L226.1,389.9 L226.3,390.0 L226.5,390.1 L226.8,390.2Z" fill="#B2D8EA" stroke="#B2D8EA" stroke-width="0.6"/>
<path d="M220.1,404.1 L219.4,403.8 L218.8,403.5 L218.2,403.2 L222.2,396.5 L222.6,396.7 L223.0,397.0 L223.4,397.1Z" fill="#F9DFA4" stroke="#F9DFA4" stroke-width="0.6"/>
<path d="M216.7,411.1 L215.9,410.7 L215.1,410.3 L214.3,409.9 L218.2,403.2 L218.8,403.5 L219.4,403.8 L220.1,404.1Z" fill="#F9DFA5" stroke="#F9DFA5" stroke-width="0.6"/>
<path d="M213.4,418.1 L212.3,417.6 L211.3,417.1 L210.3,416.5 L214.3,409.9 L215.1,410.3 L215.9,410.7 L216.7,411.1Z" fill="#E1EDEC" stroke="#E1EDEC" stroke-width="0.6"/>
<path d="M210.0,425.0 L208.8,424.5 L207.6,423.8 L206.3,423.2 L210.3,416.5 L211.3,417.1 L212.3,417.6 L213.4,418.1Z" fill="#CFE7F2" stroke="#CFE7F2" stroke-width="0.6"/>
<path d="M206.7,432.0 L205.2,431.3 L203.8,430.6 L202.4,429.8 L206.3,423.2 L207.6,423.8 L208.8,424.5 L210.0,425.0Z" fill="#9ECAE4" stroke="#9ECAE4" stroke-width="0.6"/>
<path d="M203.3,439.0 L201.7,438.2 L200.0,437.4 L198.4,436.5 L202.4,429.8 L203.8,430.6 L205.2,431.3 L206.7,432.0Z" fill="#99C6E2" stroke="#99C6E2" stroke-width="0.6"/>
<path d="M200.0,446.0 L198.1,445.1 L196.3,444.2 L194.5,443.2 L198.4,436.5 L200.0,437.4 L201.7,438.2 L203.3,439.0Z" fill="#A2CDE5" stroke="#A2CDE5" stroke-width="0.6"/>
<path d="M196.6,452.9 L194.6,452.0 L192.5,450.9 L190.5,449.8 L194.5,443.2 L196.3,444.2 L198.1,445.1 L200.0,446.0Z" fill="#B8DBEC" stroke="#B8DBEC" stroke-width="0.6"/>
<path d="M193.3,459.9 L191.0,458.8 L188.8,457.7 L186.6,456.5 L190.5,449.8 L192.5,450.9 L194.6,452.0 L196.6,452.9Z" fill="#FCDA96" stroke="#FCDA96" stroke-width="0.6"/>
<path d="M190.0,466.9 L187.5,465.7 L185.0,464.5 L182.6,463.2 L186.6,456.5 L188.8,457.7 L191.0,458.8 L193.3,459.9Z" fill="#F9DFA4" stroke="#F9DFA4" stroke-width="0.6"/>
<path d="M186.6,473.9 L183.9,472.6 L181.3,471.2 L178.6,469.8 L182.6,463.2 L185.0,464.5 L187.5,465.7 L190.0,466.9Z" fill="#F7E3B1" stroke="#F7E3B1" stroke-width="0.6"/>
<path d="M183.3,480.8 L180.4,479.5 L177.5,478.0 L174.7,476.5 L178.6,469.8 L181.3,471.2 L183.9,472.6 L186.6,473.9Z" fill="#ECECD6" stroke="#ECECD6" stroke-width="0.6"/>
<path d="M179.9,487.8 L176.8,486.3 L173.7,484.8 L170.7,483.2 L174.7,476.5 L177.5,478.0 L180.4,479.5 L183.3,480.8Z" fill="#DDEEF4" stroke="#DDEEF4" stroke-width="0.6"/>
<path d="M176.6,494.8 L173.3,493.2 L170.0,491.6 L166.8,489.8 L170.7,483.2 L173.7,484.8 L176.8,486.3 L179.9,487.8Z" fill="#E0EDED" stroke="#E0EDED" stroke-width="0.6"/>
<path d="M173.2,501.8 L169.7,500.1 L166.2,498.3 L162.8,496.5 L166.8,489.8 L170.0,491.6 L173.3,493.2 L176.6,494.8Z" fill="#E0EDED" stroke="#E0EDED" stroke-width="0.6"/>
<path d="M169.9,508.7 L166.1,507.0 L162.5,505.1 L158.8,503.1 L162.8,496.5 L166.2,498.3 L169.7,500.1 L173.2,501.8Z" fill="#DAEDF5" stroke="#DAEDF5" stroke-width="0.6"/>
<path d="M226.1,389.9 L225.9,389.7 L225.7,389.6 L225.6,389.5 L230.1,383.2Z" fill="#9BC7E3" stroke="#9BC7E3" stroke-width="0.6"/>
<path d="M222.2,396.5 L221.8,396.3 L221.4,396.1 L221.0,395.8 L225.6,389.5 L225.7,389.6 L225.9,389.7 L226.1,389.9Z" fill="#BFDFEE" stroke="#BFDFEE" stroke-width="0.6"/>
<path d="M218.2,403.2 L217.6,402.8 L217.0,402.5 L216.5,402.1 L221.0,395.8 L221.4,396.1 L221.8,396.3 L222.2,396.5Z" fill="#F8E2AD" stroke="#F8E2AD" stroke-width="0.6"/>
<path d="M214.3,409.9 L213.5,409.4 L212.7,408.9 L211.9,408.4 L216.5,402.1 L217.0,402.5 L217.6,402.8 L218.2,403.2Z" fill="#FDD993" stroke="#FDD993" stroke-width="0.6"/>
<path d="M210.3,416.5 L209.3,415.9 L208.3,415.3 L207.4,414.7 L211.9,408.4 L212.7,408.9 L213.5,409.4 L214.3,409.9Z" fill="#DFEEF1" stroke="#DFEEF1" stroke-width="0.6"/>
<path d="M206.3,423.2 L205.2,422.5 L204.0,421.8 L202.9,421.0 L207.4,414.7 L208.3,415.3 L209.3,415.9 L210.3,416.5Z" fill="#D0E8F3" stroke="#D0E8F3" stroke-width="0.6"/>
<path d="M202.4,429.8 L201.0,429.0 L199.6,428.2 L198.3,427.3 L202.9,421.0 L204.0,421.8 L205.2,422.5 L206.3,423.2Z" fill="#B5D9EB" stroke="#B5D9EB" stroke-width="0.6"/>
<path d="M198.4,436.5 L196.9,435.6 L195.3,434.6 L193.8,433.6 L198.3,427.3 L199.6,428.2 L201.0,429.0 L202.4,429.8Z" fill="#AED6E9" stroke="#AED6E9" stroke-width="0.6"/>
<path d="M194.5,443.2 L192.7,442.1 L190.9,441.1 L189.2,439.9 L193.8,433.6 L195.3,434.6 L196.9,435.6 L198.4,436.5Z" fill="#F9E0A8" stroke="#F9E0A8" stroke-width="0.6"/>
<path d="M190.5,449.8 L188.5,448.7 L186.6,447.5 L184.7,446.2 L189.2,439.9 L190.9,441.1 L192.7,442.1 L194.5,443.2Z" fill="#FDD38B" stroke="#FDD38B" stroke-width="0.6"/>
<path d="M186.6,456.5 L184.4,455.2 L182.2,453.9 L180.2,452.5 L184.7,446.2 L186.6,447.5 L188.5,448.7 L190.5,449.8Z" fill="#FDD38B" stroke="#FDD38B" stroke-width="0.6"/>
<path d="M182.6,463.2 L180.2,461.8 L177.9,460.3 L175.6,458.8 L180.2,452.5 L182.2,453.9 L184.4,455.2 L186.6,456.5Z" fill="#F9E0A6" stroke="#F9E0A6" stroke-width="0.6"/>
<path d="M178.6,469.8 L176.1,468.3 L173.5,466.8 L171.1,465.1 L175.6,458.8 L177.9,460.3 L180.2,461.8 L182.6,463.2Z" fill="#EFEBCF" stroke="#EFEBCF" stroke-width="0.6"/>
<path d="M174.7,476.5 L171.9,474.9 L169.2,473.2 L166.5,471.4 L171.1,465.1 L173.5,466.8 L176.1,468.3 L178.6,469.8Z" fill="#EAECDA" stroke="#EAECDA" stroke-width="0.6"/>
<path d="M170.7,483.2 L167.8,481.4 L164.8,479.6 L162.0,477.7 L166.5,471.4 L169.2,473.2 L171.9,474.9 L174.7,476.5Z" fill="#E5EDE5" stroke="#E5EDE5" stroke-width="0.6"/>
<path d="M166.8,489.8 L163.6,488.0 L160.5,486.1 L157.4,484.0 L162.0,477.7 L164.8,479.6 L167.8,481.4 L170.7,483.2Z" fill="#CEE7F2" stroke="#CEE7F2" stroke-width="0.6"/>
<path d="M162.8,496.5 L159.4,494.5 L156.1,492.5 L152.9,490.3 L157.4,484.0 L160.5,486.1 L163.6,488.0 L166.8,489.8Z" fill="#B7DAEC" stroke="#B7DAEC" stroke-width="0.6"/>
<path d="M158.8,503.1 L155.3,501.1 L151.8,498.9 L148.4,496.7 L152.9,490.3 L156.1,492.5 L159.4,494.5 L162.8,496.5Z" fill="#B5D9EB" stroke="#B5D9EB" stroke-width="0.6"/>
<path d="M225.6,389.5 L225.4,389.4 L225.2,389.2 L225.0,389.1 L230.1,383.2Z" fill="#A4CFE6" stroke="#A4CFE6" stroke-width="0.6"/>
<path d="M221.0,395.8 L220.6,395.5 L220.3,395.3 L219.9,395.0 L225.0,389.1 L225.2,389.2 L225.4,389.4 L225.6,389.5Z" fill="#B9DBEC" stroke="#B9DBEC" stroke-width="0.6"/>
<path d="M216.5,402.1 L215.9,401.7 L215.4,401.3 L214.8,400.9 L219.9,395.0 L220.3,395.3 L220.6,395.5 L221.0,395.8Z" fill="#FBDB9A" stroke="#FBDB9A" stroke-width="0.6"/>
<path d="M211.9,408.4 L211.2,407.9 L210.5,407.3 L209.7,406.8 L214.8,400.9 L215.4,401.3 L215.9,401.7 L216.5,402.1Z" fill="#FBDC9D" stroke="#FBDC9D" stroke-width="0.6"/>
<path d="M207.4,414.7 L206.5,414.1 L205.5,413.4 L204.7,412.7 L209.7,406.8 L210.5,407.3 L211.2,407.9 L211.9,408.4Z" fill="#E0EEEF" stroke="#E0EEEF" stroke-width="0.6"/>
<path d="M202.9,421.0 L201.7,420.2 L200.6,419.4 L199.6,418.6 L204.7,412.7 L205.5,413.4 L206.5,414.1 L207.4,414.7Z" fill="#DFEEF0" stroke="#DFEEF0" stroke-width="0.6"/>
<path d="M198.3,427.3 L197.0,426.4 L195.7,425.4 L194.5,424.5 L199.6,418.6 L200.6,419.4 L201.7,420.2 L202.9,421.0Z" fill="#D6EBF4" stroke="#D6EBF4" stroke-width="0.6"/>
<path d="M193.8,433.6 L192.3,432.6 L190.8,431.5 L189.4,430.4 L194.5,424.5 L195.7,425.4 L197.0,426.4 L198.3,427.3Z" fill="#C8E4F1" stroke="#C8E4F1" stroke-width="0.6"/>
<path d="M189.2,439.9 L187.6,438.7 L185.9,437.5 L184.3,436.2 L189.4,430.4 L190.8,431.5 L192.3,432.6 L193.8,433.6Z" fill="#72A6D3" stroke="#72A6D3" stroke-width="0.6"/>
<path d="M184.7,446.2 L182.8,444.9 L181.0,443.6 L179.2,442.1 L184.3,436.2 L185.9,437.5 L187.6,438.7 L189.2,439.9Z" fill="#7CAFD7" stroke="#7CAFD7" stroke-width="0.6"/>
<path d="M180.2,452.5 L178.1,451.1 L176.1,449.6 L174.1,448.0 L179.2,442.1 L181.0,443.6 L182.8,444.9 L184.7,446.2Z" fill="#81B3D9" stroke="#81B3D9" stroke-width="0.6"/>
<path d="M175.6,458.8 L173.4,457.3 L171.2,455.6 L169.0,453.9 L174.1,448.0 L176.1,449.6 L178.1,451.1 L180.2,452.5Z" fill="#72A6D3" stroke="#72A6D3" stroke-width="0.6"/>
<path d="M171.1,465.1 L168.6,463.4 L166.3,461.7 L163.9,459.8 L169.0,453.9 L171.2,455.6 L173.4,457.3 L175.6,458.8Z" fill="#5A8BC3" stroke="#5A8BC3" stroke-width="0.6"/>
<path d="M166.5,471.4 L163.9,469.6 L161.4,467.7 L158.9,465.7 L163.9,459.8 L166.3,461.7 L168.6,463.4 L171.1,465.1Z" fill="#466EB3" stroke="#466EB3" stroke-width="0.6"/>
<path d="M162.0,477.7 L159.2,475.8 L156.4,473.7 L153.8,471.6 L158.9,465.7 L161.4,467.7 L163.9,469.6 L166.5,471.4Z" fill="#4872B5" stroke="#4872B5" stroke-width="0.6"/>
<path d="M157.4,484.0 L154.5,482.0 L151.5,479.8 L148.7,477.5 L153.8,471.6 L156.4,473.7 L159.2,475.8 L162.0,477.7Z" fill="#4F7DBB" stroke="#4F7DBB" stroke-width="0.6"/>
<path d="M152.9,490.3 L149.7,488.1 L146.6,485.8 L143.6,483.4 L148.7,477.5 L151.5,479.8 L154.5,482.0 L157.4,484.0Z" fill="#7CAED7" stroke="#7CAED7" stroke-width="0.6"/>
<path d="M148.4,496.7 L145.0,494.3 L141.7,491.8 L138.5,489.3 L143.6,483.4 L146.6,485.8 L149.7,488.1 L152.9,490.3Z" fill="#82B4D9" stroke="#82B4D9" stroke-width="0.6"/>
<path d="M225.0,389.1 L224.8,388.9 L224.7,388.8 L224.5,388.6 L230.1,383.2Z" fill="#A5D0E7" stroke="#A5D0E7" stroke-width="0.6"/>
<path d="M219.9,395.0 L219.6,394.7 L219.2,394.4 L218.9,394.1 L224.5,388.6 L224.7,388.8 L224.8,388.9 L225.0,389.1Z" fill="#B8DBEC" stroke="#B8DBEC" stroke-width="0.6"/>
<path d="M214.8,400.9 L214.3,400.4 L213.8,400.0 L213.3,399.5 L218.9,394.1 L219.2,394.4 L219.6,394.7 L219.9,395.0Z" fill="#F8E1AC" stroke="#F8E1AC" stroke-width="0.6"/>
<path d="M209.7,406.8 L209.0,406.2 L208.4,405.6 L207.7,405.0 L213.3,399.5 L213.8,400.0 L214.3,400.4 L214.8,400.9Z" fill="#FADEA1" stroke="#FADEA1" stroke-width="0.6"/>
<path d="M204.7,412.7 L203.8,411.9 L202.9,411.2 L202.1,410.4 L207.7,405.0 L208.4,405.6 L209.0,406.2 L209.7,406.8Z" fill="#E9ECDC" stroke="#E9ECDC" stroke-width="0.6"/>
<path d="M199.6,418.6 L198.5,417.7 L197.5,416.8 L196.5,415.8 L202.1,410.4 L202.9,411.2 L203.8,411.9 L204.7,412.7Z" fill="#BBDDED" stroke="#BBDDED" stroke-width="0.6"/>
<path d="M194.5,424.5 L193.3,423.4 L192.1,422.4 L190.9,421.3 L196.5,415.8 L197.5,416.8 L198.5,417.7 L199.6,418.6Z" fill="#5281BD" stroke="#5281BD" stroke-width="0.6"/>
<path d="M189.4,430.4 L188.0,429.2 L186.6,428.0 L185.3,426.7 L190.9,421.3 L192.1,422.4 L193.3,423.4 L194.5,424.5Z" fill="#5585C0" stroke="#5585C0" stroke-width="0.6"/>
<path d="M184.3,436.2 L182.7,434.9 L181.2,433.6 L179.7,432.2 L185.3,426.7 L186.6,428.0 L188.0,429.2 L189.4,430.4Z" fill="#78ABD5" stroke="#78ABD5" stroke-width="0.6"/>
<path d="M179.2,442.1 L177.5,440.7 L175.8,439.2 L174.1,437.6 L179.7,432.2 L181.2,433.6 L182.7,434.9 L184.3,436.2Z" fill="#97C5E1" stroke="#97C5E1" stroke-width="0.6"/>
<path d="M174.1,448.0 L172.2,446.4 L170.3,444.8 L168.5,443.0 L174.1,437.6 L175.8,439.2 L177.5,440.7 L179.2,442.1Z" fill="#F9E0A8" stroke="#F9E0A8" stroke-width="0.6"/>
<path d="M169.0,453.9 L166.9,452.2 L164.9,450.4 L162.9,448.5 L168.5,443.0 L170.3,444.8 L172.2,446.4 L174.1,448.0Z" fill="#FCDA96" stroke="#FCDA96" stroke-width="0.6"/>
<path d="M163.9,459.8 L161.7,457.9 L159.5,456.0 L157.3,453.9 L162.9,448.5 L164.9,450.4 L166.9,452.2 L169.0,453.9Z" fill="#FCDA96" stroke="#FCDA96" stroke-width="0.6"/>
<path d="M158.9,465.7 L156.4,463.7 L154.0,461.6 L151.7,459.4 L157.3,453.9 L159.5,456.0 L161.7,457.9 L163.9,459.8Z" fill="#FBDC9C" stroke="#FBDC9C" stroke-width="0.6"/>
<path d="M153.8,471.6 L151.2,469.4 L148.6,467.2 L146.1,464.8 L151.7,459.4 L154.0,461.6 L156.4,463.7 L158.9,465.7Z" fill="#F6E5B8" stroke="#F6E5B8" stroke-width="0.6"/>
<path d="M148.7,477.5 L145.9,475.2 L143.2,472.7 L140.5,470.3 L146.1,464.8 L148.6,467.2 L151.2,469.4 L153.8,471.6Z" fill="#EDECD4" stroke="#EDECD4" stroke-width="0.6"/>
<path d="M143.6,483.4 L140.6,480.9 L137.7,478.3 L134.9,475.7 L140.5,470.3 L143.2,472.7 L145.9,475.2 L148.7,477.5Z" fill="#EFECD0" stroke="#EFECD0" stroke-width="0.6"/>
<path d="M138.5,489.3 L135.4,486.7 L132.3,483.9 L129.3,481.1 L134.9,475.7 L137.7,478.3 L140.6,480.9 L143.6,483.4Z" fill="#F5E8C0" stroke="#F5E8C0" stroke-width="0.6"/>
<path d="M224.5,388.6 L224.3,388.5 L224.2,388.3 L224.0,388.1 L230.1,383.2Z" fill="#A1CCE5" stroke="#A1CCE5" stroke-width="0.6"/>
<path d="M218.9,394.1 L218.6,393.8 L218.3,393.4 L218.0,393.1 L224.0,388.1 L224.2,388.3 L224.3,388.5 L224.5,388.6Z" fill="#8BBBDD" stroke="#8BBBDD" stroke-width="0.6"/>
<path d="M213.3,399.5 L212.8,399.0 L212.4,398.5 L211.9,398.0 L218.0,393.1 L218.3,393.4 L218.6,393.8 L218.9,394.1Z" fill="#4B79B9" stroke="#4B79B9" stroke-width="0.6"/>
<path d="M207.7,405.0 L207.1,404.3 L206.4,403.7 L205.8,403.0 L211.9,398.0 L212.4,398.5 L212.8,399.0 L213.3,399.5Z" fill="#5281BD" stroke="#5281BD" stroke-width="0.6"/>
<path d="M202.1,410.4 L201.3,409.6 L200.5,408.8 L199.8,407.9 L205.8,403.0 L206.4,403.7 L207.1,404.3 L207.7,405.0Z" fill="#699CCD" stroke="#699CCD" stroke-width="0.6"/>
<path d="M196.5,415.8 L195.5,414.9 L194.6,413.9 L193.7,412.9 L199.8,407.9 L200.5,408.8 L201.3,409.6 L202.1,410.4Z" fill="#7BAED7" stroke="#7BAED7" stroke-width="0.6"/>
<path d="M190.9,421.3 L189.8,420.2 L188.7,419.0 L187.6,417.8 L193.7,412.9 L194.6,413.9 L195.5,414.9 L196.5,415.8Z" fill="#5483BE" stroke="#5483BE" stroke-width="0.6"/>
<path d="M185.3,426.7 L184.0,425.4 L182.8,424.1 L181.6,422.8 L187.6,417.8 L188.7,419.0 L189.8,420.2 L190.9,421.3Z" fill="#5C8CC4" stroke="#5C8CC4" stroke-width="0.6"/>
<path d="M179.7,432.2 L178.3,430.7 L176.9,429.2 L175.5,427.7 L181.6,422.8 L182.8,424.1 L184.0,425.4 L185.3,426.7Z" fill="#699BCD" stroke="#699BCD" stroke-width="0.6"/>
<path d="M174.1,437.6 L172.5,436.0 L171.0,434.4 L169.5,432.7 L175.5,427.7 L176.9,429.2 L178.3,430.7 L179.7,432.2Z" fill="#81B3D9" stroke="#81B3D9" stroke-width="0.6"/>
<path d="M168.5,443.0 L166.8,441.3 L165.0,439.5 L163.4,437.6 L169.5,432.7 L171.0,434.4 L172.5,436.0 L174.1,437.6Z" fill="#F6E6BA" stroke="#F6E6BA" stroke-width="0.6"/>
<path d="M162.9,448.5 L161.0,446.6 L159.1,444.6 L157.3,442.6 L163.4,437.6 L165.0,439.5 L166.8,441.3 L168.5,443.0Z" fill="#FDD48C" stroke="#FDD48C" stroke-width="0.6"/>
<path d="M157.3,453.9 L155.2,451.8 L153.2,449.7 L151.3,447.5 L157.3,442.6 L159.1,444.6 L161.0,446.6 L162.9,448.5Z" fill="#FDBB73" stroke="#FDBB73" stroke-width="0.6"/>
<path d="M151.7,459.4 L149.5,457.1 L147.3,454.8 L145.2,452.4 L151.3,447.5 L153.2,449.7 L155.2,451.8 L157.3,453.9Z" fill="#FDC078" stroke="#FDC078" stroke-width="0.6"/>
<path d="M146.1,464.8 L143.7,462.4 L141.4,459.9 L139.1,457.4 L145.2,452.4 L147.3,454.8 L149.5,457.1 L151.7,459.4Z" fill="#FDD992" stroke="#FDD992" stroke-width="0.6"/>
<path d="M140.5,470.3 L138.0,467.7 L135.5,465.0 L133.1,462.3 L139.1,457.4 L141.4,459.9 L143.7,462.4 L146.1,464.8Z" fill="#FDD993" stroke="#FDD993" stroke-width="0.6"/>
<path d="M134.9,475.7 L132.2,473.0 L129.6,470.2 L127.0,467.3 L133.1,462.3 L135.5,465.0 L138.0,467.7 L140.5,470.3Z" fill="#FDD68E" stroke="#FDD68E" stroke-width="0.6"/>
<path d="M129.3,481.1 L126.4,478.2 L123.6,475.3 L120.9,472.2 L127.0,467.3 L129.6,470.2 L132.2,473.0 L134.9,475.7Z" fill="#FDD58D" stroke="#FDD58D" stroke-width="0.6"/>
<path d="M224.0,388.1 L223.9,388.0 L223.7,387.8 L223.6,387.6 L230.1,383.2Z" fill="#B1D7EA" stroke="#B1D7EA" stroke-width="0.6"/>
<path d="M218.0,393.1 L217.7,392.7 L217.4,392.4 L217.1,392.0 L223.6,387.6 L223.7,387.8 L223.9,388.0 L224.0,388.1Z" fill="#A4CFE6" stroke="#A4CFE6" stroke-width="0.6"/>
<path d="M211.9,398.0 L211.5,397.5 L211.0,397.0 L210.6,396.4 L217.1,392.0 L217.4,392.4 L217.7,392.7 L218.0,393.1Z" fill="#5B8BC3" stroke="#5B8BC3" stroke-width="0.6"/>
<path d="M205.8,403.0 L205.3,402.3 L204.7,401.6 L204.2,400.9 L210.6,396.4 L211.0,397.0 L211.5,397.5 L211.9,398.0Z" fill="#4975B7" stroke="#4975B7" stroke-width="0.6"/>
<path d="M199.8,407.9 L199.1,407.1 L198.3,406.2 L197.7,405.3 L204.2,400.9 L204.7,401.6 L205.3,402.3 L205.8,403.0Z" fill="#77AAD5" stroke="#77AAD5" stroke-width="0.6"/>
<path d="M193.7,412.9 L192.8,411.8 L192.0,410.8 L191.2,409.7 L197.7,405.3 L198.3,406.2 L199.1,407.1 L199.8,407.9Z" fill="#699BCC" stroke="#699BCC" stroke-width="0.6"/>
<path d="M187.6,417.8 L186.6,416.6 L185.6,415.4 L184.7,414.1 L191.2,409.7 L192.0,410.8 L192.8,411.8 L193.7,412.9Z" fill="#4C7AB9" stroke="#4C7AB9" stroke-width="0.6"/>
<path d="M181.6,422.8 L180.4,421.4 L179.3,420.0 L178.2,418.5 L184.7,414.1 L185.6,415.4 L186.6,416.6 L187.6,417.8Z" fill="#4975B7" stroke="#4975B7" stroke-width="0.6"/>
<path d="M175.5,427.7 L174.2,426.2 L172.9,424.6 L171.7,422.9 L178.2,418.5 L179.3,420.0 L180.4,421.4 L181.6,422.8Z" fill="#507FBC" stroke="#507FBC" stroke-width="0.6"/>
<path d="M169.5,432.7 L168.0,430.9 L166.6,429.1 L165.3,427.3 L171.7,422.9 L172.9,424.6 L174.2,426.2 L175.5,427.7Z" fill="#5D8DC4" stroke="#5D8DC4" stroke-width="0.6"/>
<path d="M163.4,437.6 L161.8,435.7 L160.2,433.7 L158.8,431.7 L165.3,427.3 L166.6,429.1 L168.0,430.9 L169.5,432.7Z" fill="#F5E7BB" stroke="#F5E7BB" stroke-width="0.6"/>
<path d="M157.3,442.6 L155.6,440.5 L153.9,438.3 L152.3,436.2 L158.8,431.7 L160.2,433.7 L161.8,435.7 L163.4,437.6Z" fill="#FDD992" stroke="#FDD992" stroke-width="0.6"/>
<path d="M151.3,447.5 L149.4,445.2 L147.5,442.9 L145.8,440.6 L152.3,436.2 L153.9,438.3 L155.6,440.5 L157.3,442.6Z" fill="#FDC57D" stroke="#FDC57D" stroke-width="0.6"/>
<path d="M145.2,452.4 L143.2,450.0 L141.2,447.5 L139.3,445.0 L145.8,440.6 L147.5,442.9 L149.4,445.2 L151.3,447.5Z" fill="#FDBB73" stroke="#FDBB73" stroke-width="0.6"/>
<path d="M139.1,457.4 L137.0,454.8 L134.8,452.1 L132.8,449.4 L139.3,445.0 L141.2,447.5 L143.2,450.0 L145.2,452.4Z" fill="#FDBB73" stroke="#FDBB73" stroke-width="0.6"/>
<path d="M133.1,462.3 L130.7,459.6 L128.5,456.7 L126.3,453.8 L132.8,449.4 L134.8,452.1 L137.0,454.8 L139.1,457.4Z" fill="#FDC27A" stroke="#FDC27A" stroke-width="0.6"/>
<path d="M127.0,467.3 L124.5,464.3 L122.1,461.3 L119.9,458.2 L126.3,453.8 L128.5,456.7 L130.7,459.6 L133.1,462.3Z" fill="#FDD68E" stroke="#FDD68E" stroke-width="0.6"/>
<path d="M120.9,472.2 L118.3,469.1 L115.8,465.9 L113.4,462.6 L119.9,458.2 L122.1,461.3 L124.5,464.3 L127.0,467.3Z" fill="#FDCF87" stroke="#FDCF87" stroke-width="0.6"/>
<path d="M223.6,387.6 L223.5,387.4 L223.4,387.2 L223.2,387.0 L230.1,383.2Z" fill="#A9D3E8" stroke="#A9D3E8" stroke-width="0.6"/>
<path d="M217.1,392.0 L216.9,391.7 L216.6,391.3 L216.4,390.9 L223.2,387.0 L223.4,387.2 L223.5,387.4 L223.6,387.6Z" fill="#91BFDF" stroke="#91BFDF" stroke-width="0.6"/>
<path d="M210.6,396.4 L210.3,395.9 L209.9,395.3 L209.5,394.7 L216.4,390.9 L216.6,391.3 L216.9,391.7 L217.1,392.0Z" fill="#5E8FC6" stroke="#5E8FC6" stroke-width="0.6"/>
<path d="M204.2,400.9 L203.6,400.1 L203.1,399.4 L202.7,398.6 L209.5,394.7 L209.9,395.3 L210.3,395.9 L210.6,396.4Z" fill="#5484BF" stroke="#5484BF" stroke-width="0.6"/>
<path d="M197.7,405.3 L197.0,404.3 L196.4,403.4 L195.8,402.4 L202.7,398.6 L203.1,399.4 L203.6,400.1 L204.2,400.9Z" fill="#7CAED7" stroke="#7CAED7" stroke-width="0.6"/>
<path d="M191.2,409.7 L190.4,408.6 L189.7,407.4 L189.0,406.3 L195.8,402.4 L196.4,403.4 L197.0,404.3 L197.7,405.3Z" fill="#6A9DCD" stroke="#6A9DCD" stroke-width="0.6"/>
<path d="M184.7,414.1 L183.8,412.8 L182.9,411.5 L182.1,410.1 L189.0,406.3 L189.7,407.4 L190.4,408.6 L191.2,409.7Z" fill="#73A7D4" stroke="#73A7D4" stroke-width="0.6"/>
<path d="M178.2,418.5 L177.2,417.0 L176.2,415.5 L175.3,414.0 L182.1,410.1 L182.9,411.5 L183.8,412.8 L184.7,414.1Z" fill="#78ABD5" stroke="#78ABD5" stroke-width="0.6"/>
<path d="M171.7,422.9 L170.6,421.3 L169.5,419.6 L168.4,417.8 L175.3,414.0 L176.2,415.5 L177.2,417.0 L178.2,418.5Z" fill="#5888C1" stroke="#5888C1" stroke-width="0.6"/>
<path d="M165.3,427.3 L164.0,425.5 L162.7,423.6 L161.5,421.7 L168.4,417.8 L169.5,419.6 L170.6,421.3 L171.7,422.9Z" fill="#5F90C6" stroke="#5F90C6" stroke-width="0.6"/>
<path d="M158.8,431.7 L157.3,429.7 L156.0,427.6 L154.7,425.5 L161.5,421.7 L162.7,423.6 L164.0,425.5 L165.3,427.3Z" fill="#8DBCDD" stroke="#8DBCDD" stroke-width="0.6"/>
<path d="M152.3,436.2 L150.7,433.9 L149.2,431.7 L147.8,429.4 L154.7,425.5 L156.0,427.6 L157.3,429.7 L158.8,431.7Z" fill="#A9D3E8" stroke="#A9D3E8" stroke-width="0.6"/>
<path d="M145.8,440.6 L144.1,438.2 L142.5,435.7 L141.0,433.2 L147.8,429.4 L149.2,431.7 L150.7,433.9 L152.3,436.2Z" fill="#CAE4F1" stroke="#CAE4F1" stroke-width="0.6"/>
<path d="M139.3,445.0 L137.5,442.4 L135.8,439.8 L134.1,437.1 L141.0,433.2 L142.5,435.7 L144.1,438.2 L145.8,440.6Z" fill="#D9ECF5" stroke="#D9ECF5" stroke-width="0.6"/>
<path d="M132.8,449.4 L130.9,446.6 L129.0,443.8 L127.3,440.9 L134.1,437.1 L135.8,439.8 L137.5,442.4 L139.3,445.0Z" fill="#F5E8BF" stroke="#F5E8BF" stroke-width="0.6"/>
<path d="M126.3,453.8 L124.3,450.9 L122.3,447.8 L120.4,444.8 L127.3,440.9 L129.0,443.8 L130.9,446.6 L132.8,449.4Z" fill="#F1EBCB" stroke="#F1EBCB" stroke-width="0.6"/>
<path d="M119.9,458.2 L117.7,455.1 L115.6,451.9 L113.5,448.6 L120.4,444.8 L122.3,447.8 L124.3,450.9 L126.3,453.8Z" fill="#E5EDE4" stroke="#E5EDE4" stroke-width="0.6"/>
<path d="M113.4,462.6 L111.0,459.3 L108.8,455.9 L106.7,452.5 L113.5,448.6 L115.6,451.9 L117.7,455.1 L119.9,458.2Z" fill="#D8ECF5" stroke="#D8ECF5" stroke-width="0.6"/>
<path d="M223.2,387.0 L223.1,386.9 L223.0,386.7 L222.9,386.5 L230.1,383.2Z" fill="#B4D9EB" stroke="#B4D9EB" stroke-width="0.6"/>
<path d="M216.4,390.9 L216.2,390.5 L216.0,390.1 L215.8,389.7 L222.9,386.5 L223.0,386.7 L223.1,386.9 L223.2,387.0Z" fill="#AFD6EA" stroke="#AFD6EA" stroke-width="0.6"/>
<path d="M209.5,394.7 L209.2,394.2 L208.9,393.6 L208.6,393.0 L215.8,389.7 L216.0,390.1 L216.2,390.5 L216.4,390.9Z" fill="#CDE6F2" stroke="#CDE6F2" stroke-width="0.6"/>
<path d="M202.7,398.6 L202.2,397.8 L201.8,397.0 L201.4,396.2 L208.6,393.0 L208.9,393.6 L209.2,394.2 L209.5,394.7Z" fill="#E7EDE1" stroke="#E7EDE1" stroke-width="0.6"/>
<path d="M195.8,402.4 L195.3,401.5 L194.7,400.5 L194.2,399.5 L201.4,396.2 L201.8,397.0 L202.2,397.8 L202.7,398.6Z" fill="#FDD992" stroke="#FDD992" stroke-width="0.6"/>
<path d="M189.0,406.3 L188.3,405.1 L187.7,403.9 L187.1,402.7 L194.2,399.5 L194.7,400.5 L195.3,401.5 L195.8,402.4Z" fill="#F5E8BF" stroke="#F5E8BF" stroke-width="0.6"/>
<path d="M182.1,410.1 L181.3,408.8 L180.6,407.4 L179.9,406.0 L187.1,402.7 L187.7,403.9 L188.3,405.1 L189.0,406.3Z" fill="#77AAD5" stroke="#77AAD5" stroke-width="0.6"/>
<path d="M175.3,414.0 L174.4,412.4 L173.5,410.8 L172.7,409.2 L179.9,406.0 L180.6,407.4 L181.3,408.8 L182.1,410.1Z" fill="#78ABD5" stroke="#78ABD5" stroke-width="0.6"/>
<path d="M168.4,417.8 L167.4,416.1 L166.4,414.3 L165.5,412.5 L172.7,409.2 L173.5,410.8 L174.4,412.4 L175.3,414.0Z" fill="#6DA0CF" stroke="#6DA0CF" stroke-width="0.6"/>
<path d="M161.5,421.7 L160.4,419.7 L159.4,417.7 L158.4,415.7 L165.5,412.5 L166.4,414.3 L167.4,416.1 L168.4,417.8Z" fill="#76AAD5" stroke="#76AAD5" stroke-width="0.6"/>
<path d="M154.7,425.5 L153.4,423.4 L152.3,421.2 L151.2,419.0 L158.4,415.7 L159.4,417.7 L160.4,419.7 L161.5,421.7Z" fill="#97C4E1" stroke="#97C4E1" stroke-width="0.6"/>
<path d="M147.8,429.4 L146.5,427.0 L145.2,424.6 L144.0,422.2 L151.2,419.0 L152.3,421.2 L153.4,423.4 L154.7,425.5Z" fill="#A0CBE4" stroke="#A0CBE4" stroke-width="0.6"/>
<path d="M141.0,433.2 L139.5,430.7 L138.1,428.1 L136.8,425.5 L144.0,422.2 L145.2,424.6 L146.5,427.0 L147.8,429.4Z" fill="#A1CDE5" stroke="#A1CDE5" stroke-width="0.6"/>
<path d="M134.1,437.1 L132.5,434.3 L131.1,431.5 L129.7,428.7 L136.8,425.5 L138.1,428.1 L139.5,430.7 L141.0,433.2Z" fill="#ACD5E9" stroke="#ACD5E9" stroke-width="0.6"/>
<path d="M127.3,440.9 L125.6,438.0 L124.0,435.0 L122.5,432.0 L129.7,428.7 L131.1,431.5 L132.5,434.3 L134.1,437.1Z" fill="#AED5E9" stroke="#AED5E9" stroke-width="0.6"/>
<path d="M120.4,444.8 L118.6,441.6 L116.9,438.5 L115.3,435.2 L122.5,432.0 L124.0,435.0 L125.6,438.0 L127.3,440.9Z" fill="#99C6E2" stroke="#99C6E2" stroke-width="0.6"/>
<path d="M113.5,448.6 L111.6,445.3 L109.8,441.9 L108.1,438.5 L115.3,435.2 L116.9,438.5 L118.6,441.6 L120.4,444.8Z" fill="#6DA0CF" stroke="#6DA0CF" stroke-width="0.6"/>
<path d="M106.7,452.5 L104.7,448.9 L102.8,445.4 L101.0,441.7 L108.1,438.5 L109.8,441.9 L111.6,445.3 L113.5,448.6Z" fill="#70A3D1" stroke="#70A3D1" stroke-width="0.6"/>
<path d="M222.9,386.5 L222.8,386.2 L222.7,386.0 L222.7,385.8 L230.1,383.2Z" fill="#AED6E9" stroke="#AED6E9" stroke-width="0.6"/>
<path d="M215.8,389.7 L215.6,389.3 L215.4,388.9 L215.2,388.5 L222.7,385.8 L222.7,386.0 L222.8,386.2 L222.9,386.5Z" fill="#A7D1E7" stroke="#A7D1E7" stroke-width="0.6"/>
<path d="M208.6,393.0 L208.3,392.3 L208.0,391.7 L207.8,391.1 L215.2,388.5 L215.4,388.9 L215.6,389.3 L215.8,389.7Z" fill="#CFE7F2" stroke="#CFE7F2" stroke-width="0.6"/>
<path d="M201.4,396.2 L201.0,395.4 L200.7,394.6 L200.3,393.7 L207.8,391.1 L208.0,391.7 L208.3,392.3 L208.6,393.0Z" fill="#DFEEF0" stroke="#DFEEF0" stroke-width="0.6"/>
<path d="M194.2,399.5 L193.8,398.4 L193.3,397.4 L192.9,396.4 L200.3,393.7 L200.7,394.6 L201.0,395.4 L201.4,396.2Z" fill="#FCDA97" stroke="#FCDA97" stroke-width="0.6"/>
<path d="M187.1,402.7 L186.5,401.5 L186.0,400.2 L185.5,399.0 L192.9,396.4 L193.3,397.4 L193.8,398.4 L194.2,399.5Z" fill="#F7E3B0" stroke="#F7E3B0" stroke-width="0.6"/>
<path d="M179.9,406.0 L179.2,404.5 L178.6,403.1 L178.0,401.6 L185.5,399.0 L186.0,400.2 L186.5,401.5 L187.1,402.7Z" fill="#699BCD" stroke="#699BCD" stroke-width="0.6"/>
<path d="M172.7,409.2 L171.9,407.6 L171.2,405.9 L170.6,404.3 L178.0,401.6 L178.6,403.1 L179.2,404.5 L179.9,406.0Z" fill="#6FA3D1" stroke="#6FA3D1" stroke-width="0.6"/>
<path d="M165.5,412.5 L164.7,410.6 L163.9,408.8 L163.1,406.9 L170.6,404.3 L171.2,405.9 L171.9,407.6 L172.7,409.2Z" fill="#9FCBE4" stroke="#9FCBE4" stroke-width="0.6"/>
<path d="M158.4,415.7 L157.4,413.7 L156.5,411.6 L155.7,409.5 L163.1,406.9 L163.9,408.8 L164.7,410.6 L165.5,412.5Z" fill="#B1D7EA" stroke="#B1D7EA" stroke-width="0.6"/>
<path d="M151.2,419.0 L150.1,416.7 L149.2,414.4 L148.3,412.1 L155.7,409.5 L156.5,411.6 L157.4,413.7 L158.4,415.7Z" fill="#DAEDF5" stroke="#DAEDF5" stroke-width="0.6"/>
<path d="M144.0,422.2 L142.9,419.8 L141.8,417.3 L140.8,414.8 L148.3,412.1 L149.2,414.4 L150.1,416.7 L151.2,419.0Z" fill="#C9E4F1" stroke="#C9E4F1" stroke-width="0.6"/>
<path d="M136.8,425.5 L135.6,422.8 L134.5,420.1 L133.4,417.4 L140.8,414.8 L141.8,417.3 L142.9,419.8 L144.0,422.2Z" fill="#A5D0E6" stroke="#A5D0E6" stroke-width="0.6"/>
<path d="M129.7,428.7 L128.3,425.9 L127.1,423.0 L126.0,420.0 L133.4,417.4 L134.5,420.1 L135.6,422.8 L136.8,425.5Z" fill="#AFD6EA" stroke="#AFD6EA" stroke-width="0.6"/>
<path d="M122.5,432.0 L121.1,428.9 L119.7,425.8 L118.5,422.7 L126.0,420.0 L127.1,423.0 L128.3,425.9 L129.7,428.7Z" fill="#A6D1E7" stroke="#A6D1E7" stroke-width="0.6"/>
<path d="M115.3,435.2 L113.8,432.0 L112.4,428.7 L111.1,425.3 L118.5,422.7 L119.7,425.8 L121.1,428.9 L122.5,432.0Z" fill="#9BC8E3" stroke="#9BC8E3" stroke-width="0.6"/>
<path d="M108.1,438.5 L106.5,435.0 L105.0,431.5 L103.6,427.9 L111.1,425.3 L112.4,428.7 L113.8,432.0 L115.3,435.2Z" fill="#75A8D4" stroke="#75A8D4" stroke-width="0.6"/>
<path d="M101.0,441.7 L99.3,438.1 L97.7,434.3 L96.2,430.6 L103.6,427.9 L105.0,431.5 L106.5,435.0 L108.1,438.5Z" fill="#82B4D9" stroke="#82B4D9" stroke-width="0.6"/>
<path d="M222.7,385.8 L222.6,385.6 L222.5,385.4 L222.5,385.2 L230.1,383.2Z" fill="#A3CEE6" stroke="#A3CEE6" stroke-width="0.6"/>
<path d="M215.2,388.5 L215.1,388.0 L214.9,387.6 L214.8,387.2 L222.5,385.2 L222.5,385.4 L222.6,385.6 L222.7,385.8Z" fill="#B3D8EB" stroke="#B3D8EB" stroke-width="0.6"/>
<path d="M207.8,391.1 L207.6,390.5 L207.3,389.8 L207.2,389.2 L214.8,387.2 L214.9,387.6 L215.1,388.0 L215.2,388.5Z" fill="#D0E8F3" stroke="#D0E8F3" stroke-width="0.6"/>
<path d="M200.3,393.7 L200.0,392.9 L199.8,392.0 L199.5,391.2 L207.2,389.2 L207.3,389.8 L207.6,390.5 L207.8,391.1Z" fill="#E2EDEB" stroke="#E2EDEB" stroke-width="0.6"/>
<path d="M192.9,396.4 L192.5,395.3 L192.2,394.2 L191.9,393.2 L199.5,391.2 L199.8,392.0 L200.0,392.9 L200.3,393.7Z" fill="#FCDA95" stroke="#FCDA95" stroke-width="0.6"/>
<path d="M185.5,399.0 L185.0,397.7 L184.6,396.4 L184.2,395.1 L191.9,393.2 L192.2,394.2 L192.5,395.3 L192.9,396.4Z" fill="#FBDB99" stroke="#FBDB99" stroke-width="0.6"/>
<path d="M178.0,401.6 L177.5,400.1 L177.0,398.6 L176.6,397.1 L184.2,395.1 L184.6,396.4 L185.0,397.7 L185.5,399.0Z" fill="#A5CFE6" stroke="#A5CFE6" stroke-width="0.6"/>
<path d="M170.6,404.3 L170.0,402.6 L169.4,400.9 L168.9,399.1 L176.6,397.1 L177.0,398.6 L177.5,400.1 L178.0,401.6Z" fill="#99C6E2" stroke="#99C6E2" stroke-width="0.6"/>
<path d="M163.1,406.9 L162.5,405.0 L161.8,403.1 L161.3,401.1 L168.9,399.1 L169.4,400.9 L170.0,402.6 L170.6,404.3Z" fill="#82B3D9" stroke="#82B3D9" stroke-width="0.6"/>
<path d="M155.7,409.5 L155.0,407.4 L154.3,405.3 L153.6,403.1 L161.3,401.1 L161.8,403.1 L162.5,405.0 L163.1,406.9Z" fill="#7EB0D8" stroke="#7EB0D8" stroke-width="0.6"/>
<path d="M148.3,412.1 L147.4,409.8 L146.7,407.5 L146.0,405.1 L153.6,403.1 L154.3,405.3 L155.0,407.4 L155.7,409.5Z" fill="#E4EDE7" stroke="#E4EDE7" stroke-width="0.6"/>
<path d="M140.8,414.8 L139.9,412.2 L139.1,409.7 L138.3,407.1 L146.0,405.1 L146.7,407.5 L147.4,409.8 L148.3,412.1Z" fill="#F4E9C2" stroke="#F4E9C2" stroke-width="0.6"/>
<path d="M133.4,417.4 L132.4,414.7 L131.5,411.9 L130.7,409.1 L138.3,407.1 L139.1,409.7 L139.9,412.2 L140.8,414.8Z" fill="#DEEEF2" stroke="#DEEEF2" stroke-width="0.6"/>
<path d="M126.0,420.0 L124.9,417.1 L123.9,414.1 L123.0,411.1 L130.7,409.1 L131.5,411.9 L132.4,414.7 L133.4,417.4Z" fill="#E0EDED" stroke="#E0EDED" stroke-width="0.6"/>
<path d="M118.5,422.7 L117.4,419.5 L116.3,416.3 L115.4,413.1 L123.0,411.1 L123.9,414.1 L124.9,417.1 L126.0,420.0Z" fill="#D9ECF5" stroke="#D9ECF5" stroke-width="0.6"/>
<path d="M111.1,425.3 L109.9,421.9 L108.8,418.5 L107.7,415.1 L115.4,413.1 L116.3,416.3 L117.4,419.5 L118.5,422.7Z" fill="#DEEEF1" stroke="#DEEEF1" stroke-width="0.6"/>
<path d="M103.6,427.9 L102.3,424.3 L101.2,420.7 L100.1,417.1 L107.7,415.1 L108.8,418.5 L109.9,421.9 L111.1,425.3Z" fill="#AED6E9" stroke="#AED6E9" stroke-width="0.6"/>
<path d="M96.2,430.6 L94.8,426.8 L93.6,422.9 L92.5,419.0 L100.1,417.1 L101.2,420.7 L102.3,424.3 L103.6,427.9Z" fill="#9ECAE4" stroke="#9ECAE4" stroke-width="0.6"/>
<path d="M222.5,385.2 L222.4,385.0 L222.3,384.8 L222.3,384.5 L230.1,383.2Z" fill="#9AC6E2" stroke="#9AC6E2" stroke-width="0.6"/>
<path d="M214.8,387.2 L214.7,386.7 L214.6,386.3 L214.5,385.9 L222.3,384.5 L222.3,384.8 L222.4,385.0 L222.5,385.2Z" fill="#C2E0EF" stroke="#C2E0EF" stroke-width="0.6"/>
<path d="M207.2,389.2 L207.0,388.5 L206.8,387.9 L206.7,387.2 L214.5,385.9 L214.6,386.3 L214.7,386.7 L214.8,387.2Z" fill="#F9DFA4" stroke="#F9DFA4" stroke-width="0.6"/>
<path d="M199.5,391.2 L199.3,390.3 L199.1,389.4 L198.9,388.5 L206.7,387.2 L206.8,387.9 L207.0,388.5 L207.2,389.2Z" fill="#FDD189" stroke="#FDD189" stroke-width="0.6"/>
<path d="M191.9,393.2 L191.6,392.1 L191.3,391.0 L191.1,389.9 L198.9,388.5 L199.1,389.4 L199.3,390.3 L199.5,391.2Z" fill="#FBDD9E" stroke="#FBDD9E" stroke-width="0.6"/>
<path d="M184.2,395.1 L183.9,393.8 L183.6,392.5 L183.3,391.2 L191.1,389.9 L191.3,391.0 L191.6,392.1 L191.9,393.2Z" fill="#FBDC9D" stroke="#FBDC9D" stroke-width="0.6"/>
<path d="M176.6,397.1 L176.2,395.6 L175.8,394.1 L175.5,392.6 L183.3,391.2 L183.6,392.5 L183.9,393.8 L184.2,395.1Z" fill="#D8ECF5" stroke="#D8ECF5" stroke-width="0.6"/>
<path d="M168.9,399.1 L168.5,397.4 L168.1,395.6 L167.7,393.9 L175.5,392.6 L175.8,394.1 L176.2,395.6 L176.6,397.1Z" fill="#DCEEF6" stroke="#DCEEF6" stroke-width="0.6"/>
<path d="M161.3,401.1 L160.8,399.2 L160.3,397.2 L159.9,395.2 L167.7,393.9 L168.1,395.6 L168.5,397.4 L168.9,399.1Z" fill="#D1E8F3" stroke="#D1E8F3" stroke-width="0.6"/>
<path d="M153.6,403.1 L153.1,400.9 L152.6,398.8 L152.1,396.6 L159.9,395.2 L160.3,397.2 L160.8,399.2 L161.3,401.1Z" fill="#DFEEF0" stroke="#DFEEF0" stroke-width="0.6"/>
<path d="M146.0,405.1 L145.4,402.7 L144.8,400.3 L144.3,397.9 L152.1,396.6 L152.6,398.8 L153.1,400.9 L153.6,403.1Z" fill="#FBDD9D" stroke="#FBDD9D" stroke-width="0.6"/>
<path d="M138.3,407.1 L137.7,404.5 L137.1,401.9 L136.5,399.2 L144.3,397.9 L144.8,400.3 L145.4,402.7 L146.0,405.1Z" fill="#FDD48C" stroke="#FDD48C" stroke-width="0.6"/>
<path d="M130.7,409.1 L130.0,406.3 L129.3,403.4 L128.7,400.6 L136.5,399.2 L137.1,401.9 L137.7,404.5 L138.3,407.1Z" fill="#F0EBCD" stroke="#F0EBCD" stroke-width="0.6"/>
<path d="M123.0,411.1 L122.3,408.0 L121.6,405.0 L121.0,401.9 L128.7,400.6 L129.3,403.4 L130.0,406.3 L130.7,409.1Z" fill="#F0EBCE" stroke="#F0EBCE" stroke-width="0.6"/>
<path d="M115.4,413.1 L114.6,409.8 L113.8,406.5 L113.2,403.2 L121.0,401.9 L121.6,405.0 L122.3,408.0 L123.0,411.1Z" fill="#E3EDE8" stroke="#E3EDE8" stroke-width="0.6"/>
<path d="M107.7,415.1 L106.8,411.6 L106.1,408.1 L105.4,404.6 L113.2,403.2 L113.8,406.5 L114.6,409.8 L115.4,413.1Z" fill="#E0EEEF" stroke="#E0EEEF" stroke-width="0.6"/>
<path d="M100.1,417.1 L99.1,413.4 L98.3,409.7 L97.6,405.9 L105.4,404.6 L106.1,408.1 L106.8,411.6 L107.7,415.1Z" fill="#A6D1E7" stroke="#A6D1E7" stroke-width="0.6"/>
<path d="M92.5,419.0 L91.4,415.1 L90.5,411.2 L89.8,407.3 L97.6,405.9 L98.3,409.7 L99.1,413.4 L100.1,417.1Z" fill="#9DC9E4" stroke="#9DC9E4" stroke-width="0.6"/>
<path d="M222.3,384.5 L222.3,384.3 L222.2,384.1 L222.2,383.9 L230.1,383.2Z" fill="#B7DAEC" stroke="#B7DAEC" stroke-width="0.6"/>
<path d="M214.5,385.9 L214.4,385.4 L214.4,385.0 L214.3,384.5 L222.2,383.9 L222.2,384.1 L222.3,384.3 L222.3,384.5Z" fill="#CFE7F2" stroke="#CFE7F2" stroke-width="0.6"/>
<path d="M206.7,387.2 L206.6,386.5 L206.5,385.9 L206.4,385.2 L214.3,384.5 L214.4,385.0 L214.4,385.4 L214.5,385.9Z" fill="#F8E1AA" stroke="#F8E1AA" stroke-width="0.6"/>
<path d="M198.9,388.5 L198.8,387.7 L198.6,386.8 L198.6,385.9 L206.4,385.2 L206.5,385.9 L206.6,386.5 L206.7,387.2Z" fill="#FADD9F" stroke="#FADD9F" stroke-width="0.6"/>
<path d="M191.1,389.9 L190.9,388.8 L190.8,387.7 L190.7,386.6 L198.6,385.9 L198.6,386.8 L198.8,387.7 L198.9,388.5Z" fill="#FDD189" stroke="#FDD189" stroke-width="0.6"/>
<path d="M183.3,391.2 L183.1,389.9 L182.9,388.6 L182.8,387.2 L190.7,386.6 L190.8,387.7 L190.9,388.8 L191.1,389.9Z" fill="#F9DFA5" stroke="#F9DFA5" stroke-width="0.6"/>
<path d="M175.5,392.6 L175.3,391.0 L175.1,389.5 L174.9,387.9 L182.8,387.2 L182.9,388.6 L183.1,389.9 L183.3,391.2Z" fill="#E2EDEB" stroke="#E2EDEB" stroke-width="0.6"/>
<path d="M167.7,393.9 L167.4,392.1 L167.2,390.3 L167.0,388.6 L174.9,387.9 L175.1,389.5 L175.3,391.0 L175.5,392.6Z" fill="#E1EDED" stroke="#E1EDED" stroke-width="0.6"/>
<path d="M159.9,395.2 L159.6,393.2 L159.3,391.2 L159.1,389.2 L167.0,388.6 L167.2,390.3 L167.4,392.1 L167.7,393.9Z" fill="#F4EAC4" stroke="#F4EAC4" stroke-width="0.6"/>
<path d="M152.1,396.6 L151.8,394.4 L151.5,392.1 L151.2,389.9 L159.1,389.2 L159.3,391.2 L159.6,393.2 L159.9,395.2Z" fill="#F1EBCC" stroke="#F1EBCC" stroke-width="0.6"/>
<path d="M144.3,397.9 L143.9,395.5 L143.6,393.0 L143.3,390.6 L151.2,389.9 L151.5,392.1 L151.8,394.4 L152.1,396.6Z" fill="#FDD78F" stroke="#FDD78F" stroke-width="0.6"/>
<path d="M136.5,399.2 L136.1,396.6 L135.7,393.9 L135.5,391.2 L143.3,390.6 L143.6,393.0 L143.9,395.5 L144.3,397.9Z" fill="#FBDB99" stroke="#FBDB99" stroke-width="0.6"/>
<path d="M128.7,400.6 L128.3,397.7 L127.9,394.8 L127.6,391.9 L135.5,391.2 L135.7,393.9 L136.1,396.6 L136.5,399.2Z" fill="#FCD993" stroke="#FCD993" stroke-width="0.6"/>
<path d="M121.0,401.9 L120.4,398.8 L120.0,395.7 L119.7,392.6 L127.6,391.9 L127.9,394.8 L128.3,397.7 L128.7,400.6Z" fill="#FBDB99" stroke="#FBDB99" stroke-width="0.6"/>
<path d="M113.2,403.2 L112.6,399.9 L112.2,396.6 L111.8,393.3 L119.7,392.6 L120.0,395.7 L120.4,398.8 L121.0,401.9Z" fill="#C6E2F0" stroke="#C6E2F0" stroke-width="0.6"/>
<path d="M105.4,404.6 L104.8,401.0 L104.3,397.5 L103.9,393.9 L111.8,393.3 L112.2,396.6 L112.6,399.9 L113.2,403.2Z" fill="#98C5E2" stroke="#98C5E2" stroke-width="0.6"/>
<path d="M97.6,405.9 L96.9,402.2 L96.4,398.4 L96.0,394.6 L103.9,393.9 L104.3,397.5 L104.8,401.0 L105.4,404.6Z" fill="#72A6D3" stroke="#72A6D3" stroke-width="0.6"/>
<path d="M89.8,407.3 L89.1,403.3 L88.6,399.3 L88.1,395.3 L96.0,394.6 L96.4,398.4 L96.9,402.2 L97.6,405.9Z" fill="#71A5D2" stroke="#71A5D2" stroke-width="0.6"/>
<path d="M222.2,383.9 L222.2,383.6 L222.2,383.4 L222.2,383.2 L230.1,383.2Z" fill="#AAD3E8" stroke="#AAD3E8" stroke-width="0.6"/>
<path d="M214.3,384.5 L214.3,384.1 L214.3,383.6 L214.3,383.2 L222.2,383.2 L222.2,383.4 L222.2,383.6 L222.2,383.9Z" fill="#BCDDED" stroke="#BCDDED" stroke-width="0.6"/>
<path d="M206.4,385.2 L206.4,384.5 L206.4,383.9 L206.3,383.2 L214.3,383.2 L214.3,383.6 L214.3,384.1 L214.3,384.5Z" fill="#F6E5B6" stroke="#F6E5B6" stroke-width="0.6"/>
<path d="M198.6,385.9 L198.5,385.0 L198.4,384.1 L198.4,383.2 L206.3,383.2 L206.4,383.9 L206.4,384.5 L206.4,385.2Z" fill="#FBDB98" stroke="#FBDB98" stroke-width="0.6"/>
<path d="M190.7,386.6 L190.6,385.4 L190.5,384.3 L190.5,383.2 L198.4,383.2 L198.4,384.1 L198.5,385.0 L198.6,385.9Z" fill="#FDD48C" stroke="#FDD48C" stroke-width="0.6"/>
<path d="M182.8,387.2 L182.7,385.9 L182.6,384.5 L182.6,383.2 L190.5,383.2 L190.5,384.3 L190.6,385.4 L190.7,386.6Z" fill="#FBDC9C" stroke="#FBDC9C" stroke-width="0.6"/>
<path d="M174.9,387.9 L174.8,386.3 L174.7,384.8 L174.7,383.2 L182.6,383.2 L182.6,384.5 L182.7,385.9 L182.8,387.2Z" fill="#9AC7E2" stroke="#9AC7E2" stroke-width="0.6"/>
<path d="M167.0,388.6 L166.9,386.8 L166.8,385.0 L166.8,383.2 L174.7,383.2 L174.7,384.8 L174.8,386.3 L174.9,387.9Z" fill="#B8DBEC" stroke="#B8DBEC" stroke-width="0.6"/>
<path d="M159.1,389.2 L159.0,387.2 L158.9,385.2 L158.8,383.2 L166.8,383.2 L166.8,385.0 L166.9,386.8 L167.0,388.6Z" fill="#F1EBCC" stroke="#F1EBCC" stroke-width="0.6"/>
<path d="M151.2,389.9 L151.1,387.7 L151.0,385.4 L150.9,383.2 L158.8,383.2 L158.9,385.2 L159.0,387.2 L159.1,389.2Z" fill="#EDECD5" stroke="#EDECD5" stroke-width="0.6"/>
<path d="M143.3,390.6 L143.2,388.1 L143.1,385.7 L143.0,383.2 L150.9,383.2 L151.0,385.4 L151.1,387.7 L151.2,389.9Z" fill="#F5E7BD" stroke="#F5E7BD" stroke-width="0.6"/>
<path d="M135.5,391.2 L135.3,388.6 L135.1,385.9 L135.1,383.2 L143.0,383.2 L143.1,385.7 L143.2,388.1 L143.3,390.6Z" fill="#E8ECDE" stroke="#E8ECDE" stroke-width="0.6"/>
<path d="M127.6,391.9 L127.4,389.0 L127.2,386.1 L127.2,383.2 L135.1,383.2 L135.1,385.9 L135.3,388.6 L135.5,391.2Z" fill="#B9DBEC" stroke="#B9DBEC" stroke-width="0.6"/>
<path d="M119.7,392.6 L119.5,389.5 L119.3,386.3 L119.3,383.2 L127.2,383.2 L127.2,386.1 L127.4,389.0 L127.6,391.9Z" fill="#9DCAE4" stroke="#9DCAE4" stroke-width="0.6"/>
<path d="M111.8,393.3 L111.6,389.9 L111.4,386.6 L111.3,383.2 L119.3,383.2 L119.3,386.3 L119.5,389.5 L119.7,392.6Z" fill="#5888C1" stroke="#5888C1" stroke-width="0.6"/>
<path d="M103.9,393.9 L103.6,390.4 L103.5,386.8 L103.4,383.2 L111.3,383.2 L111.4,386.6 L111.6,389.9 L111.8,393.3Z" fill="#4670B4" stroke="#4670B4" stroke-width="0.6"/>
<path d="M96.0,394.6 L95.7,390.8 L95.6,387.0 L95.5,383.2 L103.4,383.2 L103.5,386.8 L103.6,390.4 L103.9,393.9Z" fill="#3C58A9" stroke="#3C58A9" stroke-width="0.6"/>
<path d="M88.1,395.3 L87.8,391.3 L87.7,387.2 L87.6,383.2 L95.5,383.2 L95.6,387.0 L95.7,390.8 L96.0,394.6Z" fill="#3C57A9" stroke="#3C57A9" stroke-width="0.6"/>
<path d="M222.2,383.2 L222.2,383.0 L222.2,382.8 L222.2,382.5 L230.1,383.2Z" fill="#A7D1E7" stroke="#A7D1E7" stroke-width="0.6"/>
<path d="M214.3,383.2 L214.3,382.8 L214.3,382.3 L214.3,381.9 L222.2,382.5 L222.2,382.8 L222.2,383.0 L222.2,383.2Z" fill="#BDDEEE" stroke="#BDDEEE" stroke-width="0.6"/>
<path d="M206.3,383.2 L206.4,382.5 L206.4,381.9 L206.4,381.2 L214.3,381.9 L214.3,382.3 L214.3,382.8 L214.3,383.2Z" fill="#EBECD7" stroke="#EBECD7" stroke-width="0.6"/>
<path d="M198.4,383.2 L198.4,382.3 L198.5,381.4 L198.6,380.5 L206.4,381.2 L206.4,381.9 L206.4,382.5 L206.3,383.2Z" fill="#E4EDE5" stroke="#E4EDE5" stroke-width="0.6"/>
<path d="M190.5,383.2 L190.5,382.1 L190.6,381.0 L190.7,379.8 L198.6,380.5 L198.5,381.4 L198.4,382.3 L198.4,383.2Z" fill="#5787C1" stroke="#5787C1" stroke-width="0.6"/>
<path d="M182.6,383.2 L182.6,381.9 L182.7,380.5 L182.8,379.2 L190.7,379.8 L190.6,381.0 L190.5,382.1 L190.5,383.2Z" fill="#5A8AC2" stroke="#5A8AC2" stroke-width="0.6"/>
<path d="M174.7,383.2 L174.7,381.6 L174.8,380.1 L174.9,378.5 L182.8,379.2 L182.7,380.5 L182.6,381.9 L182.6,383.2Z" fill="#A9D3E8" stroke="#A9D3E8" stroke-width="0.6"/>
<path d="M166.8,383.2 L166.8,381.4 L166.9,379.6 L167.0,377.8 L174.9,378.5 L174.8,380.1 L174.7,381.6 L174.7,383.2Z" fill="#A1CCE5" stroke="#A1CCE5" stroke-width="0.6"/>
<path d="M158.8,383.2 L158.9,381.2 L159.0,379.2 L159.1,377.2 L167.0,377.8 L166.9,379.6 L166.8,381.4 L166.8,383.2Z" fill="#B1D7EA" stroke="#B1D7EA" stroke-width="0.6"/>
<path d="M150.9,383.2 L151.0,381.0 L151.1,378.7 L151.2,376.5 L159.1,377.2 L159.0,379.2 L158.9,381.2 L158.8,383.2Z" fill="#B2D8EA" stroke="#B2D8EA" stroke-width="0.6"/>
<path d="M143.0,383.2 L143.1,380.7 L143.2,378.3 L143.3,375.8 L151.2,376.5 L151.1,378.7 L151.0,381.0 L150.9,383.2Z" fill="#A8D2E7" stroke="#A8D2E7" stroke-width="0.6"/>
<path d="M135.1,383.2 L135.1,380.5 L135.3,377.8 L135.5,375.2 L143.3,375.8 L143.2,378.3 L143.1,380.7 L143.0,383.2Z" fill="#9FCBE4" stroke="#9FCBE4" stroke-width="0.6"/>
<path d="M127.2,383.2 L127.2,380.3 L127.4,377.4 L127.6,374.5 L135.5,375.2 L135.3,377.8 L135.1,380.5 L135.1,383.2Z" fill="#A8D2E8" stroke="#A8D2E8" stroke-width="0.6"/>
<path d="M119.3,383.2 L119.3,380.1 L119.5,376.9 L119.7,373.8 L127.6,374.5 L127.4,377.4 L127.2,380.3 L127.2,383.2Z" fill="#A3CEE6" stroke="#A3CEE6" stroke-width="0.6"/>
<path d="M111.3,383.2 L111.4,379.8 L111.6,376.5 L111.8,373.1 L119.7,373.8 L119.5,376.9 L119.3,380.1 L119.3,383.2Z" fill="#CAE5F1" stroke="#CAE5F1" stroke-width="0.6"/>
<path d="M103.4,383.2 L103.5,379.6 L103.6,376.0 L103.9,372.5 L111.8,373.1 L111.6,376.5 L111.4,379.8 L111.3,383.2Z" fill="#DAEDF5" stroke="#DAEDF5" stroke-width="0.6"/>
<path d="M95.5,383.2 L95.6,379.4 L95.7,375.6 L96.0,371.8 L103.9,372.5 L103.6,376.0 L103.5,379.6 L103.4,383.2Z" fill="#D0E7F3" stroke="#D0E7F3" stroke-width="0.6"/>
<path d="M87.6,383.2 L87.7,379.2 L87.8,375.1 L88.1,371.1 L96.0,371.8 L95.7,375.6 L95.6,379.4 L95.5,383.2Z" fill="#DAEDF6" stroke="#DAEDF6" stroke-width="0.6"/>
<path d="M222.2,382.5 L222.2,382.3 L222.3,382.1 L222.3,381.9 L230.1,383.2Z" fill="#A9D3E8" stroke="#A9D3E8" stroke-width="0.6"/>
<path d="M214.3,381.9 L214.4,381.4 L214.4,381.0 L214.5,380.5 L222.3,381.9 L222.3,382.1 L222.2,382.3 L222.2,382.5Z" fill="#AAD4E8" stroke="#AAD4E8" stroke-width="0.6"/>
<path d="M206.4,381.2 L206.5,380.5 L206.6,379.9 L206.7,379.2 L214.5,380.5 L214.4,381.0 L214.4,381.4 L214.3,381.9Z" fill="#EEECD2" stroke="#EEECD2" stroke-width="0.6"/>
<path d="M198.6,380.5 L198.6,379.6 L198.8,378.7 L198.9,377.9 L206.7,379.2 L206.6,379.9 L206.5,380.5 L206.4,381.2Z" fill="#DFEEEF" stroke="#DFEEEF" stroke-width="0.6"/>
<path d="M190.7,379.8 L190.8,378.7 L190.9,377.6 L191.1,376.5 L198.9,377.9 L198.8,378.7 L198.6,379.6 L198.6,380.5Z" fill="#699CCD" stroke="#699CCD" stroke-width="0.6"/>
<path d="M182.8,379.2 L182.9,377.8 L183.1,376.5 L183.3,375.2 L191.1,376.5 L190.9,377.6 L190.8,378.7 L190.7,379.8Z" fill="#5E8EC5" stroke="#5E8EC5" stroke-width="0.6"/>
<path d="M174.9,378.5 L175.1,376.9 L175.3,375.4 L175.5,373.8 L183.3,375.2 L183.1,376.5 L182.9,377.8 L182.8,379.2Z" fill="#A9D3E8" stroke="#A9D3E8" stroke-width="0.6"/>
<path d="M167.0,377.8 L167.2,376.1 L167.4,374.3 L167.7,372.5 L175.5,373.8 L175.3,375.4 L175.1,376.9 L174.9,378.5Z" fill="#9BC8E3" stroke="#9BC8E3" stroke-width="0.6"/>
<path d="M159.1,377.2 L159.3,375.2 L159.6,373.2 L159.9,371.2 L167.7,372.5 L167.4,374.3 L167.2,376.1 L167.0,377.8Z" fill="#A9D3E8" stroke="#A9D3E8" stroke-width="0.6"/>
<path d="M151.2,376.5 L151.5,374.3 L151.8,372.0 L152.1,369.8 L159.9,371.2 L159.6,373.2 L159.3,375.2 L159.1,377.2Z" fill="#A5D0E7" stroke="#A5D0E7" stroke-width="0.6"/>
<path d="M143.3,375.8 L143.6,373.4 L143.9,370.9 L144.3,368.5 L152.1,369.8 L151.8,372.0 L151.5,374.3 L151.2,376.5Z" fill="#B7DAEC" stroke="#B7DAEC" stroke-width="0.6"/>
<path d="M135.5,375.2 L135.7,372.5 L136.1,369.8 L136.5,367.2 L144.3,368.5 L143.9,370.9 L143.6,373.4 L143.3,375.8Z" fill="#A4CFE6" stroke="#A4CFE6" stroke-width="0.6"/>
<path d="M127.6,374.5 L127.9,371.6 L128.3,368.7 L128.7,365.8 L136.5,367.2 L136.1,369.8 L135.7,372.5 L135.5,375.2Z" fill="#DEEEF2" stroke="#DEEEF2" stroke-width="0.6"/>
<path d="M119.7,373.8 L120.0,370.7 L120.4,367.6 L121.0,364.5 L128.7,365.8 L128.3,368.7 L127.9,371.6 L127.6,374.5Z" fill="#E6EDE3" stroke="#E6EDE3" stroke-width="0.6"/>
<path d="M111.8,373.1 L112.2,369.8 L112.6,366.5 L113.2,363.2 L121.0,364.5 L120.4,367.6 L120.0,370.7 L119.7,373.8Z" fill="#F3EBC7" stroke="#F3EBC7" stroke-width="0.6"/>
<path d="M103.9,372.5 L104.3,368.9 L104.8,365.4 L105.4,361.8 L113.2,363.2 L112.6,366.5 L112.2,369.8 L111.8,373.1Z" fill="#F5E7BD" stroke="#F5E7BD" stroke-width="0.6"/>
<path d="M96.0,371.8 L96.4,368.0 L96.9,364.2 L97.6,360.5 L105.4,361.8 L104.8,365.4 L104.3,368.9 L103.9,372.5Z" fill="#EFECD0" stroke="#EFECD0" stroke-width="0.6"/>
<path d="M88.1,371.1 L88.6,367.1 L89.1,363.1 L89.8,359.1 L97.6,360.5 L96.9,364.2 L96.4,368.0 L96.0,371.8Z" fill="#F6E6B8" stroke="#F6E6B8" stroke-width="0.6"/>
<path d="M222.3,381.9 L222.3,381.6 L222.4,381.4 L222.5,381.2 L230.1,383.2Z" fill="#A9D3E8" stroke="#A9D3E8" stroke-width="0.6"/>
<path d="M214.5,380.5 L214.6,380.1 L214.7,379.7 L214.8,379.2 L222.5,381.2 L222.4,381.4 L222.3,381.6 L222.3,381.9Z" fill="#C6E2F0" stroke="#C6E2F0" stroke-width="0.6"/>
<path d="M206.7,379.2 L206.8,378.5 L207.0,377.9 L207.2,377.2 L214.8,379.2 L214.7,379.7 L214.6,380.1 L214.5,380.5Z" fill="#F2EBCA" stroke="#F2EBCA" stroke-width="0.6"/>
<path d="M198.9,377.9 L199.1,377.0 L199.3,376.1 L199.5,375.2 L207.2,377.2 L207.0,377.9 L206.8,378.5 L206.7,379.2Z" fill="#E1EDED" stroke="#E1EDED" stroke-width="0.6"/>
<path d="M191.1,376.5 L191.3,375.4 L191.6,374.3 L191.9,373.2 L199.5,375.2 L199.3,376.1 L199.1,377.0 L198.9,377.9Z" fill="#6A9DCE" stroke="#6A9DCE" stroke-width="0.6"/>
<path d="M183.3,375.2 L183.6,373.9 L183.9,372.6 L184.2,371.3 L191.9,373.2 L191.6,374.3 L191.3,375.4 L191.1,376.5Z" fill="#6193C8" stroke="#6193C8" stroke-width="0.6"/>
<path d="M175.5,373.8 L175.8,372.3 L176.2,370.8 L176.6,369.3 L184.2,371.3 L183.9,372.6 L183.6,373.9 L183.3,375.2Z" fill="#9BC8E3" stroke="#9BC8E3" stroke-width="0.6"/>
<path d="M167.7,372.5 L168.1,370.8 L168.5,369.0 L168.9,367.3 L176.6,369.3 L176.2,370.8 L175.8,372.3 L175.5,373.8Z" fill="#A4CFE6" stroke="#A4CFE6" stroke-width="0.6"/>
<path d="M159.9,371.2 L160.3,369.2 L160.8,367.2 L161.3,365.3 L168.9,367.3 L168.5,369.0 L168.1,370.8 L167.7,372.5Z" fill="#B1D7EA" stroke="#B1D7EA" stroke-width="0.6"/>
<path d="M152.1,369.8 L152.6,367.6 L153.1,365.5 L153.6,363.3 L161.3,365.3 L160.8,367.2 L160.3,369.2 L159.9,371.2Z" fill="#98C5E1" stroke="#98C5E1" stroke-width="0.6"/>
<path d="M144.3,368.5 L144.8,366.1 L145.4,363.7 L146.0,361.3 L153.6,363.3 L153.1,365.5 L152.6,367.6 L152.1,369.8Z" fill="#87B8DB" stroke="#87B8DB" stroke-width="0.6"/>
<path d="M136.5,367.2 L137.1,364.5 L137.7,361.9 L138.3,359.3 L146.0,361.3 L145.4,363.7 L144.8,366.1 L144.3,368.5Z" fill="#74A8D4" stroke="#74A8D4" stroke-width="0.6"/>
<path d="M128.7,365.8 L129.3,363.0 L130.0,360.1 L130.7,357.3 L138.3,359.3 L137.7,361.9 L137.1,364.5 L136.5,367.2Z" fill="#ACD5E9" stroke="#ACD5E9" stroke-width="0.6"/>
<path d="M121.0,364.5 L121.6,361.4 L122.3,358.4 L123.0,355.3 L130.7,357.3 L130.0,360.1 L129.3,363.0 L128.7,365.8Z" fill="#A4CFE6" stroke="#A4CFE6" stroke-width="0.6"/>
<path d="M113.2,363.2 L113.8,359.9 L114.6,356.6 L115.4,353.3 L123.0,355.3 L122.3,358.4 L121.6,361.4 L121.0,364.5Z" fill="#D6EBF4" stroke="#D6EBF4" stroke-width="0.6"/>
<path d="M105.4,361.8 L106.1,358.3 L106.8,354.8 L107.7,351.3 L115.4,353.3 L114.6,356.6 L113.8,359.9 L113.2,363.2Z" fill="#E2EDEA" stroke="#E2EDEA" stroke-width="0.6"/>
<path d="M97.6,360.5 L98.3,356.7 L99.1,353.0 L100.1,349.3 L107.7,351.3 L106.8,354.8 L106.1,358.3 L105.4,361.8Z" fill="#D3E9F4" stroke="#D3E9F4" stroke-width="0.6"/>
<path d="M89.8,359.1 L90.5,355.2 L91.4,351.3 L92.5,347.4 L100.1,349.3 L99.1,353.0 L98.3,356.7 L97.6,360.5Z" fill="#D5EAF4" stroke="#D5EAF4" stroke-width="0.6"/>
<path d="M222.5,381.2 L222.5,381.0 L222.6,380.8 L222.7,380.6 L230.1,383.2Z" fill="#A9D3E8" stroke="#A9D3E8" stroke-width="0.6"/>
<path d="M214.8,379.2 L214.9,378.8 L215.1,378.4 L215.2,377.9 L222.7,380.6 L222.6,380.8 L222.5,381.0 L222.5,381.2Z" fill="#ABD4E9" stroke="#ABD4E9" stroke-width="0.6"/>
<path d="M207.2,377.2 L207.3,376.6 L207.6,375.9 L207.8,375.3 L215.2,377.9 L215.1,378.4 L214.9,378.8 L214.8,379.2Z" fill="#C6E2F0" stroke="#C6E2F0" stroke-width="0.6"/>
<path d="M199.5,375.2 L199.8,374.4 L200.0,373.5 L200.3,372.7 L207.8,375.3 L207.6,375.9 L207.3,376.6 L207.2,377.2Z" fill="#C3E1EF" stroke="#C3E1EF" stroke-width="0.6"/>
<path d="M191.9,373.2 L192.2,372.2 L192.5,371.1 L192.9,370.0 L200.3,372.7 L200.0,373.5 L199.8,374.4 L199.5,375.2Z" fill="#79ACD6" stroke="#79ACD6" stroke-width="0.6"/>
<path d="M184.2,371.3 L184.6,370.0 L185.0,368.7 L185.5,367.4 L192.9,370.0 L192.5,371.1 L192.2,372.2 L191.9,373.2Z" fill="#92C0DF" stroke="#92C0DF" stroke-width="0.6"/>
<path d="M176.6,369.3 L177.0,367.8 L177.5,366.3 L178.0,364.8 L185.5,367.4 L185.0,368.7 L184.6,370.0 L184.2,371.3Z" fill="#DEEEF1" stroke="#DEEEF1" stroke-width="0.6"/>
<path d="M168.9,367.3 L169.4,365.5 L170.0,363.8 L170.6,362.1 L178.0,364.8 L177.5,366.3 L177.0,367.8 L176.6,369.3Z" fill="#E1EDEB" stroke="#E1EDEB" stroke-width="0.6"/>
<path d="M161.3,365.3 L161.8,363.3 L162.5,361.4 L163.1,359.5 L170.6,362.1 L170.0,363.8 L169.4,365.5 L168.9,367.3Z" fill="#D2E9F3" stroke="#D2E9F3" stroke-width="0.6"/>
<path d="M153.6,363.3 L154.3,361.1 L155.0,359.0 L155.7,356.9 L163.1,359.5 L162.5,361.4 L161.8,363.3 L161.3,365.3Z" fill="#DDEEF4" stroke="#DDEEF4" stroke-width="0.6"/>
<path d="M146.0,361.3 L146.7,358.9 L147.4,356.6 L148.3,354.3 L155.7,356.9 L155.0,359.0 L154.3,361.1 L153.6,363.3Z" fill="#A3CEE6" stroke="#A3CEE6" stroke-width="0.6"/>
<path d="M138.3,359.3 L139.1,356.7 L139.9,354.2 L140.8,351.6 L148.3,354.3 L147.4,356.6 L146.7,358.9 L146.0,361.3Z" fill="#AAD3E8" stroke="#AAD3E8" stroke-width="0.6"/>
<path d="M130.7,357.3 L131.5,354.5 L132.4,351.7 L133.4,349.0 L140.8,351.6 L139.9,354.2 L139.1,356.7 L138.3,359.3Z" fill="#ADD5E9" stroke="#ADD5E9" stroke-width="0.6"/>
<path d="M123.0,355.3 L123.9,352.3 L124.9,349.3 L126.0,346.4 L133.4,349.0 L132.4,351.7 L131.5,354.5 L130.7,357.3Z" fill="#A5CFE6" stroke="#A5CFE6" stroke-width="0.6"/>
<path d="M115.4,353.3 L116.3,350.1 L117.4,346.9 L118.5,343.7 L126.0,346.4 L124.9,349.3 L123.9,352.3 L123.0,355.3Z" fill="#B4D9EB" stroke="#B4D9EB" stroke-width="0.6"/>
<path d="M107.7,351.3 L108.8,347.9 L109.9,344.5 L111.1,341.1 L118.5,343.7 L117.4,346.9 L116.3,350.1 L115.4,353.3Z" fill="#A4CFE6" stroke="#A4CFE6" stroke-width="0.6"/>
<path d="M100.1,349.3 L101.2,345.7 L102.3,342.1 L103.6,338.5 L111.1,341.1 L109.9,344.5 L108.8,347.9 L107.7,351.3Z" fill="#7DAFD7" stroke="#7DAFD7" stroke-width="0.6"/>
<path d="M92.5,347.4 L93.6,343.5 L94.8,339.6 L96.2,335.8 L103.6,338.5 L102.3,342.1 L101.2,345.7 L100.1,349.3Z" fill="#80B2D9" stroke="#80B2D9" stroke-width="0.6"/>
<path d="M222.7,380.6 L222.7,380.4 L222.8,380.2 L222.9,379.9 L230.1,383.2Z" fill="#9CC9E3" stroke="#9CC9E3" stroke-width="0.6"/>
<path d="M215.2,377.9 L215.4,377.5 L215.6,377.1 L215.8,376.7 L222.9,379.9 L222.8,380.2 L222.7,380.4 L222.7,380.6Z" fill="#C0DFEE" stroke="#C0DFEE" stroke-width="0.6"/>
<path d="M207.8,375.3 L208.0,374.7 L208.3,374.1 L208.6,373.4 L215.8,376.7 L215.6,377.1 L215.4,377.5 L215.2,377.9Z" fill="#D8ECF5" stroke="#D8ECF5" stroke-width="0.6"/>
<path d="M200.3,372.7 L200.7,371.8 L201.0,371.0 L201.4,370.2 L208.6,373.4 L208.3,374.1 L208.0,374.7 L207.8,375.3Z" fill="#C9E4F1" stroke="#C9E4F1" stroke-width="0.6"/>
<path d="M192.9,370.0 L193.3,369.0 L193.8,368.0 L194.2,366.9 L201.4,370.2 L201.0,371.0 L200.7,371.8 L200.3,372.7Z" fill="#8DBDDE" stroke="#8DBDDE" stroke-width="0.6"/>
<path d="M185.5,367.4 L186.0,366.2 L186.5,364.9 L187.1,363.7 L194.2,366.9 L193.8,368.0 L193.3,369.0 L192.9,370.0Z" fill="#7CAFD7" stroke="#7CAFD7" stroke-width="0.6"/>
<path d="M178.0,364.8 L178.6,363.3 L179.2,361.9 L179.9,360.4 L187.1,363.7 L186.5,364.9 L186.0,366.2 L185.5,367.4Z" fill="#E3EDE8" stroke="#E3EDE8" stroke-width="0.6"/>
<path d="M170.6,362.1 L171.2,360.5 L171.9,358.8 L172.7,357.2 L179.9,360.4 L179.2,361.9 L178.6,363.3 L178.0,364.8Z" fill="#DDEEF4" stroke="#DDEEF4" stroke-width="0.6"/>
<path d="M163.1,359.5 L163.9,357.6 L164.7,355.8 L165.5,353.9 L172.7,357.2 L171.9,358.8 L171.2,360.5 L170.6,362.1Z" fill="#D8ECF5" stroke="#D8ECF5" stroke-width="0.6"/>
<path d="M155.7,356.9 L156.5,354.8 L157.4,352.7 L158.4,350.7 L165.5,353.9 L164.7,355.8 L163.9,357.6 L163.1,359.5Z" fill="#E8ECDD" stroke="#E8ECDD" stroke-width="0.6"/>
<path d="M148.3,354.3 L149.2,352.0 L150.1,349.7 L151.2,347.4 L158.4,350.7 L157.4,352.7 L156.5,354.8 L155.7,356.9Z" fill="#FDC77F" stroke="#FDC77F" stroke-width="0.6"/>
<path d="M140.8,351.6 L141.8,349.1 L142.9,346.6 L144.0,344.2 L151.2,347.4 L150.1,349.7 L149.2,352.0 L148.3,354.3Z" fill="#FDC179" stroke="#FDC179" stroke-width="0.6"/>
<path d="M133.4,349.0 L134.5,346.3 L135.6,343.6 L136.8,340.9 L144.0,344.2 L142.9,346.6 L141.8,349.1 L140.8,351.6Z" fill="#FDBB73" stroke="#FDBB73" stroke-width="0.6"/>
<path d="M126.0,346.4 L127.1,343.4 L128.3,340.5 L129.7,337.7 L136.8,340.9 L135.6,343.6 L134.5,346.3 L133.4,349.0Z" fill="#FDC67E" stroke="#FDC67E" stroke-width="0.6"/>
<path d="M118.5,343.7 L119.7,340.6 L121.1,337.5 L122.5,334.4 L129.7,337.7 L128.3,340.5 L127.1,343.4 L126.0,346.4Z" fill="#FDCF87" stroke="#FDCF87" stroke-width="0.6"/>
<path d="M111.1,341.1 L112.4,337.7 L113.8,334.4 L115.3,331.2 L122.5,334.4 L121.1,337.5 L119.7,340.6 L118.5,343.7Z" fill="#FADD9F" stroke="#FADD9F" stroke-width="0.6"/>
<path d="M103.6,338.5 L105.0,334.9 L106.5,331.4 L108.1,327.9 L115.3,331.2 L113.8,334.4 L112.4,337.7 L111.1,341.1Z" fill="#F5E7BC" stroke="#F5E7BC" stroke-width="0.6"/>
<path d="M96.2,335.8 L97.7,332.1 L99.3,328.3 L101.0,324.7 L108.1,327.9 L106.5,331.4 L105.0,334.9 L103.6,338.5Z" fill="#F6E5B8" stroke="#F6E5B8" stroke-width="0.6"/>
<path d="M222.9,379.9 L223.0,379.7 L223.1,379.5 L223.2,379.4 L230.1,383.2Z" fill="#ACD4E9" stroke="#ACD4E9" stroke-width="0.6"/>
<path d="M215.8,376.7 L216.0,376.3 L216.2,375.9 L216.4,375.5 L223.2,379.4 L223.1,379.5 L223.0,379.7 L222.9,379.9Z" fill="#B6DAEB" stroke="#B6DAEB" stroke-width="0.6"/>
<path d="M208.6,373.4 L208.9,372.8 L209.2,372.2 L209.5,371.7 L216.4,375.5 L216.2,375.9 L216.0,376.3 L215.8,376.7Z" fill="#CFE7F2" stroke="#CFE7F2" stroke-width="0.6"/>
<path d="M201.4,370.2 L201.8,369.4 L202.2,368.6 L202.7,367.8 L209.5,371.7 L209.2,372.2 L208.9,372.8 L208.6,373.4Z" fill="#BDDEEE" stroke="#BDDEEE" stroke-width="0.6"/>
<path d="M194.2,366.9 L194.7,365.9 L195.3,364.9 L195.8,364.0 L202.7,367.8 L202.2,368.6 L201.8,369.4 L201.4,370.2Z" fill="#75A9D4" stroke="#75A9D4" stroke-width="0.6"/>
<path d="M187.1,363.7 L187.7,362.5 L188.3,361.3 L189.0,360.1 L195.8,364.0 L195.3,364.9 L194.7,365.9 L194.2,366.9Z" fill="#79ACD6" stroke="#79ACD6" stroke-width="0.6"/>
<path d="M179.9,360.4 L180.6,359.0 L181.3,357.6 L182.1,356.3 L189.0,360.1 L188.3,361.3 L187.7,362.5 L187.1,363.7Z" fill="#DEEEF3" stroke="#DEEEF3" stroke-width="0.6"/>
<path d="M172.7,357.2 L173.5,355.6 L174.4,354.0 L175.3,352.4 L182.1,356.3 L181.3,357.6 L180.6,359.0 L179.9,360.4Z" fill="#CDE6F2" stroke="#CDE6F2" stroke-width="0.6"/>
<path d="M165.5,353.9 L166.4,352.1 L167.4,350.3 L168.4,348.6 L175.3,352.4 L174.4,354.0 L173.5,355.6 L172.7,357.2Z" fill="#82B3D9" stroke="#82B3D9" stroke-width="0.6"/>
<path d="M158.4,350.7 L159.4,348.7 L160.4,346.7 L161.5,344.7 L168.4,348.6 L167.4,350.3 L166.4,352.1 L165.5,353.9Z" fill="#9BC8E3" stroke="#9BC8E3" stroke-width="0.6"/>
<path d="M151.2,347.4 L152.3,345.2 L153.4,343.0 L154.7,340.9 L161.5,344.7 L160.4,346.7 L159.4,348.7 L158.4,350.7Z" fill="#F6E6B8" stroke="#F6E6B8" stroke-width="0.6"/>
<path d="M144.0,344.2 L145.2,341.8 L146.5,339.4 L147.8,337.0 L154.7,340.9 L153.4,343.0 L152.3,345.2 L151.2,347.4Z" fill="#FDD992" stroke="#FDD992" stroke-width="0.6"/>
<path d="M136.8,340.9 L138.1,338.3 L139.5,335.7 L141.0,333.2 L147.8,337.0 L146.5,339.4 L145.2,341.8 L144.0,344.2Z" fill="#FDBC74" stroke="#FDBC74" stroke-width="0.6"/>
<path d="M129.7,337.7 L131.1,334.9 L132.5,332.1 L134.1,329.3 L141.0,333.2 L139.5,335.7 L138.1,338.3 L136.8,340.9Z" fill="#FDC77F" stroke="#FDC77F" stroke-width="0.6"/>
<path d="M122.5,334.4 L124.0,331.4 L125.6,328.4 L127.3,325.5 L134.1,329.3 L132.5,332.1 L131.1,334.9 L129.7,337.7Z" fill="#FBDB9A" stroke="#FBDB9A" stroke-width="0.6"/>
<path d="M115.3,331.2 L116.9,327.9 L118.6,324.8 L120.4,321.6 L127.3,325.5 L125.6,328.4 L124.0,331.4 L122.5,334.4Z" fill="#FBDC9C" stroke="#FBDC9C" stroke-width="0.6"/>
<path d="M108.1,327.9 L109.8,324.5 L111.6,321.1 L113.5,317.8 L120.4,321.6 L118.6,324.8 L116.9,327.9 L115.3,331.2Z" fill="#F0EBCD" stroke="#F0EBCD" stroke-width="0.6"/>
<path d="M101.0,324.7 L102.8,321.0 L104.7,317.5 L106.7,313.9 L113.5,317.8 L111.6,321.1 L109.8,324.5 L108.1,327.9Z" fill="#F1EBCC" stroke="#F1EBCC" stroke-width="0.6"/>
<path d="M223.2,379.4 L223.4,379.2 L223.5,379.0 L223.6,378.8 L230.1,383.2Z" fill="#6DA0CF" stroke="#6DA0CF" stroke-width="0.6"/>
<path d="M216.4,375.5 L216.6,375.1 L216.9,374.7 L217.1,374.4 L223.6,378.8 L223.5,379.0 L223.4,379.2 L223.2,379.4Z" fill="#87B7DB" stroke="#87B7DB" stroke-width="0.6"/>
<path d="M209.5,371.7 L209.9,371.1 L210.3,370.5 L210.6,370.0 L217.1,374.4 L216.9,374.7 L216.6,375.1 L216.4,375.5Z" fill="#CFE7F3" stroke="#CFE7F3" stroke-width="0.6"/>
<path d="M202.7,367.8 L203.1,367.0 L203.6,366.3 L204.2,365.5 L210.6,370.0 L210.3,370.5 L209.9,371.1 L209.5,371.7Z" fill="#DFEEF0" stroke="#DFEEF0" stroke-width="0.6"/>
<path d="M195.8,364.0 L196.4,363.0 L197.0,362.1 L197.7,361.1 L204.2,365.5 L203.6,366.3 L203.1,367.0 L202.7,367.8Z" fill="#FBDC9D" stroke="#FBDC9D" stroke-width="0.6"/>
<path d="M189.0,360.1 L189.7,359.0 L190.4,357.8 L191.2,356.7 L197.7,361.1 L197.0,362.1 L196.4,363.0 L195.8,364.0Z" fill="#FADEA2" stroke="#FADEA2" stroke-width="0.6"/>
<path d="M182.1,356.3 L182.9,354.9 L183.8,353.6 L184.7,352.3 L191.2,356.7 L190.4,357.8 L189.7,359.0 L189.0,360.1Z" fill="#D1E8F3" stroke="#D1E8F3" stroke-width="0.6"/>
<path d="M175.3,352.4 L176.2,350.9 L177.2,349.4 L178.2,347.9 L184.7,352.3 L183.8,353.6 L182.9,354.9 L182.1,356.3Z" fill="#DFEEF0" stroke="#DFEEF0" stroke-width="0.6"/>
<path d="M168.4,348.6 L169.5,346.8 L170.6,345.1 L171.7,343.5 L178.2,347.9 L177.2,349.4 L176.2,350.9 L175.3,352.4Z" fill="#A7D2E7" stroke="#A7D2E7" stroke-width="0.6"/>
<path d="M161.5,344.7 L162.7,342.8 L164.0,340.9 L165.3,339.1 L171.7,343.5 L170.6,345.1 L169.5,346.8 L168.4,348.6Z" fill="#A4CFE6" stroke="#A4CFE6" stroke-width="0.6"/>
<path d="M154.7,340.9 L156.0,338.8 L157.3,336.7 L158.8,334.7 L165.3,339.1 L164.0,340.9 L162.7,342.8 L161.5,344.7Z" fill="#C9E4F1" stroke="#C9E4F1" stroke-width="0.6"/>
<path d="M147.8,337.0 L149.2,334.7 L150.7,332.5 L152.3,330.2 L158.8,334.7 L157.3,336.7 L156.0,338.8 L154.7,340.9Z" fill="#E1EDEC" stroke="#E1EDEC" stroke-width="0.6"/>
<path d="M141.0,333.2 L142.5,330.7 L144.1,328.2 L145.8,325.8 L152.3,330.2 L150.7,332.5 L149.2,334.7 L147.8,337.0Z" fill="#F4E9C3" stroke="#F4E9C3" stroke-width="0.6"/>
<path d="M134.1,329.3 L135.8,326.6 L137.5,324.0 L139.3,321.4 L145.8,325.8 L144.1,328.2 L142.5,330.7 L141.0,333.2Z" fill="#F3EAC6" stroke="#F3EAC6" stroke-width="0.6"/>
<path d="M127.3,325.5 L129.0,322.6 L130.9,319.8 L132.8,317.0 L139.3,321.4 L137.5,324.0 L135.8,326.6 L134.1,329.3Z" fill="#DEEEF3" stroke="#DEEEF3" stroke-width="0.6"/>
<path d="M120.4,321.6 L122.3,318.6 L124.3,315.5 L126.3,312.6 L132.8,317.0 L130.9,319.8 L129.0,322.6 L127.3,325.5Z" fill="#D5EAF4" stroke="#D5EAF4" stroke-width="0.6"/>
<path d="M113.5,317.8 L115.6,314.5 L117.7,311.3 L119.9,308.2 L126.3,312.6 L124.3,315.5 L122.3,318.6 L120.4,321.6Z" fill="#CDE6F2" stroke="#CDE6F2" stroke-width="0.6"/>
<path d="M106.7,313.9 L108.8,310.5 L111.0,307.1 L113.4,303.8 L119.9,308.2 L117.7,311.3 L115.6,314.5 L113.5,317.8Z" fill="#DEEEF2" stroke="#DEEEF2" stroke-width="0.6"/>
<path d="M223.6,378.8 L223.7,378.6 L223.9,378.4 L224.0,378.3 L230.1,383.2Z" fill="#76AAD5" stroke="#76AAD5" stroke-width="0.6"/>
<path d="M217.1,374.4 L217.4,374.0 L217.7,373.7 L218.0,373.3 L224.0,378.3 L223.9,378.4 L223.7,378.6 L223.6,378.8Z" fill="#7FB1D8" stroke="#7FB1D8" stroke-width="0.6"/>
<path d="M210.6,370.0 L211.0,369.4 L211.5,368.9 L211.9,368.4 L218.0,373.3 L217.7,373.7 L217.4,374.0 L217.1,374.4Z" fill="#D1E8F3" stroke="#D1E8F3" stroke-width="0.6"/>
<path d="M204.2,365.5 L204.7,364.8 L205.3,364.1 L205.8,363.4 L211.9,368.4 L211.5,368.9 L211.0,369.4 L210.6,370.0Z" fill="#E2EDEA" stroke="#E2EDEA" stroke-width="0.6"/>
<path d="M197.7,361.1 L198.3,360.2 L199.1,359.3 L199.8,358.5 L205.8,363.4 L205.3,364.1 L204.7,364.8 L204.2,365.5Z" fill="#FDD992" stroke="#FDD992" stroke-width="0.6"/>
<path d="M191.2,356.7 L192.0,355.6 L192.8,354.6 L193.7,353.5 L199.8,358.5 L199.1,359.3 L198.3,360.2 L197.7,361.1Z" fill="#FADEA1" stroke="#FADEA1" stroke-width="0.6"/>
<path d="M184.7,352.3 L185.6,351.0 L186.6,349.8 L187.6,348.6 L193.7,353.5 L192.8,354.6 L192.0,355.6 L191.2,356.7Z" fill="#A1CDE5" stroke="#A1CDE5" stroke-width="0.6"/>
<path d="M178.2,347.9 L179.3,346.4 L180.4,345.0 L181.6,343.6 L187.6,348.6 L186.6,349.8 L185.6,351.0 L184.7,352.3Z" fill="#B5DAEB" stroke="#B5DAEB" stroke-width="0.6"/>
<path d="M171.7,343.5 L172.9,341.8 L174.2,340.2 L175.5,338.7 L181.6,343.6 L180.4,345.0 L179.3,346.4 L178.2,347.9Z" fill="#9AC7E3" stroke="#9AC7E3" stroke-width="0.6"/>
<path d="M165.3,339.1 L166.6,337.3 L168.0,335.5 L169.5,333.7 L175.5,338.7 L174.2,340.2 L172.9,341.8 L171.7,343.5Z" fill="#AAD4E8" stroke="#AAD4E8" stroke-width="0.6"/>
<path d="M158.8,334.7 L160.2,332.7 L161.8,330.7 L163.4,328.8 L169.5,333.7 L168.0,335.5 L166.6,337.3 L165.3,339.1Z" fill="#A6D1E7" stroke="#A6D1E7" stroke-width="0.6"/>
<path d="M152.3,330.2 L153.9,328.1 L155.6,325.9 L157.3,323.8 L163.4,328.8 L161.8,330.7 L160.2,332.7 L158.8,334.7Z" fill="#A1CCE5" stroke="#A1CCE5" stroke-width="0.6"/>
<path d="M145.8,325.8 L147.5,323.5 L149.4,321.2 L151.3,318.9 L157.3,323.8 L155.6,325.9 L153.9,328.1 L152.3,330.2Z" fill="#9BC8E3" stroke="#9BC8E3" stroke-width="0.6"/>
<path d="M139.3,321.4 L141.2,318.9 L143.2,316.4 L145.2,314.0 L151.3,318.9 L149.4,321.2 L147.5,323.5 L145.8,325.8Z" fill="#ABD4E9" stroke="#ABD4E9" stroke-width="0.6"/>
<path d="M132.8,317.0 L134.8,314.3 L137.0,311.6 L139.1,309.0 L145.2,314.0 L143.2,316.4 L141.2,318.9 L139.3,321.4Z" fill="#6DA0CF" stroke="#6DA0CF" stroke-width="0.6"/>
<path d="M126.3,312.6 L128.5,309.7 L130.7,306.8 L133.1,304.1 L139.1,309.0 L137.0,311.6 L134.8,314.3 L132.8,317.0Z" fill="#76A9D5" stroke="#76A9D5" stroke-width="0.6"/>
<path d="M119.9,308.2 L122.1,305.1 L124.5,302.1 L127.0,299.1 L133.1,304.1 L130.7,306.8 L128.5,309.7 L126.3,312.6Z" fill="#82B3D9" stroke="#82B3D9" stroke-width="0.6"/>
<path d="M113.4,303.8 L115.8,300.5 L118.3,297.3 L120.9,294.2 L127.0,299.1 L124.5,302.1 L122.1,305.1 L119.9,308.2Z" fill="#6B9ECE" stroke="#6B9ECE" stroke-width="0.6"/>
<path d="M224.0,378.3 L224.2,378.1 L224.3,377.9 L224.5,377.8 L230.1,383.2Z" fill="#6C9FCF" stroke="#6C9FCF" stroke-width="0.6"/>
<path d="M218.0,373.3 L218.3,373.0 L218.6,372.6 L218.9,372.3 L224.5,377.8 L224.3,377.9 L224.2,378.1 L224.0,378.3Z" fill="#87B8DB" stroke="#87B8DB" stroke-width="0.6"/>
<path d="M211.9,368.4 L212.4,367.9 L212.8,367.4 L213.3,366.9 L218.9,372.3 L218.6,372.6 L218.3,373.0 L218.0,373.3Z" fill="#CDE6F2" stroke="#CDE6F2" stroke-width="0.6"/>
<path d="M205.8,363.4 L206.4,362.7 L207.1,362.1 L207.7,361.4 L213.3,366.9 L212.8,367.4 L212.4,367.9 L211.9,368.4Z" fill="#E5EDE4" stroke="#E5EDE4" stroke-width="0.6"/>
<path d="M199.8,358.5 L200.5,357.6 L201.3,356.8 L202.1,356.0 L207.7,361.4 L207.1,362.1 L206.4,362.7 L205.8,363.4Z" fill="#FCDA96" stroke="#FCDA96" stroke-width="0.6"/>
<path d="M193.7,353.5 L194.6,352.5 L195.5,351.5 L196.5,350.6 L202.1,356.0 L201.3,356.8 L200.5,357.6 L199.8,358.5Z" fill="#F7E4B4" stroke="#F7E4B4" stroke-width="0.6"/>
<path d="M187.6,348.6 L188.7,347.4 L189.8,346.2 L190.9,345.1 L196.5,350.6 L195.5,351.5 L194.6,352.5 L193.7,353.5Z" fill="#A3CEE6" stroke="#A3CEE6" stroke-width="0.6"/>
<path d="M181.6,343.6 L182.8,342.3 L184.0,341.0 L185.3,339.7 L190.9,345.1 L189.8,346.2 L188.7,347.4 L187.6,348.6Z" fill="#9CC8E3" stroke="#9CC8E3" stroke-width="0.6"/>
<path d="M175.5,338.7 L176.9,337.2 L178.3,335.7 L179.7,334.2 L185.3,339.7 L184.0,341.0 L182.8,342.3 L181.6,343.6Z" fill="#6EA1D0" stroke="#6EA1D0" stroke-width="0.6"/>
<path d="M169.5,333.7 L171.0,332.0 L172.5,330.4 L174.1,328.8 L179.7,334.2 L178.3,335.7 L176.9,337.2 L175.5,338.7Z" fill="#87B7DB" stroke="#87B7DB" stroke-width="0.6"/>
<path d="M163.4,328.8 L165.0,326.9 L166.8,325.1 L168.5,323.4 L174.1,328.8 L172.5,330.4 L171.0,332.0 L169.5,333.7Z" fill="#ABD4E9" stroke="#ABD4E9" stroke-width="0.6"/>
<path d="M157.3,323.8 L159.1,321.8 L161.0,319.8 L162.9,317.9 L168.5,323.4 L166.8,325.1 L165.0,326.9 L163.4,328.8Z" fill="#A9D3E8" stroke="#A9D3E8" stroke-width="0.6"/>
<path d="M151.3,318.9 L153.2,316.7 L155.2,314.6 L157.3,312.5 L162.9,317.9 L161.0,319.8 L159.1,321.8 L157.3,323.8Z" fill="#6DA0CF" stroke="#6DA0CF" stroke-width="0.6"/>
<path d="M145.2,314.0 L147.3,311.6 L149.5,309.3 L151.7,307.0 L157.3,312.5 L155.2,314.6 L153.2,316.7 L151.3,318.9Z" fill="#7FB1D8" stroke="#7FB1D8" stroke-width="0.6"/>
<path d="M139.1,309.0 L141.4,306.5 L143.7,304.0 L146.1,301.6 L151.7,307.0 L149.5,309.3 L147.3,311.6 L145.2,314.0Z" fill="#7CAED7" stroke="#7CAED7" stroke-width="0.6"/>
<path d="M133.1,304.1 L135.5,301.4 L138.0,298.7 L140.5,296.1 L146.1,301.6 L143.7,304.0 L141.4,306.5 L139.1,309.0Z" fill="#7AACD6" stroke="#7AACD6" stroke-width="0.6"/>
<path d="M127.0,299.1 L129.6,296.2 L132.2,293.4 L134.9,290.7 L140.5,296.1 L138.0,298.7 L135.5,301.4 L133.1,304.1Z" fill="#AAD4E8" stroke="#AAD4E8" stroke-width="0.6"/>
<path d="M120.9,294.2 L123.6,291.1 L126.4,288.2 L129.3,285.3 L134.9,290.7 L132.2,293.4 L129.6,296.2 L127.0,299.1Z" fill="#A7D2E7" stroke="#A7D2E7" stroke-width="0.6"/>
<path d="M224.5,377.8 L224.7,377.6 L224.8,377.5 L225.0,377.3 L230.1,383.2Z" fill="#6DA0CF" stroke="#6DA0CF" stroke-width="0.6"/>
<path d="M218.9,372.3 L219.2,372.0 L219.6,371.7 L219.9,371.4 L225.0,377.3 L224.8,377.5 L224.7,377.6 L224.5,377.8Z" fill="#70A4D2" stroke="#70A4D2" stroke-width="0.6"/>
<path d="M213.3,366.9 L213.8,366.4 L214.3,366.0 L214.8,365.5 L219.9,371.4 L219.6,371.7 L219.2,372.0 L218.9,372.3Z" fill="#99C6E2" stroke="#99C6E2" stroke-width="0.6"/>
<path d="M207.7,361.4 L208.4,360.8 L209.0,360.2 L209.7,359.6 L214.8,365.5 L214.3,366.0 L213.8,366.4 L213.3,366.9Z" fill="#B2D8EA" stroke="#B2D8EA" stroke-width="0.6"/>
<path d="M202.1,356.0 L202.9,355.2 L203.8,354.5 L204.7,353.7 L209.7,359.6 L209.0,360.2 L208.4,360.8 L207.7,361.4Z" fill="#F8E2AF" stroke="#F8E2AF" stroke-width="0.6"/>
<path d="M196.5,350.6 L197.5,349.6 L198.5,348.7 L199.6,347.8 L204.7,353.7 L203.8,354.5 L202.9,355.2 L202.1,356.0Z" fill="#FBDB98" stroke="#FBDB98" stroke-width="0.6"/>
<path d="M190.9,345.1 L192.1,344.0 L193.3,343.0 L194.5,341.9 L199.6,347.8 L198.5,348.7 L197.5,349.6 L196.5,350.6Z" fill="#DFEEF1" stroke="#DFEEF1" stroke-width="0.6"/>
<path d="M185.3,339.7 L186.6,338.4 L188.0,337.2 L189.4,336.0 L194.5,341.9 L193.3,343.0 L192.1,344.0 L190.9,345.1Z" fill="#DEEEF2" stroke="#DEEEF2" stroke-width="0.6"/>
<path d="M179.7,334.2 L181.2,332.8 L182.7,331.5 L184.3,330.2 L189.4,336.0 L188.0,337.2 L186.6,338.4 L185.3,339.7Z" fill="#B6DAEC" stroke="#B6DAEC" stroke-width="0.6"/>
<path d="M174.1,328.8 L175.8,327.2 L177.5,325.7 L179.2,324.3 L184.3,330.2 L182.7,331.5 L181.2,332.8 L179.7,334.2Z" fill="#94C2E0" stroke="#94C2E0" stroke-width="0.6"/>
<path d="M168.5,323.4 L170.3,321.6 L172.2,320.0 L174.1,318.4 L179.2,324.3 L177.5,325.7 L175.8,327.2 L174.1,328.8Z" fill="#5686C0" stroke="#5686C0" stroke-width="0.6"/>
<path d="M162.9,317.9 L164.9,316.0 L166.9,314.2 L169.0,312.5 L174.1,318.4 L172.2,320.0 L170.3,321.6 L168.5,323.4Z" fill="#5382BE" stroke="#5382BE" stroke-width="0.6"/>
<path d="M157.3,312.5 L159.5,310.4 L161.7,308.5 L163.9,306.6 L169.0,312.5 L166.9,314.2 L164.9,316.0 L162.9,317.9Z" fill="#A5D0E6" stroke="#A5D0E6" stroke-width="0.6"/>
<path d="M151.7,307.0 L154.0,304.8 L156.4,302.7 L158.9,300.7 L163.9,306.6 L161.7,308.5 L159.5,310.4 L157.3,312.5Z" fill="#AAD3E8" stroke="#AAD3E8" stroke-width="0.6"/>
<path d="M146.1,301.6 L148.6,299.2 L151.2,297.0 L153.8,294.8 L158.9,300.7 L156.4,302.7 L154.0,304.8 L151.7,307.0Z" fill="#A2CDE5" stroke="#A2CDE5" stroke-width="0.6"/>
<path d="M140.5,296.1 L143.2,293.7 L145.9,291.2 L148.7,288.9 L153.8,294.8 L151.2,297.0 L148.6,299.2 L146.1,301.6Z" fill="#ADD5E9" stroke="#ADD5E9" stroke-width="0.6"/>
<path d="M134.9,290.7 L137.7,288.1 L140.6,285.5 L143.6,283.0 L148.7,288.9 L145.9,291.2 L143.2,293.7 L140.5,296.1Z" fill="#B7DBEC" stroke="#B7DBEC" stroke-width="0.6"/>
<path d="M129.3,285.3 L132.3,282.5 L135.4,279.7 L138.5,277.1 L143.6,283.0 L140.6,285.5 L137.7,288.1 L134.9,290.7Z" fill="#A0CCE5" stroke="#A0CCE5" stroke-width="0.6"/>
<path d="M225.0,377.3 L225.2,377.2 L225.4,377.0 L225.6,376.9 L230.1,383.2Z" fill="#80B2D9" stroke="#80B2D9" stroke-width="0.6"/>
<path d="M219.9,371.4 L220.3,371.1 L220.6,370.9 L221.0,370.6 L225.6,376.9 L225.4,377.0 L225.2,377.2 L225.0,377.3Z" fill="#6EA1D0" stroke="#6EA1D0" stroke-width="0.6"/>
<path d="M214.8,365.5 L215.4,365.1 L215.9,364.7 L216.5,364.3 L221.0,370.6 L220.6,370.9 L220.3,371.1 L219.9,371.4Z" fill="#99C6E2" stroke="#99C6E2" stroke-width="0.6"/>
<path d="M209.7,359.6 L210.5,359.1 L211.2,358.5 L211.9,358.0 L216.5,364.3 L215.9,364.7 L215.4,365.1 L214.8,365.5Z" fill="#B8DBEC" stroke="#B8DBEC" stroke-width="0.6"/>
<path d="M204.7,353.7 L205.5,353.0 L206.5,352.3 L207.4,351.7 L211.9,358.0 L211.2,358.5 L210.5,359.1 L209.7,359.6Z" fill="#FADEA1" stroke="#FADEA1" stroke-width="0.6"/>
<path d="M199.6,347.8 L200.6,347.0 L201.7,346.2 L202.9,345.4 L207.4,351.7 L206.5,352.3 L205.5,353.0 L204.7,353.7Z" fill="#FDD58D" stroke="#FDD58D" stroke-width="0.6"/>
<path d="M194.5,341.9 L195.7,341.0 L197.0,340.0 L198.3,339.1 L202.9,345.4 L201.7,346.2 L200.6,347.0 L199.6,347.8Z" fill="#F4E8C0" stroke="#F4E8C0" stroke-width="0.6"/>
<path d="M189.4,336.0 L190.8,334.9 L192.3,333.8 L193.8,332.8 L198.3,339.1 L197.0,340.0 L195.7,341.0 L194.5,341.9Z" fill="#E5EDE4" stroke="#E5EDE4" stroke-width="0.6"/>
<path d="M184.3,330.2 L185.9,328.9 L187.6,327.7 L189.2,326.5 L193.8,332.8 L192.3,333.8 L190.8,334.9 L189.4,336.0Z" fill="#699BCC" stroke="#699BCC" stroke-width="0.6"/>
<path d="M179.2,324.3 L181.0,322.8 L182.8,321.5 L184.7,320.2 L189.2,326.5 L187.6,327.7 L185.9,328.9 L184.3,330.2Z" fill="#4874B6" stroke="#4874B6" stroke-width="0.6"/>
<path d="M174.1,318.4 L176.1,316.8 L178.1,315.3 L180.2,313.9 L184.7,320.2 L182.8,321.5 L181.0,322.8 L179.2,324.3Z" fill="#4873B5" stroke="#4873B5" stroke-width="0.6"/>
<path d="M169.0,312.5 L171.2,310.8 L173.4,309.1 L175.6,307.6 L180.2,313.9 L178.1,315.3 L176.1,316.8 L174.1,318.4Z" fill="#699CCD" stroke="#699CCD" stroke-width="0.6"/>
<path d="M163.9,306.6 L166.3,304.7 L168.6,303.0 L171.1,301.3 L175.6,307.6 L173.4,309.1 L171.2,310.8 L169.0,312.5Z" fill="#E9ECDB" stroke="#E9ECDB" stroke-width="0.6"/>
<path d="M158.9,300.7 L161.4,298.7 L163.9,296.8 L166.5,295.0 L171.1,301.3 L168.6,303.0 L166.3,304.7 L163.9,306.6Z" fill="#F5E6BB" stroke="#F5E6BB" stroke-width="0.6"/>
<path d="M153.8,294.8 L156.4,292.7 L159.2,290.6 L162.0,288.7 L166.5,295.0 L163.9,296.8 L161.4,298.7 L158.9,300.7Z" fill="#FDD891" stroke="#FDD891" stroke-width="0.6"/>
<path d="M148.7,288.9 L151.5,286.6 L154.5,284.4 L157.4,282.4 L162.0,288.7 L159.2,290.6 L156.4,292.7 L153.8,294.8Z" fill="#FDD38B" stroke="#FDD38B" stroke-width="0.6"/>
<path d="M143.6,283.0 L146.6,280.6 L149.7,278.3 L152.9,276.1 L157.4,282.4 L154.5,284.4 L151.5,286.6 L148.7,288.9Z" fill="#F4E9C2" stroke="#F4E9C2" stroke-width="0.6"/>
<path d="M138.5,277.1 L141.7,274.6 L145.0,272.1 L148.4,269.7 L152.9,276.1 L149.7,278.3 L146.6,280.6 L143.6,283.0Z" fill="#F5E7BD" stroke="#F5E7BD" stroke-width="0.6"/>
<path d="M225.6,376.9 L225.7,376.8 L225.9,376.7 L226.1,376.5 L230.1,383.2Z" fill="#7AADD6" stroke="#7AADD6" stroke-width="0.6"/>
<path d="M221.0,370.6 L221.4,370.3 L221.8,370.1 L222.2,369.9 L226.1,376.5 L225.9,376.7 L225.7,376.8 L225.6,376.9Z" fill="#87B8DB" stroke="#87B8DB" stroke-width="0.6"/>
<path d="M216.5,364.3 L217.0,363.9 L217.6,363.6 L218.2,363.2 L222.2,369.9 L221.8,370.1 L221.4,370.3 L221.0,370.6Z" fill="#9FCBE4" stroke="#9FCBE4" stroke-width="0.6"/>
<path d="M211.9,358.0 L212.7,357.5 L213.5,357.0 L214.3,356.5 L218.2,363.2 L217.6,363.6 L217.0,363.9 L216.5,364.3Z" fill="#C7E3F0" stroke="#C7E3F0" stroke-width="0.6"/>
<path d="M207.4,351.7 L208.3,351.1 L209.3,350.5 L210.3,349.9 L214.3,356.5 L213.5,357.0 L212.7,357.5 L211.9,358.0Z" fill="#F9E0A7" stroke="#F9E0A7" stroke-width="0.6"/>
<path d="M202.9,345.4 L204.0,344.6 L205.2,343.9 L206.3,343.2 L210.3,349.9 L209.3,350.5 L208.3,351.1 L207.4,351.7Z" fill="#F7E3B0" stroke="#F7E3B0" stroke-width="0.6"/>
<path d="M198.3,339.1 L199.6,338.2 L201.0,337.4 L202.4,336.6 L206.3,343.2 L205.2,343.9 L204.0,344.6 L202.9,345.4Z" fill="#A0CCE5" stroke="#A0CCE5" stroke-width="0.6"/>
<path d="M193.8,332.8 L195.3,331.8 L196.9,330.8 L198.4,329.9 L202.4,336.6 L201.0,337.4 L199.6,338.2 L198.3,339.1Z" fill="#A0CBE4" stroke="#A0CBE4" stroke-width="0.6"/>
<path d="M189.2,326.5 L190.9,325.3 L192.7,324.3 L194.5,323.2 L198.4,329.9 L196.9,330.8 L195.3,331.8 L193.8,332.8Z" fill="#4A78B8" stroke="#4A78B8" stroke-width="0.6"/>
<path d="M184.7,320.2 L186.6,318.9 L188.5,317.7 L190.5,316.6 L194.5,323.2 L192.7,324.3 L190.9,325.3 L189.2,326.5Z" fill="#6496C9" stroke="#6496C9" stroke-width="0.6"/>
<path d="M180.2,313.9 L182.2,312.5 L184.4,311.2 L186.6,309.9 L190.5,316.6 L188.5,317.7 L186.6,318.9 L184.7,320.2Z" fill="#BEDEEE" stroke="#BEDEEE" stroke-width="0.6"/>
<path d="M175.6,307.6 L177.9,306.1 L180.2,304.6 L182.6,303.2 L186.6,309.9 L184.4,311.2 L182.2,312.5 L180.2,313.9Z" fill="#DEEEF2" stroke="#DEEEF2" stroke-width="0.6"/>
<path d="M171.1,301.3 L173.5,299.6 L176.1,298.1 L178.6,296.6 L182.6,303.2 L180.2,304.6 L177.9,306.1 L175.6,307.6Z" fill="#FDCD85" stroke="#FDCD85" stroke-width="0.6"/>
<path d="M166.5,295.0 L169.2,293.2 L171.9,291.5 L174.7,289.9 L178.6,296.6 L176.1,298.1 L173.5,299.6 L171.1,301.3Z" fill="#FDBB73" stroke="#FDBB73" stroke-width="0.6"/>
<path d="M162.0,288.7 L164.8,286.8 L167.8,285.0 L170.7,283.2 L174.7,289.9 L171.9,291.5 L169.2,293.2 L166.5,295.0Z" fill="#FDBE76" stroke="#FDBE76" stroke-width="0.6"/>
<path d="M157.4,282.4 L160.5,280.3 L163.6,278.4 L166.8,276.6 L170.7,283.2 L167.8,285.0 L164.8,286.8 L162.0,288.7Z" fill="#FDC57D" stroke="#FDC57D" stroke-width="0.6"/>
<path d="M152.9,276.1 L156.1,273.9 L159.4,271.9 L162.8,269.9 L166.8,276.6 L163.6,278.4 L160.5,280.3 L157.4,282.4Z" fill="#FBDB99" stroke="#FBDB99" stroke-width="0.6"/>
<path d="M148.4,269.7 L151.8,267.5 L155.3,265.3 L158.8,263.3 L162.8,269.9 L159.4,271.9 L156.1,273.9 L152.9,276.1Z" fill="#FADD9F" stroke="#FADD9F" stroke-width="0.6"/>
<path d="M226.1,376.5 L226.3,376.4 L226.5,376.3 L226.8,376.2 L230.1,383.2Z" fill="#AFD6EA" stroke="#AFD6EA" stroke-width="0.6"/>
<path d="M222.2,369.9 L222.6,369.7 L223.0,369.4 L223.4,369.3 L226.8,376.2 L226.5,376.3 L226.3,376.4 L226.1,376.5Z" fill="#B5D9EB" stroke="#B5D9EB" stroke-width="0.6"/>
<path d="M218.2,363.2 L218.8,362.9 L219.4,362.6 L220.1,362.3 L223.4,369.3 L223.0,369.4 L222.6,369.7 L222.2,369.9Z" fill="#DAEDF6" stroke="#DAEDF6" stroke-width="0.6"/>
<path d="M214.3,356.5 L215.1,356.1 L215.9,355.7 L216.7,355.3 L220.1,362.3 L219.4,362.6 L218.8,362.9 L218.2,363.2Z" fill="#E3EDE9" stroke="#E3EDE9" stroke-width="0.6"/>
<path d="M210.3,349.9 L211.3,349.3 L212.3,348.8 L213.4,348.3 L216.7,355.3 L215.9,355.7 L215.1,356.1 L214.3,356.5Z" fill="#EAECDB" stroke="#EAECDB" stroke-width="0.6"/>
<path d="M206.3,343.2 L207.6,342.6 L208.8,341.9 L210.0,341.4 L213.4,348.3 L212.3,348.8 L211.3,349.3 L210.3,349.9Z" fill="#F1EBCC" stroke="#F1EBCC" stroke-width="0.6"/>
<path d="M202.4,336.6 L203.8,335.8 L205.2,335.1 L206.7,334.4 L210.0,341.4 L208.8,341.9 L207.6,342.6 L206.3,343.2Z" fill="#D8ECF5" stroke="#D8ECF5" stroke-width="0.6"/>
<path d="M198.4,329.9 L200.0,329.0 L201.7,328.2 L203.3,327.4 L206.7,334.4 L205.2,335.1 L203.8,335.8 L202.4,336.6Z" fill="#D9ECF5" stroke="#D9ECF5" stroke-width="0.6"/>
<path d="M194.5,323.2 L196.3,322.2 L198.1,321.3 L200.0,320.4 L203.3,327.4 L201.7,328.2 L200.0,329.0 L198.4,329.9Z" fill="#8BBBDD" stroke="#8BBBDD" stroke-width="0.6"/>
<path d="M190.5,316.6 L192.5,315.5 L194.6,314.4 L196.6,313.5 L200.0,320.4 L198.1,321.3 L196.3,322.2 L194.5,323.2Z" fill="#8EBDDE" stroke="#8EBDDE" stroke-width="0.6"/>
<path d="M186.6,309.9 L188.8,308.7 L191.0,307.6 L193.3,306.5 L196.6,313.5 L194.6,314.4 L192.5,315.5 L190.5,316.6Z" fill="#C2E0EF" stroke="#C2E0EF" stroke-width="0.6"/>
<path d="M182.6,303.2 L185.0,301.9 L187.5,300.7 L190.0,299.5 L193.3,306.5 L191.0,307.6 L188.8,308.7 L186.6,309.9Z" fill="#E7EDE0" stroke="#E7EDE0" stroke-width="0.6"/>
<path d="M178.6,296.6 L181.3,295.2 L183.9,293.8 L186.6,292.5 L190.0,299.5 L187.5,300.7 L185.0,301.9 L182.6,303.2Z" fill="#FDD890" stroke="#FDD890" stroke-width="0.6"/>
<path d="M174.7,289.9 L177.5,288.4 L180.4,286.9 L183.3,285.6 L186.6,292.5 L183.9,293.8 L181.3,295.2 L178.6,296.6Z" fill="#FDCD85" stroke="#FDCD85" stroke-width="0.6"/>
<path d="M170.7,283.2 L173.7,281.6 L176.8,280.1 L179.9,278.6 L183.3,285.6 L180.4,286.9 L177.5,288.4 L174.7,289.9Z" fill="#FDC57D" stroke="#FDC57D" stroke-width="0.6"/>
<path d="M166.8,276.6 L170.0,274.8 L173.3,273.2 L176.6,271.6 L179.9,278.6 L176.8,280.1 L173.7,281.6 L170.7,283.2Z" fill="#FDC47C" stroke="#FDC47C" stroke-width="0.6"/>
<path d="M162.8,269.9 L166.2,268.1 L169.7,266.3 L173.2,264.6 L176.6,271.6 L173.3,273.2 L170.0,274.8 L166.8,276.6Z" fill="#FCDA96" stroke="#FCDA96" stroke-width="0.6"/>
<path d="M158.8,263.3 L162.5,261.3 L166.1,259.4 L169.9,257.7 L173.2,264.6 L169.7,266.3 L166.2,268.1 L162.8,269.9Z" fill="#FADDA0" stroke="#FADDA0" stroke-width="0.6"/>
<path d="M226.8,376.2 L227.0,376.1 L227.2,376.0 L227.4,376.0 L230.1,383.2Z" fill="#B4D9EB" stroke="#B4D9EB" stroke-width="0.6"/>
<path d="M223.4,369.3 L223.8,369.1 L224.3,368.9 L224.7,368.7 L227.4,376.0 L227.2,376.0 L227.0,376.1 L226.8,376.2Z" fill="#BADCED" stroke="#BADCED" stroke-width="0.6"/>
<path d="M220.1,362.3 L220.7,362.0 L221.3,361.7 L222.0,361.5 L224.7,368.7 L224.3,368.9 L223.8,369.1 L223.4,369.3Z" fill="#D8ECF5" stroke="#D8ECF5" stroke-width="0.6"/>
<path d="M216.7,355.3 L217.6,354.9 L218.4,354.6 L219.3,354.3 L222.0,361.5 L221.3,361.7 L220.7,362.0 L220.1,362.3Z" fill="#E4EDE6" stroke="#E4EDE6" stroke-width="0.6"/>
<path d="M213.4,348.3 L214.4,347.9 L215.5,347.4 L216.6,347.0 L219.3,354.3 L218.4,354.6 L217.6,354.9 L216.7,355.3Z" fill="#F1EBCB" stroke="#F1EBCB" stroke-width="0.6"/>
<path d="M210.0,341.4 L211.3,340.8 L212.6,340.3 L213.9,339.8 L216.6,347.0 L215.5,347.4 L214.4,347.9 L213.4,348.3Z" fill="#EDECD5" stroke="#EDECD5" stroke-width="0.6"/>
<path d="M206.7,334.4 L208.2,333.7 L209.6,333.1 L211.1,332.6 L213.9,339.8 L212.6,340.3 L211.3,340.8 L210.0,341.4Z" fill="#D0E8F3" stroke="#D0E8F3" stroke-width="0.6"/>
<path d="M203.3,327.4 L205.0,326.7 L206.7,326.0 L208.4,325.4 L211.1,332.6 L209.6,333.1 L208.2,333.7 L206.7,334.4Z" fill="#D0E7F3" stroke="#D0E7F3" stroke-width="0.6"/>
<path d="M200.0,320.4 L201.9,319.6 L203.8,318.8 L205.7,318.1 L208.4,325.4 L206.7,326.0 L205.0,326.7 L203.3,327.4Z" fill="#E0EEEF" stroke="#E0EEEF" stroke-width="0.6"/>
<path d="M196.6,313.5 L198.7,312.5 L200.9,311.7 L203.0,310.9 L205.7,318.1 L203.8,318.8 L201.9,319.6 L200.0,320.4Z" fill="#D3E9F4" stroke="#D3E9F4" stroke-width="0.6"/>
<path d="M193.3,306.5 L195.6,305.5 L197.9,304.5 L200.3,303.7 L203.0,310.9 L200.9,311.7 L198.7,312.5 L196.6,313.5Z" fill="#D6EBF4" stroke="#D6EBF4" stroke-width="0.6"/>
<path d="M190.0,299.5 L192.5,298.4 L195.0,297.4 L197.6,296.4 L200.3,303.7 L197.9,304.5 L195.6,305.5 L193.3,306.5Z" fill="#DAEDF5" stroke="#DAEDF5" stroke-width="0.6"/>
<path d="M186.6,292.5 L189.3,291.4 L192.1,290.2 L194.9,289.2 L197.6,296.4 L195.0,297.4 L192.5,298.4 L190.0,299.5Z" fill="#CDE6F2" stroke="#CDE6F2" stroke-width="0.6"/>
<path d="M183.3,285.6 L186.2,284.3 L189.2,283.1 L192.2,282.0 L194.9,289.2 L192.1,290.2 L189.3,291.4 L186.6,292.5Z" fill="#DBEDF6" stroke="#DBEDF6" stroke-width="0.6"/>
<path d="M179.9,278.6 L183.1,277.2 L186.3,275.9 L189.5,274.7 L192.2,282.0 L189.2,283.1 L186.2,284.3 L183.3,285.6Z" fill="#EDECD4" stroke="#EDECD4" stroke-width="0.6"/>
<path d="M176.6,271.6 L179.9,270.2 L183.3,268.8 L186.8,267.5 L189.5,274.7 L186.3,275.9 L183.1,277.2 L179.9,278.6Z" fill="#F4E9C1" stroke="#F4E9C1" stroke-width="0.6"/>
<path d="M173.2,264.6 L176.8,263.1 L180.4,261.6 L184.1,260.3 L186.8,267.5 L183.3,268.8 L179.9,270.2 L176.6,271.6Z" fill="#F1EBCC" stroke="#F1EBCC" stroke-width="0.6"/>
<path d="M169.9,257.7 L173.7,256.0 L177.5,254.5 L181.4,253.1 L184.1,260.3 L180.4,261.6 L176.8,263.1 L173.2,264.6Z" fill="#F1EBCD" stroke="#F1EBCD" stroke-width="0.6"/>
<path d="M227.4,376.0 L227.6,375.9 L227.8,375.8 L228.1,375.8 L230.1,383.2Z" fill="#B7DBEC" stroke="#B7DBEC" stroke-width="0.6"/>
<path d="M224.7,368.7 L225.1,368.6 L225.6,368.5 L226.0,368.3 L228.1,375.8 L227.8,375.8 L227.6,375.9 L227.4,376.0Z" fill="#B1D7EA" stroke="#B1D7EA" stroke-width="0.6"/>
<path d="M222.0,361.5 L222.6,361.3 L223.3,361.1 L224.0,360.9 L226.0,368.3 L225.6,368.5 L225.1,368.6 L224.7,368.7Z" fill="#DDEEF3" stroke="#DDEEF3" stroke-width="0.6"/>
<path d="M219.3,354.3 L220.1,354.0 L221.0,353.7 L221.9,353.5 L224.0,360.9 L223.3,361.1 L222.6,361.3 L222.0,361.5Z" fill="#E1EDEC" stroke="#E1EDEC" stroke-width="0.6"/>
<path d="M216.6,347.0 L217.6,346.7 L218.7,346.3 L219.9,346.0 L221.9,353.5 L221.0,353.7 L220.1,354.0 L219.3,354.3Z" fill="#E9ECDC" stroke="#E9ECDC" stroke-width="0.6"/>
<path d="M213.9,339.8 L215.2,339.4 L216.5,339.0 L217.8,338.6 L219.9,346.0 L218.7,346.3 L217.6,346.7 L216.6,347.0Z" fill="#EBECD8" stroke="#EBECD8" stroke-width="0.6"/>
<path d="M211.1,332.6 L212.7,332.1 L214.2,331.6 L215.8,331.2 L217.8,338.6 L216.5,339.0 L215.2,339.4 L213.9,339.8Z" fill="#A7D1E7" stroke="#A7D1E7" stroke-width="0.6"/>
<path d="M208.4,325.4 L210.2,324.8 L211.9,324.2 L213.7,323.7 L215.8,331.2 L214.2,331.6 L212.7,332.1 L211.1,332.6Z" fill="#B8DBEC" stroke="#B8DBEC" stroke-width="0.6"/>
<path d="M205.7,318.1 L207.7,317.5 L209.7,316.9 L211.7,316.3 L213.7,323.7 L211.9,324.2 L210.2,324.8 L208.4,325.4Z" fill="#D1E8F3" stroke="#D1E8F3" stroke-width="0.6"/>
<path d="M203.0,310.9 L205.2,310.2 L207.4,309.5 L209.6,308.9 L211.7,316.3 L209.7,316.9 L207.7,317.5 L205.7,318.1Z" fill="#D6EBF4" stroke="#D6EBF4" stroke-width="0.6"/>
<path d="M200.3,303.7 L202.7,302.9 L205.1,302.1 L207.6,301.4 L209.6,308.9 L207.4,309.5 L205.2,310.2 L203.0,310.9Z" fill="#82B4D9" stroke="#82B4D9" stroke-width="0.6"/>
<path d="M197.6,296.4 L200.2,295.6 L202.9,294.7 L205.5,294.0 L207.6,301.4 L205.1,302.1 L202.7,302.9 L200.3,303.7Z" fill="#689ACC" stroke="#689ACC" stroke-width="0.6"/>
<path d="M194.9,289.2 L197.7,288.2 L200.6,287.4 L203.5,286.6 L205.5,294.0 L202.9,294.7 L200.2,295.6 L197.6,296.4Z" fill="#5888C2" stroke="#5888C2" stroke-width="0.6"/>
<path d="M192.2,282.0 L195.2,280.9 L198.3,280.0 L201.4,279.1 L203.5,286.6 L200.6,287.4 L197.7,288.2 L194.9,289.2Z" fill="#466FB4" stroke="#466FB4" stroke-width="0.6"/>
<path d="M189.5,274.7 L192.7,273.6 L196.0,272.6 L199.4,271.7 L201.4,279.1 L198.3,280.0 L195.2,280.9 L192.2,282.0Z" fill="#5281BD" stroke="#5281BD" stroke-width="0.6"/>
<path d="M186.8,267.5 L190.3,266.3 L193.8,265.3 L197.3,264.3 L199.4,271.7 L196.0,272.6 L192.7,273.6 L189.5,274.7Z" fill="#4771B5" stroke="#4771B5" stroke-width="0.6"/>
<path d="M184.1,260.3 L187.8,259.0 L191.5,257.9 L195.3,256.9 L197.3,264.3 L193.8,265.3 L190.3,266.3 L186.8,267.5Z" fill="#466EB3" stroke="#466EB3" stroke-width="0.6"/>
<path d="M181.4,253.1 L185.3,251.7 L189.2,250.5 L193.2,249.4 L195.3,256.9 L191.5,257.9 L187.8,259.0 L184.1,260.3Z" fill="#4772B5" stroke="#4772B5" stroke-width="0.6"/>
<path d="M228.1,375.8 L228.3,375.7 L228.5,375.7 L228.7,375.6 L230.1,383.2Z" fill="#B1D7EA" stroke="#B1D7EA" stroke-width="0.6"/>
<path d="M226.0,368.3 L226.4,368.2 L226.9,368.1 L227.4,368.0 L228.7,375.6 L228.5,375.7 L228.3,375.7 L228.1,375.8Z" fill="#C7E3F0" stroke="#C7E3F0" stroke-width="0.6"/>
<path d="M224.0,360.9 L224.6,360.7 L225.3,360.6 L226.0,360.5 L227.4,368.0 L226.9,368.1 L226.4,368.2 L226.0,368.3Z" fill="#E5EDE3" stroke="#E5EDE3" stroke-width="0.6"/>
<path d="M221.9,353.5 L222.8,353.3 L223.7,353.1 L224.6,352.9 L226.0,360.5 L225.3,360.6 L224.6,360.7 L224.0,360.9Z" fill="#ECECD6" stroke="#ECECD6" stroke-width="0.6"/>
<path d="M219.9,346.0 L221.0,345.8 L222.1,345.5 L223.2,345.3 L224.6,352.9 L223.7,353.1 L222.8,353.3 L221.9,353.5Z" fill="#B8DBEC" stroke="#B8DBEC" stroke-width="0.6"/>
<path d="M217.8,338.6 L219.1,338.3 L220.5,338.0 L221.9,337.7 L223.2,345.3 L222.1,345.5 L221.0,345.8 L219.9,346.0Z" fill="#BADCED" stroke="#BADCED" stroke-width="0.6"/>
<path d="M215.8,331.2 L217.3,330.8 L218.9,330.5 L220.5,330.2 L221.9,337.7 L220.5,338.0 L219.1,338.3 L217.8,338.6Z" fill="#D2E9F3" stroke="#D2E9F3" stroke-width="0.6"/>
<path d="M213.7,323.7 L215.5,323.3 L217.3,322.9 L219.1,322.6 L220.5,330.2 L218.9,330.5 L217.3,330.8 L215.8,331.2Z" fill="#D5EBF4" stroke="#D5EBF4" stroke-width="0.6"/>
<path d="M211.7,316.3 L213.7,315.8 L215.7,315.4 L217.7,315.0 L219.1,322.6 L217.3,322.9 L215.5,323.3 L213.7,323.7Z" fill="#ABD4E8" stroke="#ABD4E8" stroke-width="0.6"/>
<path d="M209.6,308.9 L211.8,308.3 L214.1,307.8 L216.4,307.4 L217.7,315.0 L215.7,315.4 L213.7,315.8 L211.7,316.3Z" fill="#ADD5E9" stroke="#ADD5E9" stroke-width="0.6"/>
<path d="M207.6,301.4 L210.0,300.8 L212.5,300.3 L215.0,299.8 L216.4,307.4 L214.1,307.8 L211.8,308.3 L209.6,308.9Z" fill="#73A7D3" stroke="#73A7D3" stroke-width="0.6"/>
<path d="M205.5,294.0 L208.2,293.4 L210.9,292.8 L213.6,292.3 L215.0,299.8 L212.5,300.3 L210.0,300.8 L207.6,301.4Z" fill="#7BAED7" stroke="#7BAED7" stroke-width="0.6"/>
<path d="M203.5,286.6 L206.4,285.9 L209.3,285.2 L212.2,284.7 L213.6,292.3 L210.9,292.8 L208.2,293.4 L205.5,294.0Z" fill="#4A78B8" stroke="#4A78B8" stroke-width="0.6"/>
<path d="M201.4,279.1 L204.5,278.4 L207.7,277.7 L210.9,277.1 L212.2,284.7 L209.3,285.2 L206.4,285.9 L203.5,286.6Z" fill="#4772B5" stroke="#4772B5" stroke-width="0.6"/>
<path d="M199.4,271.7 L202.7,270.9 L206.1,270.2 L209.5,269.5 L210.9,277.1 L207.7,277.7 L204.5,278.4 L201.4,279.1Z" fill="#4F7EBB" stroke="#4F7EBB" stroke-width="0.6"/>
<path d="M197.3,264.3 L200.9,263.4 L204.5,262.6 L208.1,262.0 L209.5,269.5 L206.1,270.2 L202.7,270.9 L199.4,271.7Z" fill="#4A78B8" stroke="#4A78B8" stroke-width="0.6"/>
<path d="M195.3,256.9 L199.1,255.9 L202.9,255.1 L206.7,254.4 L208.1,262.0 L204.5,262.6 L200.9,263.4 L197.3,264.3Z" fill="#4670B4" stroke="#4670B4" stroke-width="0.6"/>
<path d="M193.2,249.4 L197.2,248.4 L201.3,247.6 L205.4,246.8 L206.7,254.4 L202.9,255.1 L199.1,255.9 L195.3,256.9Z" fill="#4D7CBA" stroke="#4D7CBA" stroke-width="0.6"/>
<path d="M228.7,375.6 L229.0,375.6 L229.2,375.6 L229.4,375.5 L230.1,383.2Z" fill="#9CC8E3" stroke="#9CC8E3" stroke-width="0.6"/>
<path d="M227.4,368.0 L227.8,368.0 L228.3,367.9 L228.7,367.9 L229.4,375.5 L229.2,375.6 L229.0,375.6 L228.7,375.6Z" fill="#C1E0EF" stroke="#C1E0EF" stroke-width="0.6"/>
<path d="M226.0,360.5 L226.7,360.4 L227.3,360.3 L228.0,360.2 L228.7,367.9 L228.3,367.9 L227.8,368.0 L227.4,368.0Z" fill="#EFECD0" stroke="#EFECD0" stroke-width="0.6"/>
<path d="M224.6,352.9 L225.5,352.7 L226.4,352.6 L227.3,352.5 L228.0,360.2 L227.3,360.3 L226.7,360.4 L226.0,360.5Z" fill="#F0EBCE" stroke="#F0EBCE" stroke-width="0.6"/>
<path d="M223.2,345.3 L224.4,345.1 L225.5,345.0 L226.7,344.9 L227.3,352.5 L226.4,352.6 L225.5,352.7 L224.6,352.9Z" fill="#BCDDED" stroke="#BCDDED" stroke-width="0.6"/>
<path d="M221.9,337.7 L223.2,337.5 L224.6,337.3 L226.0,337.2 L226.7,344.9 L225.5,345.0 L224.4,345.1 L223.2,345.3Z" fill="#ACD5E9" stroke="#ACD5E9" stroke-width="0.6"/>
<path d="M220.5,330.2 L222.1,329.9 L223.7,329.7 L225.3,329.5 L226.0,337.2 L224.6,337.3 L223.2,337.5 L221.9,337.7Z" fill="#D9ECF5" stroke="#D9ECF5" stroke-width="0.6"/>
<path d="M219.1,322.6 L220.9,322.3 L222.7,322.1 L224.6,321.9 L225.3,329.5 L223.7,329.7 L222.1,329.9 L220.5,330.2Z" fill="#D2E9F3" stroke="#D2E9F3" stroke-width="0.6"/>
<path d="M217.7,315.0 L219.8,314.7 L221.8,314.4 L223.9,314.2 L224.6,321.9 L222.7,322.1 L220.9,322.3 L219.1,322.6Z" fill="#BBDDED" stroke="#BBDDED" stroke-width="0.6"/>
<path d="M216.4,307.4 L218.6,307.1 L220.9,306.8 L223.2,306.5 L223.9,314.2 L221.8,314.4 L219.8,314.7 L217.7,315.0Z" fill="#A2CEE6" stroke="#A2CEE6" stroke-width="0.6"/>
<path d="M215.0,299.8 L217.5,299.5 L220.0,299.1 L222.5,298.9 L223.2,306.5 L220.9,306.8 L218.6,307.1 L216.4,307.4Z" fill="#DEEEF1" stroke="#DEEEF1" stroke-width="0.6"/>
<path d="M213.6,292.3 L216.3,291.8 L219.1,291.5 L221.8,291.2 L222.5,298.9 L220.0,299.1 L217.5,299.5 L215.0,299.8Z" fill="#C1E0EF" stroke="#C1E0EF" stroke-width="0.6"/>
<path d="M212.2,284.7 L215.2,284.2 L218.2,283.8 L221.1,283.6 L221.8,291.2 L219.1,291.5 L216.3,291.8 L213.6,292.3Z" fill="#78ABD5" stroke="#78ABD5" stroke-width="0.6"/>
<path d="M210.9,277.1 L214.0,276.6 L217.2,276.2 L220.4,275.9 L221.1,283.6 L218.2,283.8 L215.2,284.2 L212.2,284.7Z" fill="#6EA1D0" stroke="#6EA1D0" stroke-width="0.6"/>
<path d="M209.5,269.5 L212.9,269.0 L216.3,268.6 L219.8,268.2 L220.4,275.9 L217.2,276.2 L214.0,276.6 L210.9,277.1Z" fill="#81B2D9" stroke="#81B2D9" stroke-width="0.6"/>
<path d="M208.1,262.0 L211.7,261.4 L215.4,260.9 L219.1,260.6 L219.8,268.2 L216.3,268.6 L212.9,269.0 L209.5,269.5Z" fill="#74A8D4" stroke="#74A8D4" stroke-width="0.6"/>
<path d="M206.7,254.4 L210.6,253.8 L214.5,253.3 L218.4,252.9 L219.1,260.6 L215.4,260.9 L211.7,261.4 L208.1,262.0Z" fill="#71A5D2" stroke="#71A5D2" stroke-width="0.6"/>
<path d="M205.4,246.8 L209.4,246.2 L213.6,245.6 L217.7,245.2 L218.4,252.9 L214.5,253.3 L210.6,253.8 L206.7,254.4Z" fill="#80B2D9" stroke="#80B2D9" stroke-width="0.6"/>
<path d="M229.4,375.5 L229.6,375.5 L229.9,375.5 L230.1,375.5 L230.1,383.2Z" fill="#A1CCE5" stroke="#A1CCE5" stroke-width="0.6"/>
<path d="M228.7,367.9 L229.2,367.8 L229.6,367.8 L230.1,367.8 L230.1,375.5 L229.9,375.5 L229.6,375.5 L229.4,375.5Z" fill="#B7DAEC" stroke="#B7DAEC" stroke-width="0.6"/>
<path d="M228.0,360.2 L228.7,360.2 L229.4,360.1 L230.1,360.1 L230.1,367.8 L229.6,367.8 L229.2,367.8 L228.7,367.9Z" fill="#EDECD5" stroke="#EDECD5" stroke-width="0.6"/>
<path d="M227.3,352.5 L228.3,352.5 L229.2,352.4 L230.1,352.4 L230.1,360.1 L229.4,360.1 L228.7,360.2 L228.0,360.2Z" fill="#F0EBCF" stroke="#F0EBCF" stroke-width="0.6"/>
<path d="M226.7,344.9 L227.8,344.8 L228.9,344.7 L230.1,344.7 L230.1,352.4 L229.2,352.4 L228.3,352.5 L227.3,352.5Z" fill="#C0DFEE" stroke="#C0DFEE" stroke-width="0.6"/>
<path d="M226.0,337.2 L227.3,337.1 L228.7,337.1 L230.1,337.0 L230.1,344.7 L228.9,344.7 L227.8,344.8 L226.7,344.9Z" fill="#BDDDED" stroke="#BDDDED" stroke-width="0.6"/>
<path d="M225.3,329.5 L226.9,329.4 L228.5,329.4 L230.1,329.3 L230.1,337.0 L228.7,337.1 L227.3,337.1 L226.0,337.2Z" fill="#F1EBCC" stroke="#F1EBCC" stroke-width="0.6"/>
<path d="M224.6,321.9 L226.4,321.7 L228.3,321.7 L230.1,321.6 L230.1,329.3 L228.5,329.4 L226.9,329.4 L225.3,329.5Z" fill="#F3EBC7" stroke="#F3EBC7" stroke-width="0.6"/>
<path d="M223.9,314.2 L226.0,314.1 L228.0,314.0 L230.1,313.9 L230.1,321.6 L228.3,321.7 L226.4,321.7 L224.6,321.9Z" fill="#FADEA3" stroke="#FADEA3" stroke-width="0.6"/>
<path d="M223.2,306.5 L225.5,306.4 L227.8,306.3 L230.1,306.3 L230.1,313.9 L228.0,314.0 L226.0,314.1 L223.9,314.2Z" fill="#FDCE86" stroke="#FDCE86" stroke-width="0.6"/>
<path d="M222.5,298.9 L225.0,298.7 L227.6,298.6 L230.1,298.6 L230.1,306.3 L227.8,306.3 L225.5,306.4 L223.2,306.5Z" fill="#FDBC74" stroke="#FDBC74" stroke-width="0.6"/>
<path d="M221.8,291.2 L224.6,291.0 L227.3,290.9 L230.1,290.9 L230.1,298.6 L227.6,298.6 L225.0,298.7 L222.5,298.9Z" fill="#FDBE76" stroke="#FDBE76" stroke-width="0.6"/>
<path d="M221.1,283.6 L224.1,283.3 L227.1,283.2 L230.1,283.2 L230.1,290.9 L227.3,290.9 L224.6,291.0 L221.8,291.2Z" fill="#F4EAC5" stroke="#F4EAC5" stroke-width="0.6"/>
<path d="M220.4,275.9 L223.7,275.7 L226.9,275.5 L230.1,275.5 L230.1,283.2 L227.1,283.2 L224.1,283.3 L221.1,283.6Z" fill="#EFEBCF" stroke="#EFEBCF" stroke-width="0.6"/>
<path d="M219.8,268.2 L223.2,268.0 L226.6,267.8 L230.1,267.8 L230.1,275.5 L226.9,275.5 L223.7,275.7 L220.4,275.9Z" fill="#E3EDE9" stroke="#E3EDE9" stroke-width="0.6"/>
<path d="M219.1,260.6 L222.7,260.3 L226.4,260.1 L230.1,260.1 L230.1,267.8 L226.6,267.8 L223.2,268.0 L219.8,268.2Z" fill="#D8ECF5" stroke="#D8ECF5" stroke-width="0.6"/>
<path d="M218.4,252.9 L222.3,252.6 L226.2,252.4 L230.1,252.4 L230.1,260.1 L226.4,260.1 L222.7,260.3 L219.1,260.6Z" fill="#A4CFE6" stroke="#A4CFE6" stroke-width="0.6"/>
<path d="M217.7,245.2 L221.8,244.9 L226.0,244.8 L230.1,244.7 L230.1,252.4 L226.2,252.4 L222.3,252.6 L218.4,252.9Z" fill="#A8D2E8" stroke="#A8D2E8" stroke-width="0.6"/>
<g stroke="#FFFFBF" stroke-width="1" fill="none" opacity="0.85">
<ellipse cx="230.1" cy="383.2" rx="47.5" ry="46.2"/>
<ellipse cx="230.1" cy="383.2" rx="95.0" ry="92.3"/>
<ellipse cx="230.1" cy="383.2" rx="142.5" ry="138.5"/>
<line x1="230.1" y1="244.7" x2="230.1" y2="521.7"/>
<line x1="330.9" y1="285.3" x2="129.3" y2="481.1"/>
<line x1="372.6" y1="383.2" x2="87.6" y2="383.2"/>
<line x1="330.9" y1="481.1" x2="129.3" y2="285.3"/>
</g>
<line x1="230.1" y1="383.2" x2="300.4" y2="504.1" stroke="#FFA500" stroke-width="1"/>
<g font-size="12" fill="#00FF00" text-anchor="middle" font-family="DejaVu Serif, Liberation Serif, serif">
<text x="223.3" y="243.2">E34</text>
<text x="204.2" y="253.6">J195</text>
<text x="216.7" y="254.4">C47</text>
<text x="206.7" y="262.7">C20</text>
<text x="195.8" y="271.1">R17</text>
<text x="184.6" y="278.6">C40</text>
<text x="198.3" y="280.7">G09</text>
<text x="209.6" y="284.0">E59</text>
<text x="264.0" y="254.4">G09</text>
<text x="271.0" y="252.9">R20</text>
<text x="136.7" y="277.3">C38</text>
<text x="144.2" y="274.4">C10</text>
<text x="161.7" y="284.8">C07</text>
<text x="172.0" y="287.9">C32</text>
<text x="180.0" y="288.4">E26</text>
<text x="117.0" y="301.4">G20</text>
<text x="124.0" y="301.4">G06</text>
<text x="145.8" y="309.8">E15</text>
<text x="111.7" y="321.1">C13</text>
<text x="153.3" y="321.1">G03</text>
<text x="182.5" y="320.2">J199</text>
<text x="151.3" y="331.9">C19</text>
<text x="115.8" y="343.2">J202</text>
<text x="98.0" y="351.9">C06</text>
<text x="108.0" y="351.9">R04</text>
<text x="92.9" y="371.1">G05</text>
<text x="117.9" y="384.8">E13</text>
<text x="161.7" y="364.8">R07</text>
<text x="174.2" y="385.7">G22</text>
<text x="220.8" y="349.4">E02</text>
<text x="252.1" y="358.6">E08</text>
<text x="254.6" y="391.1">G30</text>
<text x="207.5" y="404.4">G14</text>
<text x="155.4" y="398.6">E07</text>
<text x="165.0" y="407.7">E18</text>
<text x="202.1" y="419.0">C39</text>
<text x="240.0" y="412.4">E36</text>
<text x="246.0" y="416.4">C46</text>
<text x="217.9" y="436.1">R09</text>
<text x="134.6" y="417.3">R10</text>
<text x="155.4" y="416.1">C56</text>
<text x="136.7" y="426.5">C22</text>
<text x="167.9" y="424.4">G10</text>
<text x="181.7" y="426.5">C16</text>
<text x="175.0" y="425.4">E06</text>
<text x="153.3" y="434.0">C09</text>
<text x="160.8" y="442.3">R26</text>
<text x="162.5" y="453.6">R08</text>
<text x="145.8" y="467.3">G15</text>
<text x="259.6" y="475.7">E16</text>
<text x="313.8" y="467.1">G08</text>
<text x="307.5" y="491.1">C49</text>
<text x="315.8" y="429.8">R16</text>
<text x="311.7" y="434.0">R18</text>
<text x="315.8" y="441.1">C28</text>
<text x="338.8" y="391.9">C37</text>
<text x="352.5" y="358.6">G01</text>
<text x="301.3" y="358.6">G02</text>
<text x="319.2" y="357.7">E25</text>
<text x="302.1" y="366.1">C27</text>
<text x="297.0" y="341.9">E03</text>
<text x="313.8" y="341.1">R19</text>
<text x="254.6" y="287.7">C30</text>
<text x="272.1" y="298.2">J193</text>
<text x="245.0" y="303.6">C01</text>
<text x="247.1" y="306.9">C02</text>
<text x="227.0" y="315.4">G17</text>
<text x="203.3" y="301.5">J196</text>
<text x="209.0" y="307.4">C08</text>
<text x="216.0" y="307.4">E01</text>
</g>
<path d="M219.8,251.8h7M223.3,248.3v7M200.7,262.2h7M204.2,258.7v7M213.2,263.0h7M216.7,259.5v7M203.2,271.3h7M206.7,267.8v7M192.3,279.7h7M195.8,276.2v7M181.1,287.2h7M184.6,283.7v7M194.8,289.3h7M198.3,285.8v7M206.1,292.6h7M209.6,289.1v7M260.5,263.0h7M264.0,259.5v7M267.5,261.5h7M271.0,258.0v7M133.2,285.9h7M136.7,282.4v7M140.7,283.0h7M144.2,279.5v7M158.2,293.4h7M161.7,289.9v7M168.5,296.5h7M172.0,293.0v7M176.5,297.0h7M180.0,293.5v7M113.5,310.0h7M117.0,306.5v7M120.5,310.0h7M124.0,306.5v7M142.3,318.4h7M145.8,314.9v7M108.2,329.7h7M111.7,326.2v7M149.8,329.7h7M153.3,326.2v7M179.0,328.8h7M182.5,325.3v7M147.8,340.5h7M151.3,337.0v7M112.3,351.8h7M115.8,348.3v7M94.5,360.5h7M98.0,357.0v7M104.5,360.5h7M108.0,357.0v7M89.4,379.7h7M92.9,376.2v7M114.4,393.4h7M117.9,389.9v7M158.2,373.4h7M161.7,369.9v7M170.7,394.3h7M174.2,390.8v7M217.3,358.0h7M220.8,354.5v7M248.6,367.2h7M252.1,363.7v7M251.1,399.7h7M254.6,396.2v7M204.0,413.0h7M207.5,409.5v7M151.9,407.2h7M155.4,403.7v7M161.5,416.3h7M165.0,412.8v7M198.6,427.6h7M202.1,424.1v7M236.5,421.0h7M240.0,417.5v7M242.5,425.0h7M246.0,421.5v7M214.4,444.7h7M217.9,441.2v7M131.1,425.9h7M134.6,422.4v7M151.9,424.7h7M155.4,421.2v7M133.2,435.1h7M136.7,431.6v7M164.4,433.0h7M167.9,429.5v7M178.2,435.1h7M181.7,431.6v7M171.5,434.0h7M175.0,430.5v7M149.8,442.6h7M153.3,439.1v7M157.3,450.9h7M160.8,447.4v7M159.0,462.2h7M162.5,458.7v7M142.3,475.9h7M145.8,472.4v7M256.1,484.3h7M259.6,480.8v7M310.3,475.7h7M313.8,472.2v7M304.0,499.7h7M307.5,496.2v7M312.3,438.4h7M315.8,434.9v7M308.2,442.6h7M311.7,439.1v7M312.3,449.7h7M315.8,446.2v7M335.3,400.5h7M338.8,397.0v7M349.0,367.2h7M352.5,363.7v7M297.8,367.2h7M301.3,363.7v7M315.7,366.3h7M319.2,362.8v7M298.6,374.7h7M302.1,371.2v7M293.5,350.5h7M297.0,347.0v7M310.3,349.7h7M313.8,346.2v7M251.1,296.3h7M254.6,292.8v7M268.6,306.8h7M272.1,303.3v7M241.5,312.2h7M245.0,308.7v7M243.6,315.5h7M247.1,312.0v7M223.5,324.0h7M227.0,320.5v7M199.8,310.1h7M203.3,306.6v7M205.5,316.0h7M209.0,312.5v7M212.5,316.0h7M216.0,312.5v7" stroke="#00FF00" stroke-width="1" fill="none"/>
<g fill="#FFA500"><circle cx="210.5" cy="520.1" r="3.3"/><circle cx="213.8" cy="521.0" r="3.3"/><circle cx="217.9" cy="520.1" r="3.3"/><circle cx="252.5" cy="520.1" r="3.3"/><circle cx="263.2" cy="518.1" r="3.3"/><circle cx="273.4" cy="515.2" r="3.3"/><circle cx="282.4" cy="512.3" r="3.3"/><circle cx="292.9" cy="508.0" r="3.3"/><circle cx="300.4" cy="504.1" r="3.3"/><circle cx="307.2" cy="499.6" r="3.3"/><circle cx="311.1" cy="497.6" r="3.3"/><circle cx="315.0" cy="495.7" r="3.3"/><circle cx="319.9" cy="491.8" r="3.3"/><circle cx="324.8" cy="486.9" r="3.3"/><circle cx="332.6" cy="480.0" r="3.3"/><circle cx="335.5" cy="478.1" r="3.3"/><circle cx="338.4" cy="475.2" r="3.3"/><circle cx="309.0" cy="498.7" r="3.3"/><circle cx="313.0" cy="496.6" r="3.3"/><circle cx="317.5" cy="493.8" r="3.3"/><circle cx="322.0" cy="489.5" r="3.3"/><circle cx="327.0" cy="484.8" r="3.3"/><circle cx="334.0" cy="479.0" r="3.3"/><circle cx="337.0" cy="476.5" r="3.3"/></g>
<g stroke="#FFFFBF" stroke-width="1" fill="none">
<line x1="511.5" y1="461.5" x2="780.2" y2="506.8" />
<line x1="780.2" y1="506.8" x2="934.0" y2="427.8" />
<line x1="934.0" y1="427.8" x2="665.3" y2="382.5" />
<line x1="665.3" y1="382.5" x2="511.5" y2="461.5" />
<line x1="511.5" y1="302.0" x2="511.5" y2="461.5" shape-rendering="crispEdges"/>
<line x1="511.5" y1="302.5" x2="519.0" y2="302.5" shape-rendering="crispEdges"/>
<line x1="511.5" y1="329.5" x2="519.0" y2="329.5" shape-rendering="crispEdges"/>
<line x1="511.5" y1="356.5" x2="519.0" y2="356.5" shape-rendering="crispEdges"/>
<line x1="511.5" y1="382.5" x2="519.0" y2="382.5" shape-rendering="crispEdges"/>
<line x1="511.5" y1="408.5" x2="519.0" y2="408.5" shape-rendering="crispEdges"/>
<line x1="511.5" y1="435.5" x2="519.0" y2="435.5" shape-rendering="crispEdges"/>
<line x1="511.5" y1="462.5" x2="519.0" y2="462.5" shape-rendering="crispEdges"/>
<line x1="511.5" y1="461.5" x2="518.6" y2="457.8" />
<line x1="665.3" y1="382.5" x2="658.2" y2="386.2" />
<line x1="556.3" y1="469.1" x2="559.8" y2="467.2" />
<line x1="710.1" y1="390.0" x2="706.5" y2="391.9" />
<line x1="601.1" y1="476.6" x2="608.2" y2="472.9" />
<line x1="754.9" y1="397.6" x2="747.8" y2="401.3" />
<line x1="645.9" y1="484.1" x2="649.4" y2="482.3" />
<line x1="799.6" y1="405.1" x2="796.1" y2="407.0" />
<line x1="690.6" y1="491.7" x2="697.7" y2="488.0" />
<line x1="844.4" y1="412.7" x2="837.3" y2="416.4" />
<line x1="735.4" y1="499.2" x2="739.0" y2="497.4" />
<line x1="889.2" y1="420.2" x2="885.7" y2="422.1" />
<line x1="780.2" y1="506.8" x2="787.3" y2="503.1" />
<line x1="934.0" y1="427.8" x2="926.9" y2="431.5" />
<line x1="780.2" y1="506.8" x2="772.3" y2="505.5" />
<line x1="511.5" y1="461.5" x2="519.4" y2="462.8" />
<line x1="802.2" y1="495.5" x2="794.3" y2="494.2" />
<line x1="533.5" y1="450.2" x2="541.4" y2="451.5" />
<line x1="824.1" y1="484.2" x2="816.3" y2="482.9" />
<line x1="555.4" y1="438.9" x2="563.3" y2="440.3" />
<line x1="846.1" y1="472.9" x2="838.2" y2="471.6" />
<line x1="577.4" y1="427.6" x2="585.3" y2="429.0" />
<line x1="868.1" y1="461.7" x2="860.2" y2="460.3" />
<line x1="599.4" y1="416.4" x2="607.3" y2="417.7" />
<line x1="890.1" y1="450.4" x2="882.2" y2="449.0" />
<line x1="621.4" y1="405.1" x2="629.2" y2="406.4" />
<line x1="912.0" y1="439.1" x2="904.1" y2="437.8" />
<line x1="643.3" y1="393.8" x2="651.2" y2="395.1" />
<line x1="934.0" y1="427.8" x2="926.1" y2="426.5" />
<line x1="665.3" y1="382.5" x2="673.2" y2="383.8" />
</g>
<text transform="translate(495.5,300.2)" y="5.8" fill="#FFFFBF" text-anchor="end" font-size="16">0</text>
<text transform="translate(495.5,326.8)" y="5.8" fill="#FFFFBF" text-anchor="end" font-size="16">-20</text>
<text transform="translate(495.5,353.3)" y="5.8" fill="#FFFFBF" text-anchor="end" font-size="16">-40</text>
<text transform="translate(495.5,379.9)" y="5.8" fill="#FFFFBF" text-anchor="end" font-size="16">-60</text>
<text transform="translate(495.5,406.4)" y="5.8" fill="#FFFFBF" text-anchor="end" font-size="16">-80</text>
<text transform="translate(495.5,432.9)" y="5.8" fill="#FFFFBF" text-anchor="end" font-size="16">-100</text>
<text transform="translate(495.5,459.5)" y="5.8" fill="#FFFFBF" text-anchor="end" font-size="16">-120</text>
<text transform="translate(431.0,382.0) rotate(-90)" y="5.8" fill="#FFFFBF" text-anchor="middle" font-size="16">PSD (dBm)</text>
<text transform="translate(503.0,466.0)" y="5.8" fill="#FFFFBF" text-anchor="middle" font-size="16">02:01:20</text>
<text transform="translate(592.2,481.5)" y="5.8" fill="#FFFFBF" text-anchor="middle" font-size="16">02:01:40</text>
<text transform="translate(682.2,497.6)" y="5.8" fill="#FFFFBF" text-anchor="middle" font-size="16">02:02:00</text>
<text transform="translate(769.0,511.5)" y="5.8" fill="#FFFFBF" text-anchor="middle" font-size="16">02:02:20</text>
<text transform="translate(597.8,505.6) rotate(9.6)" y="5.8" fill="#FFFFBF" text-anchor="middle" font-size="16">Time (UTC)</text>
<text transform="translate(816.7,509.5)" y="5.8" fill="#FFFFBF" text-anchor="middle" font-size="16">1560</text>
<text transform="translate(838.8,498.0)" y="5.8" fill="#FFFFBF" text-anchor="middle" font-size="16">1565</text>
<text transform="translate(860.8,486.6)" y="5.8" fill="#FFFFBF" text-anchor="middle" font-size="16">1570</text>
<text transform="translate(882.9,475.1)" y="5.8" fill="#FFFFBF" text-anchor="middle" font-size="16">1575</text>
<text transform="translate(904.9,463.6)" y="5.8" fill="#FFFFBF" text-anchor="middle" font-size="16">1580</text>
<text transform="translate(927.0,452.1)" y="5.8" fill="#FFFFBF" text-anchor="middle" font-size="16">1585</text>
<text transform="translate(949.0,440.7)" y="5.8" fill="#FFFFBF" text-anchor="middle" font-size="16">1590</text>
<text transform="translate(971.1,429.2)" y="5.8" fill="#FFFFBF" text-anchor="middle" font-size="16">1595</text>
<text transform="translate(930.4,479.6) rotate(-27)" y="5.8" fill="#FFFFBF" text-anchor="middle" font-size="16">Frequency (MHz)</text>
<defs>
<clipPath id="wfc"><polygon points="576.3,414.6 582.5,411.5 588.8,408.4 594.4,405.3 595,392.8 596.3,384 597.8,372.5 600,367.5 602.5,362.5 607.5,360.6 608.8,358.1 611.3,354.4 616.9,351.9 621.3,351.3 623.8,345.6 628.1,344.4 631.3,340 636.3,338.1 642.9,337.3 643.1,316.9 644.6,301.3 648.1,314.4 651.9,315.6 655,308.8 661.5,294 664.4,310 667.3,325.6 670,323.1 673.8,323.1 677.5,320 682.5,318.1 688.8,315 693.8,314.4 696.3,303.8 699.4,305 702.5,295 704.4,300 706.3,293.8 711.3,292.3 716.3,294.4 720,298.8 723.1,295 724.4,300.6 728.1,297.3 730,308.8 732.3,313.8 734.4,320.6 736.3,316.3 738.1,325 745,322.5 748.1,325.6 750.6,323.5 758.8,326.5 767.5,325 771.9,321 777.5,323.8 781.3,326.9 785.6,336.9 792.5,337.5 793.8,340 800,339.4 805,342.5 810,343.1 816.3,341.3 820,342.5 823.1,338.1 825.6,345 830,354.4 836.3,356.3 842.5,354.4 847.5,356.9 857.5,358.8 863.1,362.5 865,368.8 866.9,377.5 868.5,388.1 871.3,387.5 875,391.9 880,390 885.6,389.4 886.5,394.4 882.5,397.5 881.9,402.5 877.5,405 873.1,409.4 868.1,411.9 861.3,413.1 858.8,406.3 856.9,401.3 854.4,405 850,402.5 846.9,401.3 843.8,405.6 840,402.5 836.3,397.5 834.4,390 833.1,385 830,387.5 827.5,388.1 823.1,392.5 820,390 818,390.3 813.8,396.5 811.3,393.4 807.5,397.8 804.4,396.5 800,400.3 797.5,406.5 793.1,402.8 790,405.9 785,408.4 783.8,415.3 781.3,413.4 778.8,419 774.4,420.3 771.9,433.4 769.4,437.8 767.5,449 761.9,456.5 758.8,464 752.5,467.1 745,470.3 741.3,472.8 738.8,468.4 735.3,464 732.5,469 730,464 727.5,470.3 723.8,467.8 720.6,462.8 717.5,454 715,447.5 710.6,452.8 708.8,449.3 705,450.3 700,455.3 696.3,454 693.8,459.6 691.3,454 689.4,459 686.9,452.1 682.5,449 677.5,445.3 672.5,441.5 668.8,430.3 666.3,423.4 661.3,424 659.4,417.1 657.5,411.3 651.3,414.6 646.9,416.5 645,419 643.1,425.9 640,427.8 636.3,431.5 634.4,437.8 630,438.4 625,442.1 621.3,441.5 618.1,447.8 615,442.8 610.6,438.4 606.9,439.6 604.4,442.1 601.9,434 599.4,421.5 595,425.3 592.5,432.8 590,429.6 585.6,429 581.3,424 578.1,419"/></clipPath>
<linearGradient id="wfg" gradientUnits="userSpaceOnUse" x1="710" y1="292" x2="679.8" y2="469.9">
<stop offset="0.000" stop-color="#F2F2E2"/>
<stop offset="0.180" stop-color="#F4F2E0"/>
<stop offset="0.290" stop-color="#FAF1D6"/>
<stop offset="0.383" stop-color="#FAF2DA"/>
<stop offset="0.470" stop-color="#ECF4F1"/>
<stop offset="0.563" stop-color="#D3E8F3"/>
<stop offset="0.672" stop-color="#B3D6EB"/>
<stop offset="0.781" stop-color="#90BBE0"/>
<stop offset="0.891" stop-color="#6E9ED2"/>
<stop offset="0.984" stop-color="#5686C5"/>
</linearGradient>
<filter id="st1" x="0" y="0" width="100%" height="100%" color-interpolation-filters="sRGB"><feTurbulence type="fractalNoise" baseFrequency="0.3 0.03" numOctaves="2" seed="3"/><feColorMatrix type="matrix" values="0 0 0 0 1  0 0 0 0 1  0 0 0 0 1  2.2 0 0 0 -0.95"/></filter>
<filter id="st2" x="0" y="0" width="100%" height="100%" color-interpolation-filters="sRGB"><feTurbulence type="fractalNoise" baseFrequency="0.3 0.03" numOctaves="2" seed="11"/><feColorMatrix type="matrix" values="0 0 0 0 0.31  0 0 0 0 0.5  0 0 0 0 0.75  2.2 0 0 0 -0.95"/></filter>
<filter id="b6" x="-50%" y="-50%" width="200%" height="200%"><feGaussianBlur stdDeviation="6"/></filter>
<filter id="b3" x="-50%" y="-50%" width="200%" height="200%"><feGaussianBlur stdDeviation="2.5"/></filter>
<filter id="b4" x="-50%" y="-50%" width="200%" height="200%"><feGaussianBlur stdDeviation="4"/></filter>
</defs>
<g clip-path="url(#wfc)">
<rect x="570" y="285" width="325" height="195" fill="url(#wfg)"/>
<polygon points="788,330 900,350 900,400 830,392 800,400 788,405" fill="#D0E8F3" filter="url(#b6)"/>
<polygon points="831,386 845,379 862,375 869,386 892,385 892,418 831,418" fill="#74A4D6" filter="url(#b3)"/>
<ellipse cx="868" cy="410" rx="14" ry="6" fill="#5283C4" filter="url(#b3)"/>
<polygon points="642,290 668,290 669,335 664,352 642,350" fill="#FDDC9A" filter="url(#b3)"/>
<polygon points="694,285 738,285 740,330 735,365 720,378 700,372 692,340" fill="#FEE2A6" filter="url(#b6)"/>
<polygon points="698,285 733,285 733,320 726,342 706,342 699,320" fill="#FDD284" filter="url(#b4)"/>
<rect x="771" y="322" width="8" height="62" fill="#FBE6B4" filter="url(#b3)" opacity="0.8"/>
<g><rect x="570" y="285" width="325" height="195" filter="url(#st1)" opacity="0.15"/>
<rect x="570" y="285" width="325" height="195" filter="url(#st2)" opacity="0.12"/></g>
</g>
<polygon points="643.5,317 778.5,247.6 778.5,406.8 643.5,476" fill="none" stroke="#FF0000" stroke-width="1"/>
</svg>
</body></html>
